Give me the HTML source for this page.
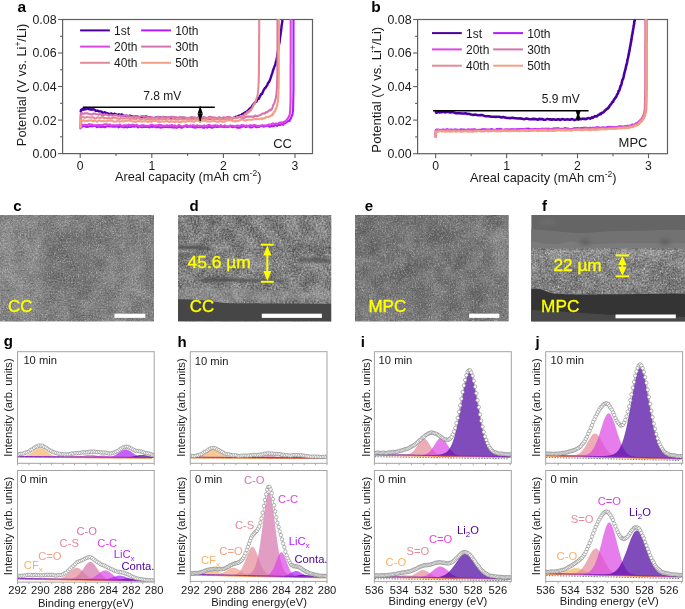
<!DOCTYPE html>
<html><head><meta charset="utf-8"><style>
html,body{margin:0;padding:0;background:#fff;width:685px;height:609px;overflow:hidden;}
</style></head><body>
<svg width="685" height="609" viewBox="0 0 685 609" style="position:absolute;left:0;top:0;will-change:transform" font-family='"Liberation Sans", sans-serif'>
<rect width="685" height="609" fill="#fff"/>
<defs>
<filter id="semn" x="0" y="0" width="100%" height="100%">
 <feTurbulence type="fractalNoise" baseFrequency="0.55" numOctaves="2" seed="3" result="t"/>
 <feColorMatrix type="matrix" values="0 0 0 0 1  0 0 0 0 1  0 0 0 0 1  1.1 0 0 0 -0.55" result="w"/>
 <feComposite in="w" in2="SourceGraphic" operator="in"/>
</filter>
<filter id="semd" x="0" y="0" width="100%" height="100%">
 <feTurbulence type="fractalNoise" baseFrequency="0.6" numOctaves="2" seed="9" result="t"/>
 <feColorMatrix type="matrix" values="0 0 0 0 0  0 0 0 0 0  0 0 0 0 0  0 1.2 0 0 -0.6" result="w"/>
 <feComposite in="w" in2="SourceGraphic" operator="in"/>
</filter>
<filter id="blur4" x="-60%" y="-60%" width="220%" height="220%"><feGaussianBlur stdDeviation="5"/></filter>
<filter id="blur2" x="-60%" y="-60%" width="220%" height="220%"><feGaussianBlur stdDeviation="2"/></filter>
<filter id="blur1" x="-60%" y="-60%" width="220%" height="220%"><feGaussianBlur stdDeviation="0.9"/></filter>
<filter id="blur3" x="-60%" y="-60%" width="220%" height="220%"><feGaussianBlur stdDeviation="3"/></filter>
<clipPath id="cc"><rect x="0" y="215" width="154" height="106.6"/></clipPath>
<clipPath id="cd"><rect x="178" y="215" width="153.3" height="106.6"/></clipPath>
<clipPath id="ce"><rect x="355" y="215" width="153.8" height="106.6"/></clipPath>
<clipPath id="cf"><rect x="531.2" y="215" width="153.8" height="106.6"/></clipPath>
</defs>
<rect x="62.6" y="19.5" width="249.9" height="134.1" fill="none" stroke="#5f5f5f" stroke-width="1.2"/>
<line x1="58.1" y1="153.6" x2="62.6" y2="153.6" stroke="#5f5f5f" stroke-width="1.1"/>
<text x="56.6" y="158" font-size="12.4" fill="#1a1a1a" text-anchor="end" font-weight="normal" >0.00</text>
<line x1="60.1" y1="136.8" x2="62.6" y2="136.8" stroke="#5f5f5f" stroke-width="1.1"/>
<line x1="58.1" y1="120.1" x2="62.6" y2="120.1" stroke="#5f5f5f" stroke-width="1.1"/>
<text x="56.6" y="124.5" font-size="12.4" fill="#1a1a1a" text-anchor="end" font-weight="normal" >0.02</text>
<line x1="60.1" y1="103.3" x2="62.6" y2="103.3" stroke="#5f5f5f" stroke-width="1.1"/>
<line x1="58.1" y1="86.5" x2="62.6" y2="86.5" stroke="#5f5f5f" stroke-width="1.1"/>
<text x="56.6" y="91" font-size="12.4" fill="#1a1a1a" text-anchor="end" font-weight="normal" >0.04</text>
<line x1="60.1" y1="69.8" x2="62.6" y2="69.8" stroke="#5f5f5f" stroke-width="1.1"/>
<line x1="58.1" y1="53" x2="62.6" y2="53" stroke="#5f5f5f" stroke-width="1.1"/>
<text x="56.6" y="57.4" font-size="12.4" fill="#1a1a1a" text-anchor="end" font-weight="normal" >0.06</text>
<line x1="60.1" y1="36.3" x2="62.6" y2="36.3" stroke="#5f5f5f" stroke-width="1.1"/>
<line x1="58.1" y1="19.5" x2="62.6" y2="19.5" stroke="#5f5f5f" stroke-width="1.1"/>
<text x="56.6" y="23.9" font-size="12.4" fill="#1a1a1a" text-anchor="end" font-weight="normal" >0.08</text>
<line x1="80.2" y1="153.6" x2="80.2" y2="158.1" stroke="#5f5f5f" stroke-width="1.1"/>
<text x="80.2" y="170" font-size="12.2" fill="#1a1a1a" text-anchor="middle" font-weight="normal" >0</text>
<line x1="116" y1="153.6" x2="116" y2="156.1" stroke="#5f5f5f" stroke-width="1.1"/>
<line x1="151.8" y1="153.6" x2="151.8" y2="158.1" stroke="#5f5f5f" stroke-width="1.1"/>
<text x="151.8" y="170" font-size="12.2" fill="#1a1a1a" text-anchor="middle" font-weight="normal" >1</text>
<line x1="187.6" y1="153.6" x2="187.6" y2="156.1" stroke="#5f5f5f" stroke-width="1.1"/>
<line x1="223.4" y1="153.6" x2="223.4" y2="158.1" stroke="#5f5f5f" stroke-width="1.1"/>
<text x="223.4" y="170" font-size="12.2" fill="#1a1a1a" text-anchor="middle" font-weight="normal" >2</text>
<line x1="259.2" y1="153.6" x2="259.2" y2="156.1" stroke="#5f5f5f" stroke-width="1.1"/>
<line x1="295" y1="153.6" x2="295" y2="158.1" stroke="#5f5f5f" stroke-width="1.1"/>
<text x="295" y="170" font-size="12.2" fill="#1a1a1a" text-anchor="middle" font-weight="normal" >3</text>
<text x="115" y="180.8" font-size="12.75" fill="#1a1a1a">Areal capacity (mAh cm<tspan font-size="8.5" dy="-5">-2</tspan><tspan dy="5">)</tspan></text>
<text transform="translate(26.3,85) rotate(-90)" font-size="12.8" fill="#1a1a1a" text-anchor="middle">Potential (V vs. Li<tspan font-size="8.5" dy="-5">+</tspan><tspan dy="5">/Li)</tspan></text>
<text x="17.5" y="11.8" font-size="15.5" fill="#000" text-anchor="start" font-weight="bold" >a</text>
<line x1="80.1" y1="30.4" x2="109.9" y2="30.4" stroke="#4a00a0" stroke-width="2"/>
<text x="114.1" y="34.8" font-size="12" fill="#1a1a1a" text-anchor="start" font-weight="normal" >1st</text>
<line x1="141.2" y1="30.4" x2="171" y2="30.4" stroke="#b01cff" stroke-width="2"/>
<text x="175.2" y="34.8" font-size="12" fill="#1a1a1a" text-anchor="start" font-weight="normal" >10th</text>
<line x1="80.1" y1="46.6" x2="109.9" y2="46.6" stroke="#dd44e4" stroke-width="2"/>
<text x="114.1" y="51" font-size="12" fill="#1a1a1a" text-anchor="start" font-weight="normal" >20th</text>
<line x1="141.2" y1="46.6" x2="171" y2="46.6" stroke="#d674ac" stroke-width="2"/>
<text x="175.2" y="51" font-size="12" fill="#1a1a1a" text-anchor="start" font-weight="normal" >30th</text>
<line x1="80.1" y1="62.8" x2="109.9" y2="62.8" stroke="#e48a98" stroke-width="2"/>
<text x="114.1" y="67.2" font-size="12" fill="#1a1a1a" text-anchor="start" font-weight="normal" >40th</text>
<line x1="141.2" y1="62.8" x2="171" y2="62.8" stroke="#f2a085" stroke-width="2"/>
<text x="175.2" y="67.2" font-size="12" fill="#1a1a1a" text-anchor="start" font-weight="normal" >50th</text>
<g fill="none" stroke-width="2.1" stroke-linejoin="round">
<path d="M80.5,111.5 L80.6,111.1 L80.7,111.6 L80.8,110.5 L80.9,111 L81.1,110.6 L81.2,109.9 L81.3,110.4 L81.5,109.5 L81.7,109.9 L82,109.2 L82.3,109 L82.6,109.3 L83,109.8 L83.3,108.6 L83.6,108.6 L84,109.1 L84.4,109.5 L84.8,108.8 L85.2,108.5 L85.7,109.3 L86.1,107.9 L86.6,109.1 L87,108.3 L87.5,108.1 L88,108.1 L88.6,108.5 L89.1,109.3 L89.6,108.5 L90.2,109.3 L90.8,109.5 L91.4,109.3 L92,109.7 L92.9,109.2 L93.8,109.4 L94.8,109.8 L95.8,110.8 L96.8,110.7 L97.9,110.7 L98.9,111.4 L100,111.4 L101.2,111.5 L102.4,112.5 L103.6,112.6 L104.9,112.2 L106.1,113 L107.4,113.2 L108.7,113.9 L110,113.9 L111.4,113.5 L112.9,114.8 L114.4,113.7 L115.9,114.4 L117.4,115.1 L118.9,114.3 L120.5,115 L122,114.5 L123.6,115.6 L125.2,115.9 L126.8,115.7 L128.4,116.3 L130,115.6 L131.7,116.3 L133.3,116.2 L135,116.3 L136.8,116.3 L138.6,117 L140.5,117.3 L142.3,116.7 L144.2,117.1 L146.1,116.3 L148,117.4 L150,117.4 L152.3,118.1 L154.7,117.9 L157.1,117.2 L159.6,117.5 L162.1,118 L164.6,117.1 L166,117.8 L167.3,117.4 L168.6,117.4 L170,117.3 L171.7,118.5 L173.5,117.5 L175.3,117.8 L177.1,118 L179,118.8 L180.9,117.7 L182.9,118.3 L184.8,118.5 L186.7,119 L188.7,118.9 L190.6,119 L192.5,118.2 L194.4,118.4 L196.3,118.4 L198.2,119.2 L200,119.3 L201.7,118.1 L203.3,118.1 L205,118.2 L206.7,118.2 L208.4,118.6 L210,118.8 L211.7,118.3 L213.3,117.9 L214.9,118.5 L216.6,118.4 L218.1,118.7 L219.6,119.3 L221,118.8 L222.4,118.5 L225,118.6 L226.5,118.6 L227.9,117.6 L229.2,118.8 L230.4,118.5 L231.6,118.6 L232.7,118.3 L233.9,117.6 L235,117.3 L236,116.7 L236.9,117.2 L237.8,116.1 L238.7,115.8 L239.5,115.7 L240.4,115.3 L241.2,115.2 L242,114.3 L242.7,113.8 L243.5,113.6 L244.2,113.1 L244.9,113 L245.6,112 L246.2,112.8 L246.9,111.9 L247.5,110.7 L248.1,110.3 L248.7,109.9 L249.2,109.4 L249.8,108.4 L250.3,108.9 L250.8,108.6 L251.4,107.1 L252,106.5 L252.8,104.9 L253.7,104 L254.6,103.2 L255.5,102 L256.4,101.7 L257.3,99.6 L258.1,98.3 L258.9,98.7 L259.5,97.2 L260,95.8 L260.5,95.6 L261,94.1 L261.5,94 L262,93.9 L262.5,92.9 L263,91.8 L263.6,90.1 L264.3,89.2 L265,87.9 L265.7,87.7 L266.4,86.3 L267.1,85.5 L267.7,83.8 L268.3,82.5 L268.8,82.3 L269.3,81.5 L269.8,80.2 L270.3,79 L270.7,77.9 L271.1,76.7 L271.6,74.8 L272,74 L272.5,72.4 L273,70.5 L273.5,69 L274,67.9 L274.5,66.4 L274.9,65.5 L275.4,64.3 L275.8,61.9 L276.3,60.7 L276.7,58.8 L277.1,56.7 L277.5,53.7 L277.9,51.4 L278.3,49.2 L278.6,46.9 L279,44.6 L279.2,43.7 L279.5,42.7 L279.7,41 L279.9,39 L280.1,37.6 L280.3,36.3 L280.6,33.6 L280.8,32.8 L281,31.5 L281.2,29.7 L281.4,28 L281.6,26 L281.9,23.9 L282.1,23.2 L282.3,20.9 L282.5,20" stroke="#4a00a0" stroke-width="2.4"/>
<path d="M80.5,129.2 L80.6,126.2 L80.8,126.2 L80.9,127 L81,126.7 L81.2,125.9 L81.3,125.8 L81.5,125.8 L81.7,126.9 L82,126.8 L84.2,125.8 L85.9,126.8 L87.5,127 L89,126.6 L90.4,126.1 L91.9,126.4 L93.5,125.9 L95.2,125.7 L96.9,127.2 L98.3,126.7 L99.7,126.6 L101.1,127.2 L102.5,126.5 L103.9,127.1 L105.4,127.1 L106.8,126.2 L108.3,126.3 L109.8,126.4 L111.3,126.3 L112.7,126.8 L114.2,126.4 L115.7,126.6 L117.1,126.2 L118.6,127.4 L120,126.6 L121.4,126.7 L122.9,126.9 L124.3,127.4 L125.8,126.7 L127.2,127.5 L128.6,126.9 L130,126.9 L131.4,126.9 L132.7,126.2 L134.1,126.8 L135.4,126.4 L136.8,126.2 L138.1,127.4 L139.6,126.4 L141,126.9 L142.4,127.3 L143.9,127 L145.3,126.7 L146.8,127 L148.2,127 L149.5,127.4 L150.8,126.4 L152.1,127.1 L153.4,126.6 L154.8,126.6 L156.1,127.4 L157.4,127 L158.7,127.1 L160,127.4 L161.3,127.6 L162.7,126.9 L164,127.2 L165.3,127 L166.7,127 L168,127.3 L169.3,126.9 L170.6,127.1 L172,127 L173.3,127.7 L174.6,127.3 L175.9,127.6 L177.2,127.7 L178.6,126.7 L179.9,127.1 L181.4,127.7 L182.8,127.5 L184.3,126.5 L185.8,126.5 L187.3,126.9 L188.7,126.4 L190.2,126.6 L191.6,126.4 L193,127.3 L194.4,127.4 L195.8,127.6 L197.2,126.5 L198.6,127.3 L200,127.2 L201.5,126.5 L202.9,127.6 L204.4,127.7 L205.8,126.6 L207.3,127.7 L208.8,126.8 L210.3,127 L211.8,127.7 L213.3,127.5 L214.8,126.5 L216.3,126.9 L217.8,127 L219.3,126.7 L220.8,126.5 L222.3,126.7 L223.9,127.3 L225.4,126.3 L226.9,127.1 L228.4,126.9 L229.8,126.3 L231.3,126.7 L232.8,127.2 L234.3,127 L235.8,126.3 L237.2,127.7 L238.6,127.4 L240,127.7 L241.4,126.4 L242.9,126.6 L244.3,126.2 L245.6,127.3 L246.9,126.5 L248.2,126.3 L249.5,126.7 L250.8,127.5 L252.1,127.3 L253.5,126.4 L254.9,126.2 L256.3,127.4 L257.7,126.8 L259.1,127 L260.6,126 L262.1,125.9 L263.5,126.7 L265,126.3 L267.4,125.6 L269.7,126.8 L271.7,126.1 L273.6,126.2 L275.3,124.9 L277,125.9 L278.5,124.4 L280,125.3 L280.9,124.5 L281.7,124.2 L282.5,124.3 L283.3,124.7 L284,123.5 L284.7,123 L285.3,123.3 L286,122.6 L286.6,122.1 L287.1,121.9 L287.7,121.4 L288.2,121.3 L288.7,121.1 L289.1,120.6 L289.6,120.9 L290,119.7 L290.4,119.4 L290.8,118.3 L291.2,117.8 L291.5,116.6 L291.8,116.2 L292,115 L292.3,115.3 L292.5,114.1 L292.8,112.1 L293,111.1 L293.1,110.2 L293.1,107.2 L293.2,106.5 L293.2,104 L293.2,102.1 L293.3,100.5 L293.3,98.5 L293.4,97.3 L293.4,96.3 L293.4,95.2 L293.4,92.7 L293.5,91.9 L293.5,90.1 L293.5,88.4 L293.5,86.4 L293.5,85 L293.5,83.2 L293.5,82 L293.5,80.7 L293.5,80.3 L293.5,78.2 L293.5,76.8 L293.5,75.3 L293.5,75.1 L293.5,73.8 L293.5,72.1 L293.5,70.2 L293.5,68.8 L293.5,67.5 L293.5,66.4 L293.5,64.6 L293.5,63.4 L293.5,61.4 L293.5,60.7 L293.5,59 L293.5,56.7 L293.5,54.6 L293.5,54 L293.5,51.3 L293.5,49.7 L293.5,47.5 L293.5,46.3 L293.5,44.8 L293.5,43.1 L293.5,41 L293.5,39.8 L293.5,37.3 L293.5,36 L293.5,34.1 L293.5,32.9 L293.5,30.6 L293.5,28.9 L293.5,27.6 L293.5,25.9 L293.5,24.7 L293.5,22.9 L293.5,21.6 L293.5,19.7" stroke="#b01cff"/>
<path d="M80.5,128.3 L80.5,127 L80.6,124.6 L80.8,124.5 L80.9,125.5 L81,124.2 L81.2,125 L81.3,124.9 L81.5,124 L81.7,125.1 L82,125.2 L84.2,124.7 L85.9,124.9 L87.5,125 L89,124 L90.4,124.6 L91.9,124.6 L93.5,125.2 L95.2,125.2 L96.9,125.2 L98.3,124.9 L99.7,125.4 L101.1,125.1 L102.5,125.2 L103.9,124.5 L105.4,124.2 L106.8,124.4 L108.3,124.8 L109.8,124.4 L111.3,125.6 L112.7,125.2 L114.2,125.3 L115.7,125.3 L117.1,125.4 L118.6,125.2 L120,124.5 L121.4,125.7 L122.9,125.6 L124.3,125.3 L125.8,125.3 L127.2,125.5 L128.7,124.6 L130,125.7 L131.4,125 L132.8,124.7 L134.1,125 L135.5,125.7 L136.8,124.9 L138.2,125.8 L139.6,126.1 L141.1,125.4 L142.5,125.3 L144,125.4 L145.4,125.8 L146.9,125.9 L148.3,125.7 L149.7,125.7 L151,124.9 L152.3,125 L153.6,125.2 L154.9,125.9 L156.2,125.3 L157.6,125.7 L158.9,124.9 L160.2,125 L161.5,125.3 L162.9,125.9 L164.2,125.9 L165.5,125.9 L166.9,125.3 L168.2,125.7 L169.5,125.6 L170.9,125.6 L172.2,125.1 L173.5,126.3 L174.8,125.3 L176.2,126.4 L177.5,126.4 L178.8,125 L180.1,125.7 L181.6,126.2 L183,126.5 L184.5,125.7 L186,125.4 L187.4,125.3 L188.9,126.5 L190.3,125.4 L191.7,125.9 L193.1,125.3 L194.5,125.8 L195.9,126.5 L197.2,125.2 L198.6,126.3 L200,125.8 L201.4,126.4 L202.7,126.1 L204.1,125.4 L205.4,126.4 L206.8,125.8 L208.2,125.1 L209.6,125.1 L211,125.8 L212.3,125.7 L213.7,125.5 L215.1,125.3 L216.5,125.6 L217.9,125.6 L219.3,126.4 L220.7,125.1 L222,126.2 L223.4,126.4 L224.8,125.3 L226.2,126.5 L227.5,126.2 L228.9,126.5 L230.2,125.5 L231.6,125.7 L232.9,125.7 L234.5,126.6 L236,126 L237.6,125.6 L239.1,125.7 L240.7,125.5 L242.1,125.1 L243.6,125.2 L245,126.3 L246.5,125.4 L247.9,126.4 L249.5,125.3 L251.1,125.3 L252.8,125.6 L254.4,125.1 L255.8,125.3 L257.2,126.1 L258.6,125.9 L260,125.8 L262.5,125.3 L264.9,125.5 L267,125.4 L269,124.5 L270.9,124.5 L272.7,123.3 L274.4,124.1 L276,123.4 L277.1,123.7 L278.1,123.5 L279.1,122.8 L280.1,122.4 L281,123.6 L281.8,122.2 L282.6,122.5 L283.4,122.1 L283.9,121.8 L284.5,122.2 L284.9,122.3 L285.4,120.9 L285.8,121.2 L286.2,120.3 L286.6,120.3 L287,119.6 L287.4,118.8 L287.8,118.3 L288.1,117.8 L288.4,118.3 L288.7,117 L289,116 L289.3,116.3 L289.5,115.7 L289.8,113.9 L289.9,112.3 L290.1,111.3 L290.2,109.9 L290.2,109 L290.3,107.3 L290.3,106.1 L290.4,104.6 L290.5,102.6 L290.5,101.7 L290.6,100.2 L290.6,98.2 L290.6,96.8 L290.6,95.4 L290.6,93.7 L290.6,92 L290.6,90 L290.6,88.6 L290.6,88 L290.6,84.9 L290.6,83.7 L290.6,82.1 L290.6,80.5 L290.6,78 L290.6,76.5 L290.6,74.9 L290.6,73.5 L290.6,72.2 L290.6,71.6 L290.6,70 L290.6,68.7 L290.6,66 L290.6,64.5 L290.6,64 L290.7,62.8 L290.7,60.7 L290.7,59.4 L290.7,57.2 L290.7,56.5 L290.7,56 L290.7,54.5 L290.7,53.2 L290.7,52.1 L290.7,49.7 L290.7,48.1 L290.7,46.9 L290.7,46.1 L290.7,45 L290.7,44 L290.7,42.3 L290.7,40.9 L290.7,39.7 L290.7,37.9 L290.7,36.7 L290.7,34.6 L290.7,34.3 L290.7,32.2 L290.7,31.9 L290.7,30.1 L290.7,28.3 L290.7,26.7 L290.7,25.3 L290.7,24.3 L290.7,22.9 L290.7,20.5 L290.7,18.9" stroke="#dd44e4"/>
<path d="M80.5,127 L80.5,125.8 L80.5,124.2 L80.5,122.6 L80.5,121.9 L80.5,119.7 L80.6,118.8 L80.6,117.7 L80.6,117.1 L80.6,115.3 L80.6,114.4 L80.8,113.7 L80.9,113.3 L81.1,113.3 L81.2,114.3 L81.4,113.9 L81.5,113.3 L81.7,112.8 L82,113.5 L83.2,113.7 L85,113.4 L87.1,113.3 L89.4,114 L92,114.6 L93.4,113.6 L94.7,113.5 L96,114 L97.4,114.2 L98.7,114.7 L100,114 L101.7,115 L103.4,115.1 L105.2,114.8 L107,114.5 L108.8,115.8 L110.7,114.9 L112.6,115.8 L114.5,115 L116.5,115.1 L118.4,116.1 L119.7,115.4 L121,116.5 L122.3,115.9 L124.3,115.5 L126.2,115.7 L128.1,116.1 L130,116.5 L131.9,117.1 L133.7,115.9 L135.6,116.4 L137.4,116.2 L139.2,117.4 L141.1,116.2 L142.9,116.1 L144.7,116.2 L146.6,116.7 L148.4,117.5 L150.3,117.6 L152.2,117.4 L154.1,117.8 L156,117.8 L157.4,116.9 L158.7,116.7 L160,117.9 L161.6,117.6 L163.1,116.6 L164.7,117.5 L166.3,117.1 L168,117.1 L169.6,117.1 L171.3,116.9 L172.9,116.7 L174.6,117.1 L176.3,117.2 L178,118.2 L179.6,116.9 L181.3,118.2 L183,117.1 L184.7,117.3 L186.5,118 L188.2,118 L189.9,117.5 L191.6,116.9 L193.3,117.5 L195,117.4 L196.6,118.2 L198.3,117.1 L200,117.4 L201.7,118.2 L203.4,116.9 L205.1,117.5 L206.5,118.1 L207.8,118 L209.1,116.9 L210.5,116.9 L211.8,117 L213.1,118.3 L214.5,117.3 L215.8,118 L217.2,118.2 L218.5,117.4 L219.9,117.3 L221.2,118.3 L222.5,117.8 L223.8,117.3 L225.1,117.9 L226.4,117.3 L228.1,117.3 L229.7,116.8 L231.4,117.9 L232.9,118.1 L234.4,117.7 L235.9,118.1 L237.3,116.7 L238.6,117 L240,117.3 L242.2,117.9 L244.4,117.8 L246.3,116.8 L248.2,116.5 L250,116.6 L251.7,116.5 L253.4,116.9 L255,115.5 L256.3,116.2 L257.5,115.9 L258.6,115.7 L259.8,115.3 L260.9,114.8 L261.9,114 L263,113.6 L264,113.3 L264.9,113.6 L265.7,112.2 L266.5,112 L267.3,112.5 L268.1,111.4 L268.9,110.7 L269.6,110.1 L270.2,110.4 L270.8,109.4 L271.4,109.7 L271.9,108.8 L272.4,108.2 L272.8,106.3 L273.2,105.1 L273.6,104.3 L274,104 L274.4,103.3 L274.8,101.9 L275.1,100.5 L275.4,99.7 L275.6,98.8 L275.9,97.7 L276.1,96.6 L276.3,95.5 L276.5,93.6 L276.7,91.2 L276.8,90.6 L276.9,88.1 L277,86.6 L277.1,84.4 L277.1,82.7 L277.2,79.5 L277.2,78.2 L277.3,76.8 L277.3,75.3 L277.3,75 L277.4,73.2 L277.4,71.5 L277.4,70.2 L277.4,69.8 L277.4,67.7 L277.4,65.8 L277.4,65.2 L277.4,63.5 L277.5,62.5 L277.5,59.7 L277.5,58.9 L277.5,58.1 L277.5,56.8 L277.5,55.6 L277.5,52.9 L277.5,52 L277.5,50.3 L277.5,49 L277.5,48.8 L277.5,46.9 L277.5,46 L277.5,43.8 L277.5,43.1 L277.5,41.1 L277.5,39.4 L277.5,38.8 L277.5,37.6 L277.5,35 L277.5,34.3 L277.5,33 L277.5,31 L277.5,29.9 L277.5,28.2 L277.5,26.9 L277.5,25.7 L277.5,24.9 L277.5,23.6 L277.5,21.7 L277.5,20.1 L277.5,19.2" stroke="#d674ac"/>
<path d="M80.5,127.3 L80.5,125.1 L80.5,123.9 L80.5,122.4 L80.6,121.9 L80.6,120.1 L80.6,118 L80.6,116.7 L80.8,117.1 L80.9,117.3 L81.1,117.5 L81.2,116.6 L81.4,116.7 L81.5,117.5 L81.7,117.1 L82,116.9 L83.2,116.9 L84.9,117.9 L87,117 L89.3,117.5 L91.8,117.3 L93.2,117.4 L94.5,118.2 L95.9,118.4 L97.3,117.5 L98.6,117.3 L100,118.1 L101.4,117.4 L102.8,117.1 L104.2,118.5 L105.7,117.9 L107.2,118.5 L108.7,117.9 L110.3,118.7 L111.9,118.1 L113.5,117.7 L115.2,117.5 L116.8,118.4 L118.5,118.5 L119.8,119 L121.1,117.8 L122.4,118.6 L123.7,118.3 L125.1,118.5 L126.4,118 L127.7,118.2 L129.1,118.6 L130.4,119.3 L131.8,118.1 L133.1,118.7 L134.5,119.2 L135.9,119.4 L137.3,118.3 L138.6,118.2 L140,119.5 L141.4,119.5 L142.8,118.8 L144.2,118.2 L145.6,119.5 L147,118.7 L148.6,119.5 L150.1,119.1 L151.6,119.5 L153.1,118.5 L154.6,119.4 L155.9,118.6 L157.2,118.9 L158.5,119.6 L159.8,119.6 L161.1,118.6 L162.4,118.7 L163.8,119 L165.1,119.2 L166.4,119 L167.8,118.6 L169.1,118.8 L170.4,119.5 L171.7,119.8 L173.1,118.5 L174.4,119.3 L175.7,119.6 L177,118.5 L178.3,119.7 L179.9,118.7 L181.4,119.4 L183,119.3 L184.5,119.4 L186,119 L187.5,119.1 L188.9,119.4 L190.4,119.1 L191.9,119.5 L193.3,119.2 L194.7,119.1 L196,118.5 L197.3,119.4 L198.7,119.2 L200,118.8 L201.5,119.6 L203.1,119.6 L204.6,119.1 L206.1,118.7 L207.6,119.1 L209.1,118.6 L210.6,118.6 L212,119 L213.5,118.5 L214.9,119 L216.3,119.1 L217.7,118.4 L219,119.3 L220.3,118.4 L221.7,119.4 L223.6,119.4 L225.4,118.9 L227.2,118.1 L228.9,118.7 L230.4,118.3 L232,119 L233.7,117.5 L235.3,118.3 L236.8,118.2 L238.2,117.5 L239.5,117.2 L240.7,115.9 L241.9,116.7 L243,115.5 L243.8,115.8 L244.5,115.4 L245.1,113.8 L245.7,114.4 L246.3,114.1 L246.9,112.4 L247.5,112.4 L248,112.6 L248.5,111.3 L248.9,112.1 L249.3,110.9 L249.7,111.3 L250.1,110 L250.5,110.2 L250.9,110.4 L251.3,108.9 L251.8,108.3 L252.3,108 L252.7,106.9 L253.2,105.7 L253.6,105.1 L254,104.2 L254.4,104.5 L254.8,103.3 L255.2,102.8 L255.5,100.8 L255.9,100.9 L256.2,99.1 L256.5,98.8 L256.8,98.1 L257.1,96.8 L257.3,96.6 L257.6,94.9 L257.8,93.7 L257.9,92.8 L258.1,90.4 L258.2,90.3 L258.3,88.3 L258.4,86.5 L258.5,85.4 L258.6,83.3 L258.6,83.1 L258.7,81.1 L258.7,79.4 L258.8,78.5 L258.8,76.5 L258.8,74.6 L258.9,73.9 L258.9,71.2 L258.9,70.7 L258.9,68.2 L258.9,67.1 L258.9,65.9 L259,63.6 L259,62 L259,59.7 L259,57.7 L259,56.2 L259,54.9 L259.1,54 L259.1,52.1 L259.1,50.6 L259.1,49.5 L259.1,46.7 L259.1,45.1 L259.1,44 L259.1,41.4 L259.1,39.6 L259.1,38.8 L259.1,37.1 L259.1,36.2 L259.1,34.7 L259.2,33.9 L259.2,32.6 L259.2,30.7 L259.2,30 L259.2,28.5 L259.2,26.7 L259.2,26.6 L259.2,24.2 L259.2,22.4 L259.2,20.6 L259.2,19.7" stroke="#e48a98"/>
<path d="M80.5,128.6 L80.5,127 L80.5,125.1 L80.6,123.4 L80.6,121.7 L80.6,121.2 L80.8,121.1 L80.9,120.8 L81.1,121.2 L81.2,120.9 L81.4,121.7 L81.5,121.4 L81.7,120.6 L82,121.6 L83.2,120.3 L84.9,121 L86.9,120.9 L89.2,120.6 L91.7,120.3 L93,121.4 L94.4,120.3 L95.8,121.1 L97.2,121.7 L98.6,120.5 L100,120.5 L101.7,121.2 L103.4,121 L105.1,121.2 L106.5,121.5 L107.9,120.6 L109.3,120.8 L110.7,120.8 L112.3,120.4 L113.8,121.7 L115.4,121.5 L116.9,121.4 L118.2,120.4 L119.5,121.6 L120.8,121.5 L122.1,121.1 L123.4,121.5 L124.8,121.1 L126.1,120.8 L127.5,120.6 L128.8,120.8 L130.2,120.5 L131.5,121 L132.9,121.6 L134.2,121.5 L135.6,121.7 L136.9,121.6 L138.2,120.9 L139.6,121.3 L140.9,121.2 L142.2,121.7 L143.6,121.3 L145.2,120.9 L146.8,121.5 L148.4,122 L150,120.9 L151.6,121.9 L153.1,120.6 L154.7,121 L156.3,120.9 L157.9,121.7 L159.5,122 L161,121.7 L162.6,121.1 L164.2,121.9 L165.8,121.1 L167.4,121 L169,122 L170.6,121.6 L172.2,121.7 L173.8,121.6 L175.3,122.1 L176.9,121.3 L178.5,121.9 L180.1,121.7 L181.7,121.9 L183.2,121.3 L184.8,121.7 L186.3,121.5 L187.9,121.1 L189.4,120.9 L191,121.5 L192.5,120.7 L194,122 L195.5,120.8 L197,120.6 L198.5,120.7 L200,121.9 L201.3,121.1 L202.7,120.7 L204,120.6 L205.3,120.6 L206.7,121.5 L208,121.4 L209.3,121.5 L210.7,121.5 L212,120.5 L213.4,121.3 L214.7,120.9 L216,121.6 L217.3,121.6 L218.6,121.7 L220,120.4 L221.3,121.6 L223,121.6 L224.7,121.6 L226.4,120.3 L228,120.5 L229.6,120.3 L231.2,120.1 L232.7,121.3 L234.3,121.2 L235.8,120.9 L237.2,121.1 L238.6,120.8 L240,120.2 L241.3,119.8 L242.6,119.8 L245.2,120.6 L247.6,119.7 L249.9,119.7 L252.1,119.7 L254.2,118.9 L256.1,119.1 L258,118.9 L259.2,119.4 L260.3,118.7 L261.3,118.4 L262.3,119.2 L263.2,118.3 L264.2,118.5 L265.1,118 L266,116.8 L266.8,117.1 L267.6,116.9 L268.4,117.2 L269.2,116.2 L270,116.5 L270.7,115.9 L271.4,115 L272,115.5 L272.6,113.9 L273.1,114.4 L273.5,112.9 L274,112 L274.4,111.6 L274.8,111.8 L275.2,111.4 L275.5,109.3 L275.9,109.2 L276.2,108.4 L276.5,108 L276.7,106.3 L277,105.9 L277.2,104.7 L277.4,104.5 L277.6,102.6 L277.8,102.3 L278,99.8 L278.1,98.2 L278.2,97.4 L278.3,95.5 L278.4,93.1 L278.4,92.1 L278.5,89.4 L278.6,88.9 L278.6,87.2 L278.6,85.6 L278.7,83.7 L278.7,81.4 L278.7,79.7 L278.7,77.8 L278.7,76.6 L278.7,74.1 L278.8,74 L278.8,71.4 L278.8,70.3 L278.8,69.1 L278.8,68.7 L278.8,66.8 L278.8,65.2 L278.8,64.6 L278.8,62.3 L278.8,61.3 L278.8,60 L278.8,58.8 L278.8,57.2 L278.8,55.4 L278.8,53.4 L278.8,51.7 L278.8,49.8 L278.8,49.1 L278.9,47.2 L278.9,45.6 L278.9,43.1 L278.9,41.7 L278.9,40.5 L278.9,38.5 L278.9,36.1 L278.9,34.9 L278.9,33.8 L278.9,31.1 L278.9,29.3 L278.9,27.7 L278.9,26.6 L278.9,25.1 L278.9,22.4 L278.9,20.7 L278.9,19.1" stroke="#f2a085"/>
</g>
<line x1="82.8" y1="107.3" x2="214.8" y2="107.3" stroke="#000" stroke-width="1.5"/>
<line x1="200.2" y1="106.5" x2="200.2" y2="121" stroke="#000" stroke-width="1.2"/>
<path d="M200.2,106 L202.8,113.6 L197.6,113.6 Z M200.2,121.6 L202.8,113.8 L197.6,113.8 Z" fill="#000"/>
<text x="143.3" y="99.9" font-size="12" fill="#1a1a1a" text-anchor="start" font-weight="normal" >7.8 mV</text>
<text x="273.2" y="147.7" font-size="13" fill="#1a1a1a" text-anchor="start" font-weight="normal" >CC</text>
<rect x="417.6" y="19.5" width="249.9" height="134.2" fill="none" stroke="#5f5f5f" stroke-width="1.2"/>
<line x1="413.1" y1="153.7" x2="417.6" y2="153.7" stroke="#5f5f5f" stroke-width="1.1"/>
<text x="411.6" y="158.1" font-size="12.4" fill="#1a1a1a" text-anchor="end" font-weight="normal" >0.00</text>
<line x1="415.1" y1="136.9" x2="417.6" y2="136.9" stroke="#5f5f5f" stroke-width="1.1"/>
<line x1="413.1" y1="120.1" x2="417.6" y2="120.1" stroke="#5f5f5f" stroke-width="1.1"/>
<text x="411.6" y="124.5" font-size="12.4" fill="#1a1a1a" text-anchor="end" font-weight="normal" >0.02</text>
<line x1="415.1" y1="103.4" x2="417.6" y2="103.4" stroke="#5f5f5f" stroke-width="1.1"/>
<line x1="413.1" y1="86.6" x2="417.6" y2="86.6" stroke="#5f5f5f" stroke-width="1.1"/>
<text x="411.6" y="91" font-size="12.4" fill="#1a1a1a" text-anchor="end" font-weight="normal" >0.04</text>
<line x1="415.1" y1="69.8" x2="417.6" y2="69.8" stroke="#5f5f5f" stroke-width="1.1"/>
<line x1="413.1" y1="53" x2="417.6" y2="53" stroke="#5f5f5f" stroke-width="1.1"/>
<text x="411.6" y="57.4" font-size="12.4" fill="#1a1a1a" text-anchor="end" font-weight="normal" >0.06</text>
<line x1="415.1" y1="36.3" x2="417.6" y2="36.3" stroke="#5f5f5f" stroke-width="1.1"/>
<line x1="413.1" y1="19.5" x2="417.6" y2="19.5" stroke="#5f5f5f" stroke-width="1.1"/>
<text x="411.6" y="23.9" font-size="12.4" fill="#1a1a1a" text-anchor="end" font-weight="normal" >0.08</text>
<line x1="435.6" y1="153.7" x2="435.6" y2="158.2" stroke="#5f5f5f" stroke-width="1.1"/>
<text x="435.6" y="170.1" font-size="12.2" fill="#1a1a1a" text-anchor="middle" font-weight="normal" >0</text>
<line x1="471.1" y1="153.7" x2="471.1" y2="156.2" stroke="#5f5f5f" stroke-width="1.1"/>
<line x1="506.6" y1="153.7" x2="506.6" y2="158.2" stroke="#5f5f5f" stroke-width="1.1"/>
<text x="506.6" y="170.1" font-size="12.2" fill="#1a1a1a" text-anchor="middle" font-weight="normal" >1</text>
<line x1="542" y1="153.7" x2="542" y2="156.2" stroke="#5f5f5f" stroke-width="1.1"/>
<line x1="577.5" y1="153.7" x2="577.5" y2="158.2" stroke="#5f5f5f" stroke-width="1.1"/>
<text x="577.5" y="170.1" font-size="12.2" fill="#1a1a1a" text-anchor="middle" font-weight="normal" >2</text>
<line x1="613" y1="153.7" x2="613" y2="156.2" stroke="#5f5f5f" stroke-width="1.1"/>
<line x1="648.5" y1="153.7" x2="648.5" y2="158.2" stroke="#5f5f5f" stroke-width="1.1"/>
<text x="648.5" y="170.1" font-size="12.2" fill="#1a1a1a" text-anchor="middle" font-weight="normal" >3</text>
<text x="470" y="182" font-size="12.75" fill="#1a1a1a">Areal capacity (mAh cm<tspan font-size="8.5" dy="-5">-2</tspan><tspan dy="5">)</tspan></text>
<text transform="translate(380.9,89.7) rotate(-90)" font-size="13.2" fill="#1a1a1a" text-anchor="middle">Potential (V vs. Li<tspan font-size="8.5" dy="-5">+</tspan><tspan dy="5">/Li)</tspan></text>
<text x="371.2" y="12.2" font-size="15.5" fill="#000" text-anchor="start" font-weight="bold" >b</text>
<line x1="432" y1="33.1" x2="461.8" y2="33.1" stroke="#4a00a0" stroke-width="2"/>
<text x="466" y="37.5" font-size="12" fill="#1a1a1a" text-anchor="start" font-weight="normal" >1st</text>
<line x1="493.2" y1="33.1" x2="523" y2="33.1" stroke="#b01cff" stroke-width="2"/>
<text x="527.2" y="37.5" font-size="12" fill="#1a1a1a" text-anchor="start" font-weight="normal" >10th</text>
<line x1="432" y1="49.4" x2="461.8" y2="49.4" stroke="#dd44e4" stroke-width="2"/>
<text x="466" y="53.8" font-size="12" fill="#1a1a1a" text-anchor="start" font-weight="normal" >20th</text>
<line x1="493.2" y1="49.4" x2="523" y2="49.4" stroke="#d674ac" stroke-width="2"/>
<text x="527.2" y="53.8" font-size="12" fill="#1a1a1a" text-anchor="start" font-weight="normal" >30th</text>
<line x1="432" y1="65.7" x2="461.8" y2="65.7" stroke="#e48a98" stroke-width="2"/>
<text x="466" y="70.1" font-size="12" fill="#1a1a1a" text-anchor="start" font-weight="normal" >40th</text>
<line x1="493.2" y1="65.7" x2="523" y2="65.7" stroke="#f2a085" stroke-width="2"/>
<text x="527.2" y="70.1" font-size="12" fill="#1a1a1a" text-anchor="start" font-weight="normal" >50th</text>
<g fill="none" stroke-width="1.9" stroke-linejoin="round">
<path d="M435.6,112.6 L435.8,112.7 L435.9,112.2 L436.1,112.3 L436.2,112 L436.4,112.8 L436.6,112.4 L436.8,111.6 L437,112.6 L437.7,111.4 L438.5,111.7 L439.4,112.4 L440.4,112.3 L441.5,112.3 L442.7,112 L443.8,111.8 L445,112.4 L446.7,111.8 L448.4,112 L450.3,112.4 L452.2,112.1 L454.2,112.6 L456.1,113.3 L458.1,113.3 L460,113.2 L461.9,113.5 L463.8,113.5 L465.6,113.3 L467.5,114 L469.4,113.9 L471.3,114.5 L473.1,114.9 L475,114.5 L476.9,114.9 L478.8,115.3 L480.6,115.1 L482.5,115.1 L484.4,115.9 L486.2,116.3 L488.1,116.3 L490,116.4 L491.9,116.8 L493.7,116.8 L495.6,116.9 L497.5,116.8 L499.4,116.8 L501.2,117.4 L503.1,116.9 L505,117.4 L506.9,118 L508.7,118 L510.6,118.1 L512.4,117.7 L514.3,118.1 L516.2,118.2 L518.1,118.5 L520,118.4 L522.2,118.8 L524.3,119.2 L526.5,118.4 L528.8,119.1 L531,119.3 L533.3,118.9 L535.7,119.1 L538,119.8 L539.3,118.7 L540.7,119.3 L542,118.9 L543.4,119.6 L544.8,119.8 L546.2,119.4 L547.6,118.9 L549,119.4 L550.4,119.4 L551.8,119.6 L553.2,119.4 L554.6,119.5 L555.9,119.8 L557.3,119.4 L558.7,119.3 L560,119.9 L562.5,119.1 L564.9,119.7 L567.4,119.3 L569.9,119.8 L572.2,119.1 L574.5,120.1 L576.7,119.3 L578.7,118.9 L580,119.1 L581.3,119.1 L582.5,118.6 L583.7,119 L584.8,118.9 L585.9,119.1 L587,118.5 L588,118.2 L588.9,118 L589.7,118.5 L590.5,118.6 L591.2,117.9 L592,117.3 L592.8,117.8 L593.5,117 L594.3,116.6 L595.1,116.1 L596,116.5 L596.9,116.2 L597.7,115.5 L598.6,114.9 L599.4,114.5 L600.2,113.7 L601,114.1 L601.8,112.8 L602.5,112.7 L603.3,112.4 L604,111.8 L604.7,110.9 L605.4,110.1 L606.1,109.8 L606.8,108.7 L607.5,108.8 L608.2,107.5 L608.9,107.4 L609.5,105.9 L610.2,105.2 L610.8,104.3 L611.4,103.7 L612,102.6 L612.6,101.6 L613.1,101.7 L613.6,100.4 L614.1,99.6 L614.6,98.9 L615.1,98.3 L615.6,97.4 L616.1,96.8 L616.6,95.8 L617.1,94.4 L617.6,94.1 L618.1,92.9 L618.6,90.9 L619.1,90.7 L619.5,89.7 L620,88.3 L620.5,86.1 L621.1,85.4 L621.6,83.5 L622.1,81.1 L622.6,79.4 L623.1,78.9 L623.6,76.8 L624,74.7 L624.4,73 L624.8,71.5 L625.2,70 L625.5,69.2 L625.9,67.1 L626.3,65.3 L626.6,64.5 L627,62.7 L627.5,59.6 L628,58.1 L628.5,55.2 L628.8,54.1 L629,52.7 L629.3,51.7 L629.5,50.3 L629.8,49 L630,46.9 L630.3,46.2 L630.5,44.7 L630.8,43.6 L631,41.9 L631.2,41.1 L631.5,39.3 L631.7,37.6 L632,36.1 L632.2,34.6 L632.5,33.6 L632.7,31.7 L632.9,30.7 L633.2,28.9 L633.4,27.9 L633.6,26.5 L633.9,25.1 L634.1,24.1 L634.3,21.6 L634.6,21.2 L634.8,19.4" stroke="#4a00a0" stroke-width="2.6"/>
<path d="M435.6,137.6 L435.6,136.2 L435.6,134.9 L435.7,132.9 L435.7,131.5 L435.7,130.6 L436,129.6 L436.2,130.1 L436.4,130.1 L436.7,129.4 L436.9,130 L437.2,130 L437.6,130.2 L438,129.5 L440.2,130.1 L441.7,129.6 L443.2,129.5 L445.1,130 L447,129 L448.4,129.8 L449.8,129.7 L451.2,129.4 L452.8,129.9 L454.3,129.4 L455.9,129.5 L457.4,129.6 L459,129.9 L460.6,129.3 L462.2,129.5 L463.8,129.5 L465.4,129.7 L466.9,130 L468.5,129.4 L470,130 L471.4,129.5 L472.9,129.6 L474.3,129.3 L475.8,129.6 L477.3,130.1 L478.8,129.7 L480.3,129.8 L481.8,129.3 L483.4,129.3 L485,129.3 L486.6,129.6 L488.2,129.6 L489.8,129.7 L491.4,128.9 L493,129.6 L494.7,129.8 L496,129.4 L497.3,128.9 L498.6,129.1 L499.9,128.8 L501.2,129 L502.8,129.8 L504.4,129.4 L506,129.4 L507.6,129.6 L509.2,129.7 L510.8,129.3 L512.4,129.3 L513.9,129.3 L515.5,129.4 L517,129.2 L518.5,129.3 L520,128.8 L521.3,129.3 L522.6,129 L523.9,129.3 L525.3,128.6 L527,128.7 L528.7,128.5 L530.4,129.3 L532.2,129.4 L533.9,129.1 L535.6,128.8 L537.3,129.3 L539,129.2 L540.6,128.9 L542.3,128.6 L544,128.6 L545.6,128.7 L547.2,128.6 L548.9,128.7 L550.5,128.9 L552.1,129.2 L553.7,128.2 L555.3,128.7 L556.9,128.1 L558.4,128.2 L560,128.9 L561.3,128.7 L562.7,129 L564,128.5 L565.3,128 L566.6,128.4 L567.9,128.6 L569.9,128.9 L571.8,128.9 L573.7,128.3 L575.6,128.2 L577.5,127.9 L579.4,128.4 L581.2,127.9 L583,127.8 L584.8,127.6 L586.6,127.6 L588.3,128.3 L590,127.6 L591.4,128.5 L592.7,127.5 L594,128.3 L595.4,127.4 L597.9,127.2 L600.4,127.9 L602.9,127.3 L605.3,127.7 L607.7,127 L610,126.7 L612,127.4 L614,127.2 L615.9,127.3 L617.8,127 L619.7,126.2 L621.5,126.6 L623.3,126.5 L625,126.1 L626.4,126.4 L627.7,125.5 L629,126.1 L630.3,125.7 L631.6,124.7 L632.7,124.5 L633.9,124.8 L634.9,124.6 L635.7,123.5 L636.4,123.3 L637.1,123.4 L637.8,122.3 L638.4,122.6 L639,121.7 L639.5,120.7 L640.1,120.5 L640.6,120.1 L641.1,119.4 L641.6,119.1 L642.1,117.9 L642.5,117.9 L642.9,116.8 L643.3,116.4 L643.6,115.7 L643.9,114.8 L644.2,114.1 L644.4,113.8 L644.6,113.2 L644.8,112.3 L645,111.3 L645.2,110.2 L645.3,109.1 L645.5,109.1 L645.6,107.7 L645.7,106.8 L645.7,105.2 L645.8,104.3 L645.8,103.4 L645.9,101.9 L645.9,100.1 L645.9,97.9 L646,96.2 L646,95.3 L646,93.3 L646,92.1 L646.1,90.4 L646.1,89.1 L646.1,87.4 L646.1,85.5 L646.1,83.8 L646.1,82.8 L646.1,81.6 L646.1,80.5 L646.1,79.3 L646.1,78 L646.1,75.7 L646.1,75.2 L646.1,73.8 L646.1,72.5 L646.1,70.7 L646.1,69 L646.1,68.3 L646.1,66.9 L646.1,65.4 L646.1,64.4 L646.1,62.4 L646.1,60.8 L646.1,60.1 L646.1,58.6 L646.1,56.3 L646.1,55.2 L646.1,53.7 L646.1,51.3 L646.1,50 L646.1,48.4 L646.1,46.5 L646.1,44.5 L646.1,42.8 L646.2,41.7 L646.2,40 L646.2,38 L646.2,35.9 L646.2,35 L646.2,33.2 L646.2,31 L646.2,29.6 L646.2,28.3 L646.2,26.6 L646.2,24.5 L646.2,22.8 L646.2,21.2 L646.2,19.1" stroke="#b01cff"/>
<path d="M435.6,137.2 L435.6,135.7 L435.6,134.9 L435.7,133.1 L435.7,132 L435.7,130.4 L436,130.5 L436.2,130 L436.4,129.8 L436.7,130.8 L436.9,130.1 L437.2,129.8 L437.6,130.3 L438,130.4 L440.2,129.6 L441.7,130.1 L443.2,129.8 L445.1,129.9 L447,129.4 L448.4,129.4 L449.8,130.5 L451.2,130.3 L452.8,129.9 L454.3,130 L455.9,129.7 L457.4,130.3 L459,129.9 L460.6,130.5 L462.2,130.3 L463.8,130.4 L465.4,130.5 L466.9,129.7 L468.5,129.5 L470,129.7 L471.4,129.6 L472.9,129.5 L474.3,129.5 L475.8,130 L477.3,130.4 L478.8,129.9 L480.3,130.4 L481.8,130.4 L483.4,129.4 L485,130 L486.6,129.7 L488.2,129.4 L489.8,130.3 L491.4,129.5 L493,129.9 L494.7,129.9 L496,130.3 L497.3,129.9 L498.6,129.6 L499.9,129.7 L501.2,129.3 L502.8,130.2 L504.4,130.2 L506,129.4 L507.6,129.1 L509.2,129.4 L510.8,129.4 L512.4,130 L513.9,130 L515.5,129.9 L517,129 L518.5,129.8 L520,129.7 L521.3,129.6 L522.6,130 L523.9,129 L525.3,129.1 L527,129.7 L528.7,129.9 L530.4,129.6 L532.2,129.1 L533.9,129.4 L535.6,129.6 L537.3,128.9 L539,129.1 L540.6,129 L542.3,128.8 L544,129.2 L545.6,128.8 L547.2,128.9 L548.9,128.8 L550.5,129.3 L552.1,128.6 L553.7,129.3 L555.3,128.7 L556.9,128.5 L558.4,129.5 L560,128.7 L561.3,129.5 L562.7,129.4 L564,129.4 L565.3,128.5 L566.6,128.8 L567.9,128.4 L569.9,129.3 L571.8,129.2 L573.7,128.9 L575.6,128.7 L577.5,128.5 L579.4,129 L581.2,128.6 L583,128.7 L584.8,128.1 L586.6,128.2 L588.3,128 L590,128.6 L591.4,128.4 L592.7,127.9 L594,128.7 L595.4,128 L597.9,128 L600.4,127.7 L602.9,127.7 L605.3,128.2 L607.7,127.5 L610,127.2 L612,127.5 L614,127.2 L615.9,127.7 L617.8,126.7 L619.7,127.5 L621.5,126.4 L623.3,127.1 L625,126.7 L626.4,126 L627.7,126.2 L629,125.8 L630.3,125.6 L631.5,125.3 L632.7,125.2 L633.8,125.6 L634.8,125.2 L635.6,124.8 L636.3,123.5 L637,123.3 L637.6,123.5 L638.3,122.1 L638.9,122.3 L639.4,121.3 L640,121.5 L640.5,119.9 L641,120.2 L641.5,119.1 L642,118.2 L642.4,117.5 L642.8,117.7 L643.2,116.7 L643.5,115.7 L643.8,115.2 L644.1,115.1 L644.3,113.6 L644.5,113.2 L644.7,112 L644.9,111.3 L645.1,111.1 L645.2,110.2 L645.4,108.6 L645.5,107.4 L645.6,106.3 L645.6,105.7 L645.7,104.4 L645.7,102.8 L645.8,101.3 L645.8,100.1 L645.8,98.4 L645.9,96.6 L645.9,94.9 L645.9,93 L645.9,91.4 L646,90.5 L646,88.5 L646,87.2 L646,85.2 L646,84.7 L646,82.8 L646,82.1 L646,80.7 L646,78.9 L646,77 L646,76.6 L646,74.8 L646,73.8 L646,71.8 L646,70.3 L646,69.6 L646,67.8 L646,66.2 L646,65.1 L646,63.6 L646,61.2 L646,60 L646,58.3 L646,56.6 L646,54.5 L646,53.5 L646,51.9 L646,50.3 L646,48 L646,46.7 L646,44.7 L646,43.4 L646.1,40.9 L646.1,40.1 L646.1,38.5 L646.1,36.3 L646.1,34.7 L646.1,33 L646.1,31.3 L646.1,29 L646.1,28.4 L646.1,25.9 L646.1,24.1 L646.1,22.3 L646.1,20.8 L646.1,19.7" stroke="#dd44e4"/>
<path d="M435.6,137 L435.6,135.5 L435.6,134.6 L435.7,132.4 L435.7,130.7 L436,131.3 L436.2,131.2 L436.4,131.1 L436.7,131.2 L436.9,130.5 L437.2,131.3 L437.6,131.1 L438,130.3 L440.2,130.3 L441.7,130.6 L443.2,130.6 L445.1,130.4 L447,130.2 L448.4,130.5 L449.8,130.2 L451.2,130.7 L452.8,131 L454.3,130.3 L455.9,130.7 L457.4,130.9 L459,130.3 L460.6,131.1 L462.2,131.2 L463.8,130.6 L465.4,130.6 L466.9,131.1 L468.5,130.7 L470,130.6 L471.4,131.2 L472.9,131 L474.3,130.5 L475.8,130.4 L477.3,130.5 L478.8,130.6 L480.3,131.1 L481.8,130.9 L483.4,131 L485,130.9 L486.6,130.9 L488.2,130.1 L489.8,130.5 L491.4,131 L493,131 L494.7,130.2 L496,130.4 L497.3,130.6 L498.6,130.3 L499.9,130.5 L501.2,129.9 L502.8,130.3 L504.4,130.4 L506,129.8 L507.6,129.9 L509.2,130.8 L510.8,130.6 L512.4,130.8 L513.9,130.4 L515.5,130.6 L517,130.7 L518.5,130.6 L520,129.7 L521.3,130.3 L522.6,129.9 L523.9,130.4 L525.3,129.9 L527,130.2 L528.7,130.6 L530.4,130.2 L532.2,129.8 L533.9,130.1 L535.6,130 L537.3,130.5 L539,129.8 L540.6,129.8 L542.3,130.1 L544,129.5 L545.6,130 L547.2,130.4 L548.9,129.9 L550.5,129.6 L552.1,129.8 L553.7,129.8 L555.3,129.4 L556.9,129.3 L558.4,129.3 L560,129.5 L561.3,129.6 L562.7,129.4 L564,129.4 L565.3,129.2 L566.6,129.6 L567.9,129.9 L569.9,129.7 L571.8,129.6 L573.7,129.6 L575.6,129.1 L577.5,129.6 L579.4,129.3 L581.2,129.4 L583,129.4 L584.8,129.2 L586.6,129 L588.3,128.9 L590,128.8 L591.4,129.1 L592.7,128.9 L594,129.1 L595.4,128.4 L597.9,128.7 L600.4,129.1 L602.9,128.4 L605.3,128.6 L607.7,128.4 L610,128.1 L612,128.7 L614,127.9 L616,128.3 L617.9,127.5 L619.8,127.3 L621.6,128 L623.3,127.3 L625,126.7 L626.2,126.9 L627.5,126.8 L628.6,127 L629.8,126.1 L630.9,126 L631.9,126.6 L632.9,126 L633.9,125 L634.7,124.9 L635.4,124.5 L636.1,124.4 L636.7,123.9 L637.4,123.7 L638,123.1 L638.5,122.3 L639.1,122 L639.6,121.4 L640.1,120.9 L640.6,119.9 L641.1,119.7 L641.5,118.9 L641.9,118.5 L642.3,117 L642.6,117.1 L642.9,115.5 L643.2,115.6 L643.4,114.7 L643.6,113.9 L643.8,113.6 L644,112.4 L644.2,111.5 L644.3,111 L644.5,110 L644.6,108.5 L644.7,107.1 L644.7,105.9 L644.8,104.6 L644.8,103.5 L644.9,101.5 L644.9,99.9 L644.9,98.2 L645,96.1 L645,94.6 L645,93.6 L645,92.2 L645.1,90.2 L645.1,88.5 L645.1,86.5 L645.1,85.3 L645.1,83.9 L645.1,83 L645.1,81.7 L645.1,79.8 L645.1,79.3 L645.1,77.3 L645.1,76.5 L645.1,75.1 L645.1,73.9 L645.1,71.7 L645.1,70.5 L645.1,69.7 L645.1,67.4 L645.1,66 L645.1,65.3 L645.1,63.5 L645.1,62.2 L645.1,60.3 L645.1,58.4 L645.1,57.2 L645.1,55 L645.1,53.3 L645.1,51.8 L645.1,49.7 L645.1,48 L645.1,46.6 L645.1,44.6 L645.1,43.6 L645.2,41.6 L645.2,39.7 L645.2,37.6 L645.2,36.2 L645.2,34.5 L645.2,33 L645.2,31.3 L645.2,30 L645.2,28.4 L645.2,26.2 L645.2,24.4 L645.2,22.9 L645.2,21.6 L645.2,19.2" stroke="#d674ac"/>
<path d="M435.6,137.5 L435.6,136.4 L435.6,134.2 L435.7,132.9 L435.7,132.2 L436,132 L436.2,131.6 L436.4,131.1 L436.7,131.9 L436.9,131.6 L437.2,131.7 L437.6,131.9 L438,131.7 L440.2,131.1 L441.7,130.8 L443.2,130.9 L445.1,131.1 L447,131.1 L448.4,130.8 L449.8,130.8 L451.2,131.3 L452.8,131.3 L454.3,131 L455.9,131.7 L457.4,131.3 L459,130.7 L460.6,131.1 L462.2,131.5 L463.8,131 L465.4,131.4 L466.9,130.7 L468.5,131 L470,131.6 L471.4,131.3 L472.9,131.4 L474.3,130.8 L475.8,131.2 L477.3,131.2 L478.8,130.9 L480.3,131.3 L481.8,131.1 L483.4,131.6 L485,131.2 L486.6,131 L488.2,130.6 L489.8,130.7 L491.4,131.3 L493,130.6 L494.7,130.5 L496,130.6 L497.3,131 L498.6,131.3 L499.9,131 L501.2,131.2 L502.8,130.4 L504.4,130.3 L506,131.2 L507.6,130.6 L509.2,131.1 L510.8,130.6 L512.4,130.4 L513.9,130.5 L515.5,130.3 L517,131.2 L518.5,130.8 L520,130.5 L521.3,130.6 L522.6,130.5 L523.9,130.2 L525.3,131.1 L527,130.7 L528.7,131.1 L530.4,130.5 L532.2,130.7 L533.9,130.3 L535.6,130 L537.3,131 L539,130.9 L540.6,130.3 L542.3,130.9 L544,130.8 L545.6,130.2 L547.2,130.5 L548.9,130.9 L550.5,130.3 L552.1,130.8 L553.7,130 L555.3,130.2 L556.9,130.5 L558.4,129.9 L560,130 L561.3,130.6 L562.7,130.1 L564,130.5 L565.3,129.8 L566.6,129.7 L567.9,129.9 L569.9,129.7 L571.8,130.5 L573.7,129.7 L575.6,130 L577.5,129.5 L579.4,129.9 L581.2,129.7 L583,129.7 L584.8,129.3 L586.6,129.3 L588.3,130 L590,129.4 L591.4,129.3 L592.7,129.2 L594,129.2 L595.4,129.1 L597.9,128.8 L600.4,129.4 L602.9,129 L605.3,128.7 L607.7,129.2 L610,128.4 L612,128.4 L614,128.9 L615.9,128.1 L617.8,128.3 L619.7,128.6 L621.5,128.4 L623.3,127.5 L625,127.5 L626.5,127.8 L627.9,127.3 L629.3,127.7 L630.7,126.7 L632.1,127.4 L633.4,126.6 L634.6,126 L635.7,125.8 L636.5,125.1 L637.2,125.4 L637.9,124.5 L638.6,124.7 L639.2,123.9 L639.8,123.1 L640.3,122.5 L640.9,122.3 L641.4,121.3 L641.9,121.5 L642.4,120.1 L642.9,119.9 L643.3,119.3 L643.7,118.3 L644.1,118.2 L644.4,117.1 L644.7,116.7 L645,115.9 L645.2,114.9 L645.4,114.3 L645.6,113.2 L645.8,112.5 L646,112.4 L646.1,111 L646.3,110.2 L646.4,108.4 L646.5,107.6 L646.5,106.1 L646.6,104.9 L646.6,103.1 L646.7,101.3 L646.7,99.8 L646.7,97.8 L646.8,95.8 L646.8,94.9 L646.8,93 L646.8,91.6 L646.8,90.5 L646.9,88.8 L646.9,87.2 L646.9,85.9 L646.9,83.8 L646.9,82.6 L646.9,81 L646.9,80.4 L646.9,79 L646.9,77.3 L646.9,76 L646.9,74.9 L646.9,73.6 L646.9,71.7 L646.9,71 L646.9,69.1 L646.9,68 L646.9,66.2 L646.9,64.8 L646.9,63.9 L646.9,62 L646.9,60.2 L646.9,57.8 L646.9,56.1 L646.9,54.6 L646.9,52.9 L646.9,51.3 L646.9,49.7 L646.9,47.7 L646.9,46.3 L646.9,44.9 L646.9,42.8 L647,41.8 L647,39.8 L647,38.3 L647,36.1 L647,34.6 L647,33.1 L647,31.1 L647,29 L647,28.2 L647,26.5 L647,24.2 L647,22.3 L647,21.5 L647,19.5" stroke="#e48a98"/>
<path d="M435.6,137 L435.6,135.8 L435.6,134.3 L435.7,133.6 L435.7,131.6 L436,132.3 L436.2,132.1 L436.4,131.3 L436.7,131.9 L436.9,131.5 L437.2,131.9 L437.6,131.9 L438,131.3 L440.2,130.9 L441.7,131.8 L443.2,131.2 L445.1,131.8 L447,131.5 L448.4,131.6 L449.8,131.7 L451.2,131.5 L452.8,131.3 L454.3,130.9 L455.9,131.6 L457.4,131.3 L459,131.4 L460.6,131.9 L462.2,131 L463.8,131.7 L465.4,130.9 L466.9,131.6 L468.5,131.7 L470,131.1 L471.4,131.4 L472.9,131.9 L474.3,131.5 L475.8,131.4 L477.3,131.1 L478.8,130.8 L480.3,131.2 L481.8,131.2 L483.4,131 L485,131.1 L486.6,130.9 L488.2,131.5 L489.8,131.4 L491.4,130.9 L493,130.9 L494.7,131.2 L496,131.1 L497.3,131.6 L498.6,131 L499.9,130.9 L501.2,131.5 L502.8,130.7 L504.4,131.1 L506,130.9 L507.6,131.4 L509.2,131.1 L510.8,131.3 L512.4,130.6 L513.9,131.2 L515.5,131.1 L517,130.9 L518.5,131.2 L520,131.3 L521.3,130.5 L522.6,130.6 L523.9,130.7 L525.3,130.5 L527,130.3 L528.7,130.6 L530.4,130.5 L532.2,131 L533.9,130.7 L535.6,130.3 L537.3,130.5 L539,130.7 L540.6,130.5 L542.3,130.3 L544,130.2 L545.6,130.1 L547.2,131.1 L548.9,130.8 L550.5,130.1 L552.1,130.8 L553.7,131 L555.3,130.5 L556.9,130 L558.4,130.4 L560,130.3 L561.3,130 L562.7,130.4 L564,129.8 L565.3,130.8 L566.6,130.5 L567.9,130.4 L569.9,130.7 L571.8,130.4 L573.7,129.9 L575.6,129.9 L577.5,129.7 L579.4,129.5 L581.2,130.3 L583,130.4 L584.8,129.7 L586.6,129.6 L588.3,130 L590,130.2 L591.4,130.2 L592.7,129.4 L594,130 L595.4,130 L597.9,129.8 L600.4,129.3 L602.9,129 L605.3,129.6 L607.7,128.9 L610,128.9 L612,128.9 L614,128.6 L615.9,129 L617.8,128.3 L619.7,127.9 L621.5,128.3 L623.3,128.2 L625,128.3 L626.4,128 L627.7,128 L629,127.9 L630.3,127.2 L631.6,127 L632.7,126.4 L633.9,126.3 L634.9,126.2 L635.7,125.3 L636.4,125.6 L637.1,124.6 L637.8,124.4 L638.4,124.5 L639,123 L639.5,122.4 L640.1,122.3 L640.6,121.5 L641.1,121.5 L641.6,120.1 L642.1,120.4 L642.5,119.8 L642.9,119.1 L643.3,118 L643.6,117.2 L643.9,116.9 L644.2,116 L644.4,115.2 L644.6,114.4 L644.8,113.8 L645,113.2 L645.2,112.6 L645.3,111.8 L645.5,109.8 L645.6,108.8 L645.7,107.6 L645.7,106.4 L645.8,104.8 L645.8,103.1 L645.9,101.3 L645.9,99.8 L645.9,98 L646,96.7 L646,95.1 L646,93.6 L646,92.2 L646,90.6 L646.1,88.6 L646.1,87.1 L646.1,85 L646.1,84.4 L646.1,83 L646.1,81.3 L646.1,80.3 L646.1,79.3 L646.1,77.4 L646.1,76.3 L646.1,74.5 L646.1,73.2 L646.1,72.4 L646.1,70.1 L646.1,68.9 L646.1,68.1 L646.1,66.5 L646.1,64.7 L646.1,63.6 L646.1,61.6 L646.1,60.1 L646.1,58.2 L646.1,56.7 L646.1,55 L646.1,53.1 L646.1,51.1 L646.1,49.5 L646.1,48.6 L646.1,46.5 L646.1,44.4 L646.1,43.5 L646.2,41.1 L646.2,39.3 L646.2,38.1 L646.2,36.1 L646.2,34.6 L646.2,33 L646.2,31 L646.2,29.6 L646.2,27.4 L646.2,26.2 L646.2,24.6 L646.2,22.3 L646.2,21 L646.2,18.9" stroke="#f2a085"/>
</g>
<line x1="433" y1="110.8" x2="588.6" y2="110.8" stroke="#000" stroke-width="1.5"/>
<path d="M575.7,111 L580.5,111 L579.3,115 L580.4,118.8 L578.2,120.9 L575.9,118.8 L577,115 Z" fill="#000"/>
<text x="541.8" y="102.9" font-size="12" fill="#1a1a1a" text-anchor="start" font-weight="normal" >5.9 mV</text>
<text x="618.6" y="146.8" font-size="13" fill="#1a1a1a" text-anchor="start" font-weight="normal" >MPC</text>
<g clip-path="url(#cc)">
<rect x="0" y="215" width="154" height="106.6" fill="#818181"/>
<ellipse cx="18" cy="270" rx="26" ry="55" fill="#8e8e8e" opacity="0.9" filter="url(#blur4)"/>
<ellipse cx="72" cy="268" rx="26" ry="34" fill="#707070" opacity="0.9" filter="url(#blur4)"/>
<ellipse cx="55" cy="252" rx="10" ry="8" fill="#686868" opacity="0.8" filter="url(#blur4)"/>
<ellipse cx="98" cy="242" rx="14" ry="14" fill="#707070" opacity="0.8" filter="url(#blur4)"/>
<ellipse cx="128" cy="276" rx="16" ry="26" fill="#8c8c8c" opacity="0.9" filter="url(#blur4)"/>
<ellipse cx="138" cy="228" rx="16" ry="12" fill="#777777" opacity="0.7" filter="url(#blur4)"/>
<ellipse cx="85" cy="310" rx="25" ry="10" fill="#7a7a7a" opacity="0.7" filter="url(#blur4)"/>
<filter id="nz11" x="0" y="0" width="100%" height="100%" filterUnits="objectBoundingBox" color-interpolation-filters="sRGB"><feTurbulence type="fractalNoise" baseFrequency="0.6" numOctaves="2" seed="11"/><feColorMatrix type="matrix" values="1 0 0 0 0  1 0 0 0 0  1 0 0 0 0  0 0 0 0 1"/><feComponentTransfer><feFuncR type="linear" slope="1.2" intercept="-0.09999999999999998"/><feFuncG type="linear" slope="1.2" intercept="-0.09999999999999998"/><feFuncB type="linear" slope="1.2" intercept="-0.09999999999999998"/></feComponentTransfer><feGaussianBlur stdDeviation="0.55"/></filter>
<filter id="pt11" x="0" y="0" width="100%" height="100%" filterUnits="objectBoundingBox" color-interpolation-filters="sRGB"><feTurbulence type="fractalNoise" baseFrequency="0.07" numOctaves="3" seed="111"/><feColorMatrix type="matrix" values="1 0 0 0 0  1 0 0 0 0  1 0 0 0 0  0 0 0 0 1"/><feComponentTransfer><feFuncR type="linear" slope="2.2" intercept="-0.6000000000000001"/><feFuncG type="linear" slope="2.2" intercept="-0.6000000000000001"/><feFuncB type="linear" slope="2.2" intercept="-0.6000000000000001"/></feComponentTransfer></filter>
<rect x="0" y="215" width="154" height="106.6" filter="url(#pt11)" opacity="0.1"/>
<rect x="0" y="215" width="154" height="106.6" filter="url(#nz11)" opacity="0.24"/>
<filter id="sp11" x="0" y="0" width="100%" height="100%" filterUnits="objectBoundingBox" color-interpolation-filters="sRGB"><feTurbulence type="turbulence" baseFrequency="0.55" numOctaves="2" seed="61"/><feColorMatrix type="matrix" values="0 0 0 0 1  0 0 0 0 1  0 0 0 0 1  8 0 0 0 -3.3"/></filter>
<rect x="0" y="215" width="154" height="106.6" filter="url(#sp11)" opacity="0.22"/>
</g>
<rect x="114.5" y="313.7" width="30.8" height="4.2" fill="#fff"/>
<text x="8.1" y="312.3" font-size="16.8" fill="#ffff00" text-anchor="start" font-weight="normal" stroke="#ff0" stroke-width="0.35">CC</text>
<text x="13.2" y="211.3" font-size="15" fill="#000" text-anchor="start" font-weight="bold" >c</text>
<g clip-path="url(#cd)">
<rect x="178" y="215" width="153.3" height="106.6" fill="#7e7e7e"/>
<ellipse cx="250" cy="225" rx="80" ry="10" fill="#7a7a7a" opacity="1.0" filter="url(#blur4)"/>
<ellipse cx="305" cy="232" rx="28" ry="12" fill="#858585" opacity="0.8" filter="url(#blur4)"/>
<ellipse cx="250" cy="262" rx="70" ry="12" fill="#868686" opacity="0.7" filter="url(#blur4)"/>
<ellipse cx="290" cy="276" rx="22" ry="6" fill="#646464" opacity="0.7" filter="url(#blur4)"/>
<ellipse cx="318" cy="275" rx="10" ry="8" fill="#9a9a9a" opacity="0.6" filter="url(#blur4)"/>
<ellipse cx="240" cy="294" rx="60" ry="5" fill="#8c8c8c" opacity="0.8" filter="url(#blur4)"/>
<filter id="nz12" x="0" y="0" width="100%" height="100%" filterUnits="objectBoundingBox" color-interpolation-filters="sRGB"><feTurbulence type="fractalNoise" baseFrequency="0.55" numOctaves="2" seed="12"/><feColorMatrix type="matrix" values="1 0 0 0 0  1 0 0 0 0  1 0 0 0 0  0 0 0 0 1"/><feComponentTransfer><feFuncR type="linear" slope="1.3" intercept="-0.15000000000000002"/><feFuncG type="linear" slope="1.3" intercept="-0.15000000000000002"/><feFuncB type="linear" slope="1.3" intercept="-0.15000000000000002"/></feComponentTransfer><feGaussianBlur stdDeviation="0.55"/></filter>
<filter id="pt12" x="0" y="0" width="100%" height="100%" filterUnits="objectBoundingBox" color-interpolation-filters="sRGB"><feTurbulence type="fractalNoise" baseFrequency="0.07" numOctaves="3" seed="112"/><feColorMatrix type="matrix" values="1 0 0 0 0  1 0 0 0 0  1 0 0 0 0  0 0 0 0 1"/><feComponentTransfer><feFuncR type="linear" slope="2.2" intercept="-0.6000000000000001"/><feFuncG type="linear" slope="2.2" intercept="-0.6000000000000001"/><feFuncB type="linear" slope="2.2" intercept="-0.6000000000000001"/></feComponentTransfer></filter>
<rect x="178" y="215" width="153.3" height="106.6" filter="url(#pt12)" opacity="0.2"/>
<rect x="178" y="215" width="153.3" height="106.6" filter="url(#nz12)" opacity="0.35"/>
<filter id="sp12" x="0" y="0" width="100%" height="100%" filterUnits="objectBoundingBox" color-interpolation-filters="sRGB"><feTurbulence type="turbulence" baseFrequency="0.5" numOctaves="2" seed="62"/><feColorMatrix type="matrix" values="0 0 0 0 1  0 0 0 0 1  0 0 0 0 1  8 0 0 0 -3.3"/></filter>
<rect x="178" y="215" width="153.3" height="106.6" filter="url(#sp12)" opacity="0.3"/>
<path d="M178,245.5 C185,245 195,246 205,247 C210,247.5 214,249 216,249.5 L205,249.5 C195,249 185,249 178,249.2 Z" fill="#4c4c4c" opacity="0.85" filter="url(#blur1)"/>
<path d="M178,254 L192,254.5 L194,256.3 L178,256.5 Z" fill="#555" opacity="0.8" filter="url(#blur1)"/>
<path d="M200,279 C215,277.5 235,278 255,279.5 C265,280 275,279 285,280.5 L285,282 C270,282 250,282.5 230,281.5 C215,281 205,281.5 200,281 Z" fill="#4e4e4e" opacity="0.85" filter="url(#blur1)"/>
<path d="M298,258 C305,257 315,258 331,259 L331,263 C318,262.5 308,262.5 298,261.5 Z" fill="#585858" opacity="0.8" filter="url(#blur1)"/>
<path d="M178,289 C200,287 230,288 260,290 C290,291.5 310,291 331,292 L331,300 L178,300 Z" fill="#a0a0a0" opacity="0.35" filter="url(#blur1)"/>
<path d="M178,299.3 C195,299.5 205,300.3 212,301.2 C218,302.3 222,303 235,303.2 L268,303.5 L331.3,303.9 L331.3,321.6 L178,321.6 Z" fill="#464646"/>
</g>
<rect x="261.8" y="313.7" width="60.1" height="4.2" fill="#fff"/>
<text x="189.8" y="312.2" font-size="16.8" fill="#ffff00" text-anchor="start" font-weight="normal" stroke="#ff0" stroke-width="0.35">CC</text>
<text x="189.6" y="211.1" font-size="15" fill="#000" text-anchor="start" font-weight="bold" >d</text>
<text x="187.6" y="267.6" font-size="17.4" fill="#ffff00" text-anchor="start" font-weight="normal" stroke="#ff0" stroke-width="0.35">45.6 µm</text>
<g stroke="#ffff00" stroke-width="2" fill="#ffff00"><line x1="260.8" y1="244.7" x2="273.8" y2="244.7"/><line x1="260.8" y1="281.8" x2="273.8" y2="281.8"/><line x1="267.3" y1="250" x2="267.3" y2="276.5"/></g>
<path d="M267.3,245.6 L271.3,255.5 L263.3,255.5 Z M267.3,280.9 L271.3,271 L263.3,271 Z" fill="#ffff00"/>
<g clip-path="url(#ce)">
<rect x="355" y="215" width="153.8" height="106.6" fill="#737373"/>
<ellipse cx="370" cy="240" rx="12" ry="16" fill="#626262" opacity="0.9" filter="url(#blur3)"/>
<ellipse cx="405" cy="275" rx="13" ry="11" fill="#606060" opacity="0.9" filter="url(#blur3)"/>
<ellipse cx="435" cy="238" rx="12" ry="18" fill="#666666" opacity="0.8" filter="url(#blur3)"/>
<ellipse cx="470" cy="300" rx="18" ry="10" fill="#686868" opacity="0.8" filter="url(#blur3)"/>
<ellipse cx="455" cy="262" rx="10" ry="10" fill="#6a6a6a" opacity="0.7" filter="url(#blur3)"/>
<ellipse cx="500" cy="255" rx="9" ry="26" fill="#8e8e8e" opacity="0.9" filter="url(#blur3)"/>
<ellipse cx="385" cy="310" rx="28" ry="11" fill="#828282" opacity="0.8" filter="url(#blur3)"/>
<ellipse cx="470" cy="228" rx="20" ry="10" fill="#7a7a7a" opacity="0.8" filter="url(#blur3)"/>
<filter id="nz13" x="0" y="0" width="100%" height="100%" filterUnits="objectBoundingBox" color-interpolation-filters="sRGB"><feTurbulence type="fractalNoise" baseFrequency="0.6" numOctaves="2" seed="13"/><feColorMatrix type="matrix" values="1 0 0 0 0  1 0 0 0 0  1 0 0 0 0  0 0 0 0 1"/><feComponentTransfer><feFuncR type="linear" slope="1.2" intercept="-0.09999999999999998"/><feFuncG type="linear" slope="1.2" intercept="-0.09999999999999998"/><feFuncB type="linear" slope="1.2" intercept="-0.09999999999999998"/></feComponentTransfer><feGaussianBlur stdDeviation="0.55"/></filter>
<filter id="pt13" x="0" y="0" width="100%" height="100%" filterUnits="objectBoundingBox" color-interpolation-filters="sRGB"><feTurbulence type="fractalNoise" baseFrequency="0.07" numOctaves="3" seed="113"/><feColorMatrix type="matrix" values="1 0 0 0 0  1 0 0 0 0  1 0 0 0 0  0 0 0 0 1"/><feComponentTransfer><feFuncR type="linear" slope="2.2" intercept="-0.6000000000000001"/><feFuncG type="linear" slope="2.2" intercept="-0.6000000000000001"/><feFuncB type="linear" slope="2.2" intercept="-0.6000000000000001"/></feComponentTransfer></filter>
<rect x="355" y="215" width="153.8" height="106.6" filter="url(#pt13)" opacity="0.1"/>
<rect x="355" y="215" width="153.8" height="106.6" filter="url(#nz13)" opacity="0.22"/>
<filter id="sp13" x="0" y="0" width="100%" height="100%" filterUnits="objectBoundingBox" color-interpolation-filters="sRGB"><feTurbulence type="turbulence" baseFrequency="0.55" numOctaves="2" seed="63"/><feColorMatrix type="matrix" values="0 0 0 0 1  0 0 0 0 1  0 0 0 0 1  8 0 0 0 -3.3"/></filter>
<rect x="355" y="215" width="153.8" height="106.6" filter="url(#sp13)" opacity="0.22"/>
</g>
<rect x="469.1" y="313.7" width="30.3" height="4.2" fill="#fff"/>
<text x="368.4" y="312.3" font-size="17" fill="#ffff00" text-anchor="start" font-weight="normal" stroke="#ff0" stroke-width="0.35">MPC</text>
<text x="364.7" y="211" font-size="15" fill="#000" text-anchor="start" font-weight="bold" >e</text>
<g clip-path="url(#cf)">
<rect x="531.2" y="215" width="153.8" height="106.6" fill="#656565"/>
<path d="M531,229 C545,230 560,232 575,233 C590,233.5 600,231 620,231 C645,231 665,229 685,230 L685,250 L531,250 Z" fill="#727272"/>
<path d="M531,241 C540,243 548,244.5 556,244 C562,243.5 566,241 573,241.5 C580,243 590,245 600,244 C620,242 650,243.5 685,243 L685,252 L531,252 Z" fill="#7b7b7b"/>
<ellipse cx="585" cy="242" rx="5.5" ry="3.2" fill="#626262" opacity="1" filter="url(#blur2)"/>
<ellipse cx="665" cy="242" rx="5.5" ry="3.2" fill="#626262" opacity="1" filter="url(#blur2)"/>
<ellipse cx="548" cy="222" rx="8" ry="3" fill="#707070" opacity="0.8" filter="url(#blur2)"/>
<linearGradient id="ftex" x1="0" y1="0" x2="0" y2="1"><stop offset="0" stop-color="#959595"/><stop offset="0.35" stop-color="#8c8c8c"/><stop offset="1" stop-color="#7e7e7e"/></linearGradient>
<path d="M531,250 C540,249 548,251.5 556,250.5 C566,249.2 575,251.2 585,250 C597,248.8 605,250.8 618,250.2 C630,249.6 640,251.2 652,250.1 C665,249 675,250.5 685,249.8 L685,295 L531,295 Z" fill="url(#ftex)"/>
<ellipse cx="608" cy="251" rx="78" ry="1.6" fill="#a8a8a8" opacity="0.8" filter="url(#blur1)"/>
<ellipse cx="665" cy="278" rx="14" ry="14" fill="#6c6c6c" opacity="0.8" filter="url(#blur4)"/>
<ellipse cx="560" cy="282" rx="25" ry="8" fill="#767676" opacity="0.6" filter="url(#blur4)"/>
<filter id="nz14" x="0" y="0" width="100%" height="100%" filterUnits="objectBoundingBox" color-interpolation-filters="sRGB"><feTurbulence type="fractalNoise" baseFrequency="0.55" numOctaves="2" seed="14"/><feColorMatrix type="matrix" values="1 0 0 0 0  1 0 0 0 0  1 0 0 0 0  0 0 0 0 1"/><feComponentTransfer><feFuncR type="linear" slope="1.3" intercept="-0.15000000000000002"/><feFuncG type="linear" slope="1.3" intercept="-0.15000000000000002"/><feFuncB type="linear" slope="1.3" intercept="-0.15000000000000002"/></feComponentTransfer><feGaussianBlur stdDeviation="0.55"/></filter>
<filter id="pt14" x="0" y="0" width="100%" height="100%" filterUnits="objectBoundingBox" color-interpolation-filters="sRGB"><feTurbulence type="fractalNoise" baseFrequency="0.1" numOctaves="3" seed="114"/><feColorMatrix type="matrix" values="1 0 0 0 0  1 0 0 0 0  1 0 0 0 0  0 0 0 0 1"/><feComponentTransfer><feFuncR type="linear" slope="2.2" intercept="-0.6000000000000001"/><feFuncG type="linear" slope="2.2" intercept="-0.6000000000000001"/><feFuncB type="linear" slope="2.2" intercept="-0.6000000000000001"/></feComponentTransfer></filter>
<rect x="531.2" y="248" width="153.8" height="48" filter="url(#pt14)" opacity="0.15"/>
<rect x="531.2" y="248" width="153.8" height="48" filter="url(#nz14)" opacity="0.35"/>
<filter id="sp14" x="0" y="0" width="100%" height="100%" filterUnits="objectBoundingBox" color-interpolation-filters="sRGB"><feTurbulence type="turbulence" baseFrequency="0.5" numOctaves="2" seed="64"/><feColorMatrix type="matrix" values="0 0 0 0 1  0 0 0 0 1  0 0 0 0 1  8 0 0 0 -3.3"/></filter>
<rect x="531.2" y="248" width="153.8" height="48" filter="url(#sp14)" opacity="0.35"/>
<path d="M531,289 C538,288.5 542,289 545,291 C550,293.5 556,294 565,294.2 C600,294.8 640,294 685,293.6 L685,321.6 L531,321.6 Z" fill="#343434"/>
<path d="M531,309.8 C560,311.5 590,313.5 611,315 C640,316 665,316.5 685,317 L685,321.6 L531,321.6 Z" fill="#484848"/>
</g>
<rect x="615.5" y="314.5" width="60.3" height="3.8" fill="#fff"/>
<text x="541.1" y="312.2" font-size="17.2" fill="#ffff00" text-anchor="start" font-weight="normal" stroke="#ff0" stroke-width="0.35">MPC</text>
<text x="542" y="211.1" font-size="15" fill="#000" text-anchor="start" font-weight="bold" >f</text>
<text x="553.4" y="271.2" font-size="17.3" fill="#ffff00" text-anchor="start" font-weight="normal" stroke="#ff0" stroke-width="0.35">22 µm</text>
<g stroke="#ffff00" stroke-width="2"><line x1="615.6" y1="255.4" x2="629.2" y2="255.4"/><line x1="615.6" y1="276.3" x2="629.2" y2="276.3"/><line x1="622.4" y1="258" x2="622.4" y2="274"/></g>
<path d="M622.4,256.3 L626.6,265 L618.2,265 Z M622.4,275.4 L626.6,266.8 L618.2,266.8 Z" fill="#ffff00"/>
<clipPath id="cp526"><rect x="17.5" y="351.7" width="136.7" height="111.6"/></clipPath>
<g clip-path="url(#cp526)">
<path d="M15.2,456.8 L16.4,456.7 L17.5,456.7 L18.6,456.6 L19.8,456.6 L20.9,456.5 L22.1,456.4 L23.2,456.3 L24.3,456.2 L25.5,456.1 L26.6,456 L27.8,456 L28.9,456 L30,456 L31.2,456.1 L32.3,456.2 L33.4,456.3 L34.6,456.4 L35.7,456.5 L36.9,456.6 L38,456.7 L39.1,456.8 L40.3,456.9 L41.4,456.9 L42.6,457 L43.7,457 L44.8,457.1 L46,457.1 L47.1,457.1 L48.3,457.1 L49.4,457.1 L50.5,457.1 L51.7,457.2 L52.8,457.2 L54,457.2 L55.1,457.2 L56.2,457.2 L57.4,457.2 L58.5,457.2 L59.6,457.2 L60.8,457.2 L61.9,457.2 L63.1,457.3 L63.1,457.3 L15.2,456.9 Z" fill="#f6b266" fill-opacity="0.7"/>
<path d="M15.2,456.7 L16.4,456.7 L17.5,456.7 L18.6,456.7 L19.8,456.6 L20.9,456.5 L22.1,456.4 L23.2,456.3 L24.3,456.1 L25.5,455.8 L26.6,455.5 L27.8,455 L28.9,454.5 L30,453.8 L31.2,453.1 L32.3,452.3 L33.4,451.5 L34.6,450.6 L35.7,449.8 L36.9,449.1 L38,448.6 L39.1,448.2 L40.3,448.1 L41.4,448.2 L42.6,448.6 L43.7,449.2 L44.8,449.9 L46,450.7 L47.1,451.6 L48.3,452.4 L49.4,453.3 L50.5,454 L51.7,454.7 L52.8,455.2 L54,455.7 L55.1,456.1 L56.2,456.3 L57.4,456.6 L58.5,456.7 L59.6,456.9 L60.8,456.9 L61.9,457 L63.1,457.1 L64.2,457.1 L65.3,457.1 L66.5,457.2 L67.6,457.2 L68.8,457.2 L69.9,457.2 L71,457.2 L72.2,457.2 L73.3,457.3 L74.5,457.3 L75.6,457.3 L76.7,457.3 L77.9,457.3 L77.9,457.4 L15.2,456.9 Z" fill="#f6b266" fill-opacity="0.7"/>
<path d="M19.8,456.9 L20.9,456.9 L22.1,456.9 L23.2,456.9 L24.3,456.9 L25.5,457 L26.6,457 L27.8,457 L28.9,457 L30,457 L31.2,457 L32.3,457 L33.4,457 L34.6,457 L35.7,457 L36.9,457 L38,457 L39.1,457 L40.3,457 L41.4,456.9 L42.6,456.9 L43.7,456.8 L44.8,456.8 L46,456.7 L47.1,456.6 L48.3,456.5 L49.4,456.4 L50.5,456.3 L51.7,456.2 L52.8,456.2 L54,456.2 L55.1,456.2 L56.2,456.3 L57.4,456.4 L58.5,456.5 L59.6,456.6 L60.8,456.7 L61.9,456.8 L63.1,456.9 L64.2,457 L65.3,457.1 L66.5,457.1 L67.6,457.2 L68.8,457.2 L69.9,457.3 L71,457.3 L72.2,457.3 L73.3,457.3 L74.5,457.3 L75.6,457.3 L76.7,457.4 L77.9,457.4 L79,457.4 L80.2,457.4 L81.3,457.4 L82.4,457.4 L83.6,457.4 L84.7,457.4 L85.9,457.4 L87,457.4 L88.1,457.5 L88.1,457.5 L19.8,456.9 Z" fill="#f2a085" fill-opacity="0.7"/>
<path d="M40.3,457.1 L41.4,457.1 L42.6,457.1 L43.7,457.1 L44.8,457.1 L46,457.1 L47.1,457.1 L48.3,457.1 L49.4,457.1 L50.5,457.1 L51.7,457.1 L52.8,457.2 L54,457.2 L55.1,457.2 L56.2,457.2 L57.4,457.2 L58.5,457.2 L59.6,457.1 L60.8,457.1 L61.9,457.1 L63.1,457.1 L64.2,457 L65.3,456.9 L66.5,456.8 L67.6,456.7 L68.8,456.6 L69.9,456.5 L71,456.3 L72.2,456.2 L73.3,456.1 L74.5,456 L75.6,456 L76.7,456 L77.9,456 L79,456.1 L80.2,456.2 L81.3,456.3 L82.4,456.4 L83.6,456.6 L84.7,456.7 L85.9,456.9 L87,457 L88.1,457.1 L89.3,457.2 L90.4,457.3 L91.5,457.3 L92.7,457.4 L93.8,457.4 L95,457.4 L96.1,457.5 L97.2,457.5 L98.4,457.5 L99.5,457.5 L100.7,457.5 L101.8,457.5 L102.9,457.6 L104.1,457.6 L105.2,457.6 L106.4,457.6 L107.5,457.6 L108.6,457.6 L109.8,457.6 L110.9,457.6 L112.1,457.6 L113.2,457.6 L113.2,457.7 L40.3,457.1 Z" fill="#e48a98" fill-opacity="0.7"/>
<path d="M50.5,457.1 L51.7,457.2 L52.8,457.2 L54,457.2 L55.1,457.2 L56.2,457.2 L57.4,457.2 L58.5,457.2 L59.6,457.2 L60.8,457.2 L61.9,457.2 L63.1,457.2 L64.2,457.2 L65.3,457.2 L66.5,457.2 L67.6,457.2 L68.8,457.2 L69.9,457.2 L71,457.2 L72.2,457.2 L73.3,457.1 L74.5,457 L75.6,457 L76.7,456.8 L77.9,456.7 L79,456.5 L80.2,456.3 L81.3,456.1 L82.4,455.9 L83.6,455.6 L84.7,455.4 L85.9,455.2 L87,455 L88.1,454.8 L89.3,454.7 L90.4,454.7 L91.5,454.7 L92.7,454.8 L93.8,455 L95,455.2 L96.1,455.5 L97.2,455.7 L98.4,456 L99.5,456.3 L100.7,456.5 L101.8,456.7 L102.9,456.9 L104.1,457.1 L105.2,457.2 L106.4,457.3 L107.5,457.4 L108.6,457.4 L109.8,457.5 L110.9,457.5 L112.1,457.6 L113.2,457.6 L114.3,457.6 L115.5,457.6 L116.6,457.6 L117.7,457.7 L118.9,457.7 L120,457.7 L121.2,457.7 L122.3,457.7 L123.4,457.7 L124.6,457.7 L125.7,457.7 L126.9,457.7 L128,457.8 L129.1,457.8 L130.3,457.8 L130.3,457.8 L50.5,457.2 Z" fill="#d674ac" fill-opacity="0.7"/>
<path d="M66.5,457.3 L67.6,457.3 L68.8,457.3 L69.9,457.3 L71,457.3 L72.2,457.3 L73.3,457.3 L74.5,457.3 L75.6,457.3 L76.7,457.3 L77.9,457.3 L79,457.4 L80.2,457.4 L81.3,457.4 L82.4,457.4 L83.6,457.3 L84.7,457.3 L85.9,457.3 L87,457.3 L88.1,457.2 L89.3,457.2 L90.4,457.1 L91.5,457 L92.7,456.8 L93.8,456.7 L95,456.5 L96.1,456.3 L97.2,456.1 L98.4,456 L99.5,455.8 L100.7,455.7 L101.8,455.6 L102.9,455.6 L104.1,455.6 L105.2,455.7 L106.4,455.9 L107.5,456 L108.6,456.2 L109.8,456.4 L110.9,456.6 L112.1,456.8 L113.2,457 L114.3,457.2 L115.5,457.3 L116.6,457.4 L117.7,457.5 L118.9,457.5 L120,457.6 L121.2,457.6 L122.3,457.7 L123.4,457.7 L124.6,457.7 L125.7,457.7 L126.9,457.7 L128,457.7 L129.1,457.8 L130.3,457.8 L131.4,457.8 L132.6,457.8 L133.7,457.8 L134.8,457.8 L136,457.8 L137.1,457.8 L138.3,457.8 L139.4,457.8 L139.4,457.9 L66.5,457.3 Z" fill="#dd44e4" fill-opacity="0.7"/>
<path d="M89.3,457.4 L90.4,457.4 L91.5,457.4 L92.7,457.4 L93.8,457.4 L95,457.4 L96.1,457.4 L97.2,457.4 L98.4,457.4 L99.5,457.4 L100.7,457.4 L101.8,457.4 L102.9,457.4 L104.1,457.4 L105.2,457.4 L106.4,457.3 L107.5,457.2 L108.6,457.1 L109.8,456.9 L110.9,456.7 L112.1,456.4 L113.2,456 L114.3,455.5 L115.5,454.9 L116.6,454.2 L117.7,453.5 L118.9,452.7 L120,451.9 L121.2,451.1 L122.3,450.4 L123.4,449.8 L124.6,449.5 L125.7,449.4 L126.9,449.5 L128,449.9 L129.1,450.4 L130.3,451.1 L131.4,452 L132.6,452.8 L133.7,453.6 L134.8,454.4 L136,455.1 L137.1,455.7 L138.3,456.2 L139.4,456.6 L140.5,456.9 L141.7,457.2 L142.8,457.4 L143.9,457.5 L145.1,457.6 L146.2,457.7 L147.4,457.7 L148.5,457.8 L149.6,457.8 L150.8,457.8 L151.9,457.9 L153.1,457.9 L154.2,457.9 L155.3,457.9 L155.3,458 L89.3,457.5 Z" fill="#b01cff" fill-opacity="0.7"/>
<path d="M101.8,457.5 L102.9,457.6 L104.1,457.6 L105.2,457.6 L106.4,457.6 L107.5,457.6 L108.6,457.6 L109.8,457.6 L110.9,457.6 L112.1,457.6 L113.2,457.6 L114.3,457.6 L115.5,457.6 L116.6,457.6 L117.7,457.6 L118.9,457.6 L120,457.6 L121.2,457.6 L122.3,457.6 L123.4,457.5 L124.6,457.5 L125.7,457.4 L126.9,457.3 L128,457.2 L129.1,457.1 L130.3,456.9 L131.4,456.7 L132.6,456.4 L133.7,456.2 L134.8,455.9 L136,455.7 L137.1,455.4 L138.3,455.2 L139.4,455 L140.5,454.9 L141.7,454.9 L142.8,454.9 L143.9,455.1 L145.1,455.2 L146.2,455.5 L147.4,455.7 L148.5,456 L149.6,456.3 L150.8,456.6 L151.9,456.8 L153.1,457.1 L154.2,457.3 L155.3,457.4 L155.3,458 L101.8,457.6 Z" fill="#4a00a0" fill-opacity="0.7"/>
<path d="M15.2,457.2 L19.8,457.2 L24.3,457.3 L28.9,457.3 L33.4,457.3 L38,457.4 L42.6,457.4 L47.1,457.4 L51.7,457.5 L56.2,457.5 L60.8,457.5 L65.3,457.6 L69.9,457.6 L74.5,457.7 L79,457.7 L83.6,457.7 L88.1,457.8 L92.7,457.8 L97.2,457.8 L101.8,457.9 L106.4,457.9 L110.9,457.9 L115.5,458 L120,458 L124.6,458 L129.1,458.1 L133.7,458.1 L138.3,458.2 L142.8,458.2 L147.4,458.2 L151.9,458.3" fill="none" stroke="#e8803a" stroke-width="1.0"/>
<path d="M15.2,456.4 L19.8,456.4 L24.3,456.5 L28.9,456.5 L33.4,456.5 L38,456.6 L42.6,456.6 L47.1,456.6 L51.7,456.7 L56.2,456.7 L60.8,456.7 L65.3,456.8 L69.9,456.8 L74.5,456.9 L79,456.9 L83.6,456.9 L88.1,457 L92.7,457 L97.2,457 L101.8,457.1 L106.4,457.1 L110.9,457.1 L115.5,457.2 L120,457.2 L124.6,457.2 L129.1,457.3 L133.7,457.3 L138.3,457.4 L142.8,457.4 L147.4,457.4 L151.9,457.5" fill="none" stroke="#8a2cc0" stroke-width="1.0"/>
<path d="M16.9,454.3 L18.6,454.4 L20.3,454 L22.1,453.8 L23.8,453.4 L25.5,452.5 L27.2,452.4 L28.9,451.4 L30.6,450 L32.3,449.4 L34,448 L35.7,446.8 L37.4,446.4 L39.1,445.6 L40.9,445.7 L42.6,445.8 L44.3,447 L46,447.7 L47.7,449 L49.4,450.1 L51.1,450.9 L52.8,452 L54.5,452.4 L56.2,453 L57.9,453.6 L59.6,453.8 L61.4,454.3 L63.1,454.3 L64.8,454.5 L66.5,454.3 L68.2,454.4 L69.9,454.2 L71.6,453.5 L73.3,453.7 L75,453.2 L76.7,453.3 L78.4,453 L80.2,453 L81.9,452.4 L83.6,452.3 L85.3,452.4 L87,452.3 L88.7,452 L90.4,451.5 L92.1,451.8 L93.8,451.5 L95.5,451.9 L97.2,452.2 L99,451.9 L100.7,452.5 L102.4,452.5 L104.1,452.5 L105.8,452.7 L107.5,453.1 L109.2,453.5 L110.9,453.4 L112.6,452.9 L114.3,452.4 L116,451.7 L117.7,451.1 L119.5,449.6 L121.2,448.6 L122.9,447.5 L124.6,447 L126.3,446.7 L128,446.8 L129.7,447.9 L131.4,448.6 L133.1,449.6 L134.8,450.4 L136.5,451.1 L138.3,451 L140,451.5 L141.7,451.7 L143.4,452.3 L145.1,452.9 L146.8,453.3 L148.5,453.4 L150.2,453.9 L151.9,454.7 L153.6,455 L155.3,455.1" fill="none" stroke="#777" stroke-width="0.5"/>
<g fill="#fff" stroke="#6e6e6e" stroke-width="0.5">
<circle cx="16.9" cy="454.3" r="1.75"/>
<circle cx="18.6" cy="454.4" r="1.75"/>
<circle cx="20.3" cy="454" r="1.75"/>
<circle cx="22.1" cy="453.8" r="1.75"/>
<circle cx="23.8" cy="453.4" r="1.75"/>
<circle cx="25.5" cy="452.5" r="1.75"/>
<circle cx="27.2" cy="452.4" r="1.75"/>
<circle cx="28.9" cy="451.4" r="1.75"/>
<circle cx="30.6" cy="450" r="1.75"/>
<circle cx="32.3" cy="449.4" r="1.75"/>
<circle cx="34" cy="448" r="1.75"/>
<circle cx="35.7" cy="446.8" r="1.75"/>
<circle cx="37.4" cy="446.4" r="1.75"/>
<circle cx="39.1" cy="445.6" r="1.75"/>
<circle cx="40.9" cy="445.7" r="1.75"/>
<circle cx="42.6" cy="445.8" r="1.75"/>
<circle cx="44.3" cy="447" r="1.75"/>
<circle cx="46" cy="447.7" r="1.75"/>
<circle cx="47.7" cy="449" r="1.75"/>
<circle cx="49.4" cy="450.1" r="1.75"/>
<circle cx="51.1" cy="450.9" r="1.75"/>
<circle cx="52.8" cy="452" r="1.75"/>
<circle cx="54.5" cy="452.4" r="1.75"/>
<circle cx="56.2" cy="453" r="1.75"/>
<circle cx="57.9" cy="453.6" r="1.75"/>
<circle cx="59.6" cy="453.8" r="1.75"/>
<circle cx="61.4" cy="454.3" r="1.75"/>
<circle cx="63.1" cy="454.3" r="1.75"/>
<circle cx="64.8" cy="454.5" r="1.75"/>
<circle cx="66.5" cy="454.3" r="1.75"/>
<circle cx="68.2" cy="454.4" r="1.75"/>
<circle cx="69.9" cy="454.2" r="1.75"/>
<circle cx="71.6" cy="453.5" r="1.75"/>
<circle cx="73.3" cy="453.7" r="1.75"/>
<circle cx="75" cy="453.2" r="1.75"/>
<circle cx="76.7" cy="453.3" r="1.75"/>
<circle cx="78.4" cy="453" r="1.75"/>
<circle cx="80.2" cy="453" r="1.75"/>
<circle cx="81.9" cy="452.4" r="1.75"/>
<circle cx="83.6" cy="452.3" r="1.75"/>
<circle cx="85.3" cy="452.4" r="1.75"/>
<circle cx="87" cy="452.3" r="1.75"/>
<circle cx="88.7" cy="452" r="1.75"/>
<circle cx="90.4" cy="451.5" r="1.75"/>
<circle cx="92.1" cy="451.8" r="1.75"/>
<circle cx="93.8" cy="451.5" r="1.75"/>
<circle cx="95.5" cy="451.9" r="1.75"/>
<circle cx="97.2" cy="452.2" r="1.75"/>
<circle cx="99" cy="451.9" r="1.75"/>
<circle cx="100.7" cy="452.5" r="1.75"/>
<circle cx="102.4" cy="452.5" r="1.75"/>
<circle cx="104.1" cy="452.5" r="1.75"/>
<circle cx="105.8" cy="452.7" r="1.75"/>
<circle cx="107.5" cy="453.1" r="1.75"/>
<circle cx="109.2" cy="453.5" r="1.75"/>
<circle cx="110.9" cy="453.4" r="1.75"/>
<circle cx="112.6" cy="452.9" r="1.75"/>
<circle cx="114.3" cy="452.4" r="1.75"/>
<circle cx="116" cy="451.7" r="1.75"/>
<circle cx="117.7" cy="451.1" r="1.75"/>
<circle cx="119.5" cy="449.6" r="1.75"/>
<circle cx="121.2" cy="448.6" r="1.75"/>
<circle cx="122.9" cy="447.5" r="1.75"/>
<circle cx="124.6" cy="447" r="1.75"/>
<circle cx="126.3" cy="446.7" r="1.75"/>
<circle cx="128" cy="446.8" r="1.75"/>
<circle cx="129.7" cy="447.9" r="1.75"/>
<circle cx="131.4" cy="448.6" r="1.75"/>
<circle cx="133.1" cy="449.6" r="1.75"/>
<circle cx="134.8" cy="450.4" r="1.75"/>
<circle cx="136.5" cy="451.1" r="1.75"/>
<circle cx="138.3" cy="451" r="1.75"/>
<circle cx="140" cy="451.5" r="1.75"/>
<circle cx="141.7" cy="451.7" r="1.75"/>
<circle cx="143.4" cy="452.3" r="1.75"/>
<circle cx="145.1" cy="452.9" r="1.75"/>
<circle cx="146.8" cy="453.3" r="1.75"/>
<circle cx="148.5" cy="453.4" r="1.75"/>
<circle cx="150.2" cy="453.9" r="1.75"/>
<circle cx="151.9" cy="454.7" r="1.75"/>
<circle cx="153.6" cy="455" r="1.75"/>
<circle cx="155.3" cy="455.1" r="1.75"/>
</g>
</g>
<rect x="17.5" y="351.7" width="136.7" height="111.6" fill="none" stroke="#a3a3a3" stroke-width="1"/>
<line x1="17.5" y1="463.3" x2="17.5" y2="465.3" stroke="#a3a3a3" stroke-width="0.9"/>
<line x1="28.9" y1="463.3" x2="28.9" y2="465.3" stroke="#a3a3a3" stroke-width="0.9"/>
<line x1="40.3" y1="463.3" x2="40.3" y2="465.3" stroke="#a3a3a3" stroke-width="0.9"/>
<line x1="51.7" y1="463.3" x2="51.7" y2="465.3" stroke="#a3a3a3" stroke-width="0.9"/>
<line x1="63.1" y1="463.3" x2="63.1" y2="465.3" stroke="#a3a3a3" stroke-width="0.9"/>
<line x1="74.5" y1="463.3" x2="74.5" y2="465.3" stroke="#a3a3a3" stroke-width="0.9"/>
<line x1="85.8" y1="463.3" x2="85.8" y2="465.3" stroke="#a3a3a3" stroke-width="0.9"/>
<line x1="97.2" y1="463.3" x2="97.2" y2="465.3" stroke="#a3a3a3" stroke-width="0.9"/>
<line x1="108.6" y1="463.3" x2="108.6" y2="465.3" stroke="#a3a3a3" stroke-width="0.9"/>
<line x1="120" y1="463.3" x2="120" y2="465.3" stroke="#a3a3a3" stroke-width="0.9"/>
<line x1="131.4" y1="463.3" x2="131.4" y2="465.3" stroke="#a3a3a3" stroke-width="0.9"/>
<line x1="142.8" y1="463.3" x2="142.8" y2="465.3" stroke="#a3a3a3" stroke-width="0.9"/>
<line x1="154.2" y1="463.3" x2="154.2" y2="465.3" stroke="#a3a3a3" stroke-width="0.9"/>
<clipPath id="cp645"><rect x="17.5" y="470.5" width="136.7" height="111.6"/></clipPath>
<g clip-path="url(#cp645)">
<path d="M15.2,578.8 L16.4,578.7 L17.5,578.7 L18.6,578.7 L19.8,578.6 L20.9,578.5 L22.1,578.4 L23.2,578.3 L24.3,578.2 L25.5,578.1 L26.6,578 L27.8,577.9 L28.9,577.9 L30,577.8 L31.2,577.8 L32.3,577.9 L33.4,577.9 L34.6,578 L35.7,578.2 L36.9,578.3 L38,578.5 L39.1,578.6 L40.3,578.7 L41.4,578.9 L42.6,579 L43.7,579.1 L44.8,579.2 L46,579.2 L47.1,579.3 L48.3,579.3 L49.4,579.4 L50.5,579.4 L51.7,579.4 L52.8,579.5 L54,579.5 L55.1,579.5 L56.2,579.5 L57.4,579.5 L58.5,579.6 L59.6,579.6 L60.8,579.6 L61.9,579.6 L63.1,579.6 L64.2,579.7 L65.3,579.7 L66.5,579.7 L67.6,579.7 L67.6,579.7 L15.2,578.9 Z" fill="#f6b266" fill-opacity="0.7"/>
<path d="M15.2,578.9 L16.4,578.9 L17.5,578.9 L18.6,578.9 L19.8,578.9 L20.9,578.9 L22.1,579 L23.2,579 L24.3,579 L25.5,579 L26.6,579 L27.8,579 L28.9,579 L30,579.1 L31.2,579.1 L32.3,579.1 L33.4,579 L34.6,579 L35.7,579 L36.9,578.9 L38,578.9 L39.1,578.8 L40.3,578.7 L41.4,578.5 L42.6,578.4 L43.7,578.3 L44.8,578.2 L46,578.1 L47.1,578 L48.3,577.9 L49.4,577.9 L50.5,578 L51.7,578.1 L52.8,578.2 L54,578.3 L55.1,578.5 L56.2,578.7 L57.4,578.8 L58.5,579 L59.6,579.1 L60.8,579.2 L61.9,579.3 L63.1,579.4 L64.2,579.5 L65.3,579.6 L66.5,579.6 L67.6,579.7 L68.8,579.7 L69.9,579.7 L71,579.8 L72.2,579.8 L73.3,579.8 L74.5,579.8 L75.6,579.8 L76.7,579.9 L77.9,579.9 L79,579.9 L80.2,579.9 L81.3,580 L82.4,580 L83.6,580 L84.7,580 L85.9,580 L85.9,580 L15.2,578.9 Z" fill="#f2a085" fill-opacity="0.7"/>
<path d="M36.9,579.1 L38,579.2 L39.1,579.2 L40.3,579.2 L41.4,579.2 L42.6,579.2 L43.7,579.2 L44.8,579.2 L46,579.2 L47.1,579.3 L48.3,579.3 L49.4,579.3 L50.5,579.3 L51.7,579.3 L52.8,579.2 L54,579.2 L55.1,579.2 L56.2,579.1 L57.4,579 L58.5,578.8 L59.6,578.6 L60.8,578.3 L61.9,577.9 L63.1,577.4 L64.2,576.8 L65.3,576 L66.5,575.1 L67.6,574.2 L68.8,573.1 L69.9,572 L71,570.9 L72.2,569.9 L73.3,569 L74.5,568.3 L75.6,567.8 L76.7,567.7 L77.9,567.9 L79,568.3 L80.2,569.1 L81.3,570 L82.4,571.1 L83.6,572.2 L84.7,573.4 L85.9,574.5 L87,575.5 L88.1,576.4 L89.3,577.2 L90.4,577.8 L91.5,578.4 L92.7,578.8 L93.8,579.2 L95,579.4 L96.1,579.6 L97.2,579.8 L98.4,579.9 L99.5,580 L100.7,580 L101.8,580.1 L102.9,580.1 L104.1,580.2 L105.2,580.2 L106.4,580.2 L107.5,580.3 L108.6,580.3 L109.8,580.3 L110.9,580.4 L112.1,580.4 L113.2,580.4 L114.3,580.4 L115.5,580.4 L116.6,580.5 L116.6,580.6 L36.9,579.2 Z" fill="#e48a98" fill-opacity="0.7"/>
<path d="M50.5,579.3 L51.7,579.3 L52.8,579.4 L54,579.4 L55.1,579.4 L56.2,579.4 L57.4,579.4 L58.5,579.4 L59.6,579.4 L60.8,579.4 L61.9,579.4 L63.1,579.4 L64.2,579.4 L65.3,579.4 L66.5,579.3 L67.6,579.3 L68.8,579.2 L69.9,579.1 L71,578.9 L72.2,578.7 L73.3,578.3 L74.5,577.8 L75.6,577.2 L76.7,576.5 L77.9,575.5 L79,574.4 L80.2,573.1 L81.3,571.6 L82.4,570 L83.6,568.3 L84.7,566.7 L85.9,565.1 L87,563.8 L88.1,562.7 L89.3,562 L90.4,561.8 L91.5,562.1 L92.7,562.8 L93.8,563.9 L95,565.3 L96.1,566.9 L97.2,568.6 L98.4,570.3 L99.5,571.9 L100.7,573.4 L101.8,574.8 L102.9,576 L104.1,576.9 L105.2,577.7 L106.4,578.4 L107.5,578.9 L108.6,579.3 L109.8,579.5 L110.9,579.8 L112.1,579.9 L113.2,580 L114.3,580.1 L115.5,580.2 L116.6,580.3 L117.7,580.3 L118.9,580.4 L120,580.4 L121.2,580.4 L122.3,580.5 L123.4,580.5 L124.6,580.5 L125.7,580.6 L126.9,580.6 L128,580.6 L129.1,580.6 L130.3,580.7 L130.3,580.8 L50.5,579.5 Z" fill="#d674ac" fill-opacity="0.7"/>
<path d="M65.3,579.6 L66.5,579.6 L67.6,579.7 L68.8,579.7 L69.9,579.7 L71,579.7 L72.2,579.7 L73.3,579.7 L74.5,579.7 L75.6,579.8 L76.7,579.8 L77.9,579.8 L79,579.8 L80.2,579.8 L81.3,579.8 L82.4,579.7 L83.6,579.7 L84.7,579.6 L85.9,579.6 L87,579.4 L88.1,579.2 L89.3,579 L90.4,578.7 L91.5,578.3 L92.7,577.8 L93.8,577.2 L95,576.4 L96.1,575.6 L97.2,574.8 L98.4,573.9 L99.5,573 L100.7,572.1 L101.8,571.4 L102.9,570.8 L104.1,570.5 L105.2,570.4 L106.4,570.5 L107.5,570.9 L108.6,571.5 L109.8,572.3 L110.9,573.2 L112.1,574.1 L113.2,575 L114.3,576 L115.5,576.8 L116.6,577.5 L117.7,578.2 L118.9,578.7 L120,579.2 L121.2,579.5 L122.3,579.8 L123.4,580 L124.6,580.2 L125.7,580.3 L126.9,580.4 L128,580.5 L129.1,580.6 L130.3,580.6 L131.4,580.6 L132.6,580.7 L133.7,580.7 L134.8,580.7 L136,580.8 L137.1,580.8 L138.3,580.8 L139.4,580.8 L140.5,580.9 L141.7,580.9 L142.8,580.9 L143.9,580.9 L145.1,581 L145.1,581 L65.3,579.7 Z" fill="#dd44e4" fill-opacity="0.7"/>
<path d="M77.9,579.9 L79,579.9 L80.2,579.9 L81.3,579.9 L82.4,579.9 L83.6,580 L84.7,580 L85.9,580 L87,580 L88.1,580 L89.3,580 L90.4,580 L91.5,580.1 L92.7,580.1 L93.8,580.1 L95,580.1 L96.1,580.1 L97.2,580.1 L98.4,580.1 L99.5,580 L100.7,580 L101.8,579.9 L102.9,579.8 L104.1,579.7 L105.2,579.5 L106.4,579.3 L107.5,579 L108.6,578.7 L109.8,578.3 L110.9,578 L112.1,577.6 L113.2,577.1 L114.3,576.7 L115.5,576.4 L116.6,576 L117.7,575.8 L118.9,575.6 L120,575.6 L121.2,575.7 L122.3,575.9 L123.4,576.2 L124.6,576.5 L125.7,576.9 L126.9,577.4 L128,577.8 L129.1,578.3 L130.3,578.7 L131.4,579.1 L132.6,579.4 L133.7,579.7 L134.8,580 L136,580.2 L137.1,580.4 L138.3,580.5 L139.4,580.6 L140.5,580.7 L141.7,580.8 L142.8,580.8 L143.9,580.9 L145.1,580.9 L146.2,581 L147.4,581 L148.5,581 L149.6,581 L150.8,581.1 L151.9,581.1 L153.1,581.1 L154.2,581.1 L155.3,581.2 L155.3,581.2 L77.9,579.9 Z" fill="#b01cff" fill-opacity="0.7"/>
<path d="M88.1,580.1 L89.3,580.1 L90.4,580.1 L91.5,580.1 L92.7,580.1 L93.8,580.2 L95,580.2 L96.1,580.2 L97.2,580.2 L98.4,580.2 L99.5,580.2 L100.7,580.3 L101.8,580.3 L102.9,580.3 L104.1,580.3 L105.2,580.3 L106.4,580.3 L107.5,580.3 L108.6,580.3 L109.8,580.3 L110.9,580.3 L112.1,580.2 L113.2,580.2 L114.3,580.1 L115.5,580 L116.6,579.9 L117.7,579.7 L118.9,579.6 L120,579.4 L121.2,579.2 L122.3,579 L123.4,578.9 L124.6,578.7 L125.7,578.6 L126.9,578.6 L128,578.5 L129.1,578.6 L130.3,578.7 L131.4,578.8 L132.6,579 L133.7,579.2 L134.8,579.5 L136,579.7 L137.1,579.9 L138.3,580.1 L139.4,580.3 L140.5,580.4 L141.7,580.6 L142.8,580.7 L143.9,580.8 L145.1,580.8 L146.2,580.9 L147.4,581 L148.5,581 L149.6,581 L150.8,581.1 L151.9,581.1 L153.1,581.1 L154.2,581.1 L155.3,581.2 L155.3,581.2 L88.1,580.1 Z" fill="#4a00a0" fill-opacity="0.7"/>
<path d="M15.2,579.2 L19.8,579.2 L24.3,579.3 L28.9,579.4 L33.4,579.5 L38,579.5 L42.6,579.6 L47.1,579.7 L51.7,579.8 L56.2,579.8 L60.8,579.9 L65.3,580 L69.9,580.1 L74.5,580.2 L79,580.2 L83.6,580.3 L88.1,580.4 L92.7,580.5 L97.2,580.5 L101.8,580.6 L106.4,580.7 L110.9,580.8 L115.5,580.8 L120,580.9 L124.6,581 L129.1,581.1 L133.7,581.1 L138.3,581.2 L142.8,581.3 L147.4,581.4 L151.9,581.4" fill="none" stroke="#e8803a" stroke-width="1.0"/>
<path d="M15.2,578.4 L19.8,578.4 L24.3,578.5 L28.9,578.6 L33.4,578.7 L38,578.7 L42.6,578.8 L47.1,578.9 L51.7,579 L56.2,579 L60.8,579.1 L65.3,579.2 L69.9,579.3 L74.5,579.4 L79,579.4 L83.6,579.5 L88.1,579.6 L92.7,579.7 L97.2,579.7 L101.8,579.8 L106.4,579.9 L110.9,580 L115.5,580 L120,580.1 L124.6,580.2 L129.1,580.3 L133.7,580.3 L138.3,580.4 L142.8,580.5 L147.4,580.6 L151.9,580.6" fill="none" stroke="#8a2cc0" stroke-width="1.0"/>
<path d="M16.9,576 L18.6,575.7 L20.3,576.1 L22.1,575.7 L23.8,575.8 L25.5,575.4 L27.2,575 L28.9,575 L30.6,574.8 L32.3,575.3 L34,575.1 L35.7,574.9 L37.4,575.1 L39.1,575.2 L40.9,575.3 L42.6,575.3 L44.3,575.1 L46,575 L47.7,574.7 L49.4,575 L51.1,574.9 L52.8,574.9 L54.5,575.3 L56.2,575.7 L57.9,575.2 L59.6,575.1 L61.4,575.1 L63.1,574.3 L64.8,573.4 L66.5,572.4 L68.2,570.7 L69.9,569.2 L71.6,567.4 L73.3,565.9 L75,564.3 L76.7,562.4 L78.4,561.7 L80.2,561 L81.9,560.3 L83.6,559.4 L85.3,558.5 L87,557.8 L88.7,557.2 L90.4,557.2 L92.1,558.1 L93.8,559.3 L95.5,560.7 L97.2,561.9 L99,562.9 L100.7,564.2 L102.4,565 L104.1,565.5 L105.8,566.4 L107.5,567.1 L109.2,568.1 L110.9,569 L112.6,569.7 L114.3,570.6 L116,571.1 L117.7,571.9 L119.5,572 L121.2,572.2 L122.9,572.6 L124.6,573.1 L126.3,573.8 L128,574.4 L129.7,575.1 L131.4,576.4 L133.1,577 L134.8,577.7 L136.5,578.4 L138.3,578.7 L140,579.1 L141.7,579.3 L143.4,579.7 L145.1,579.9 L146.8,580.2 L148.5,580.2 L150.2,580.5 L151.9,580.2 L153.6,580.6 L155.3,580.5" fill="none" stroke="#777" stroke-width="0.5"/>
<g fill="#fff" stroke="#6e6e6e" stroke-width="0.5">
<circle cx="16.9" cy="576" r="1.75"/>
<circle cx="18.6" cy="575.7" r="1.75"/>
<circle cx="20.3" cy="576.1" r="1.75"/>
<circle cx="22.1" cy="575.7" r="1.75"/>
<circle cx="23.8" cy="575.8" r="1.75"/>
<circle cx="25.5" cy="575.4" r="1.75"/>
<circle cx="27.2" cy="575" r="1.75"/>
<circle cx="28.9" cy="575" r="1.75"/>
<circle cx="30.6" cy="574.8" r="1.75"/>
<circle cx="32.3" cy="575.3" r="1.75"/>
<circle cx="34" cy="575.1" r="1.75"/>
<circle cx="35.7" cy="574.9" r="1.75"/>
<circle cx="37.4" cy="575.1" r="1.75"/>
<circle cx="39.1" cy="575.2" r="1.75"/>
<circle cx="40.9" cy="575.3" r="1.75"/>
<circle cx="42.6" cy="575.3" r="1.75"/>
<circle cx="44.3" cy="575.1" r="1.75"/>
<circle cx="46" cy="575" r="1.75"/>
<circle cx="47.7" cy="574.7" r="1.75"/>
<circle cx="49.4" cy="575" r="1.75"/>
<circle cx="51.1" cy="574.9" r="1.75"/>
<circle cx="52.8" cy="574.9" r="1.75"/>
<circle cx="54.5" cy="575.3" r="1.75"/>
<circle cx="56.2" cy="575.7" r="1.75"/>
<circle cx="57.9" cy="575.2" r="1.75"/>
<circle cx="59.6" cy="575.1" r="1.75"/>
<circle cx="61.4" cy="575.1" r="1.75"/>
<circle cx="63.1" cy="574.3" r="1.75"/>
<circle cx="64.8" cy="573.4" r="1.75"/>
<circle cx="66.5" cy="572.4" r="1.75"/>
<circle cx="68.2" cy="570.7" r="1.75"/>
<circle cx="69.9" cy="569.2" r="1.75"/>
<circle cx="71.6" cy="567.4" r="1.75"/>
<circle cx="73.3" cy="565.9" r="1.75"/>
<circle cx="75" cy="564.3" r="1.75"/>
<circle cx="76.7" cy="562.4" r="1.75"/>
<circle cx="78.4" cy="561.7" r="1.75"/>
<circle cx="80.2" cy="561" r="1.75"/>
<circle cx="81.9" cy="560.3" r="1.75"/>
<circle cx="83.6" cy="559.4" r="1.75"/>
<circle cx="85.3" cy="558.5" r="1.75"/>
<circle cx="87" cy="557.8" r="1.75"/>
<circle cx="88.7" cy="557.2" r="1.75"/>
<circle cx="90.4" cy="557.2" r="1.75"/>
<circle cx="92.1" cy="558.1" r="1.75"/>
<circle cx="93.8" cy="559.3" r="1.75"/>
<circle cx="95.5" cy="560.7" r="1.75"/>
<circle cx="97.2" cy="561.9" r="1.75"/>
<circle cx="99" cy="562.9" r="1.75"/>
<circle cx="100.7" cy="564.2" r="1.75"/>
<circle cx="102.4" cy="565" r="1.75"/>
<circle cx="104.1" cy="565.5" r="1.75"/>
<circle cx="105.8" cy="566.4" r="1.75"/>
<circle cx="107.5" cy="567.1" r="1.75"/>
<circle cx="109.2" cy="568.1" r="1.75"/>
<circle cx="110.9" cy="569" r="1.75"/>
<circle cx="112.6" cy="569.7" r="1.75"/>
<circle cx="114.3" cy="570.6" r="1.75"/>
<circle cx="116" cy="571.1" r="1.75"/>
<circle cx="117.7" cy="571.9" r="1.75"/>
<circle cx="119.5" cy="572" r="1.75"/>
<circle cx="121.2" cy="572.2" r="1.75"/>
<circle cx="122.9" cy="572.6" r="1.75"/>
<circle cx="124.6" cy="573.1" r="1.75"/>
<circle cx="126.3" cy="573.8" r="1.75"/>
<circle cx="128" cy="574.4" r="1.75"/>
<circle cx="129.7" cy="575.1" r="1.75"/>
<circle cx="131.4" cy="576.4" r="1.75"/>
<circle cx="133.1" cy="577" r="1.75"/>
<circle cx="134.8" cy="577.7" r="1.75"/>
<circle cx="136.5" cy="578.4" r="1.75"/>
<circle cx="138.3" cy="578.7" r="1.75"/>
<circle cx="140" cy="579.1" r="1.75"/>
<circle cx="141.7" cy="579.3" r="1.75"/>
<circle cx="143.4" cy="579.7" r="1.75"/>
<circle cx="145.1" cy="579.9" r="1.75"/>
<circle cx="146.8" cy="580.2" r="1.75"/>
<circle cx="148.5" cy="580.2" r="1.75"/>
<circle cx="150.2" cy="580.5" r="1.75"/>
<circle cx="151.9" cy="580.2" r="1.75"/>
<circle cx="153.6" cy="580.6" r="1.75"/>
<circle cx="155.3" cy="580.5" r="1.75"/>
</g>
</g>
<rect x="17.5" y="470.5" width="136.7" height="111.6" fill="none" stroke="#a3a3a3" stroke-width="1"/>
<line x1="17.5" y1="582.1" x2="17.5" y2="584.1" stroke="#a3a3a3" stroke-width="0.9"/>
<line x1="28.9" y1="582.1" x2="28.9" y2="584.1" stroke="#a3a3a3" stroke-width="0.9"/>
<line x1="40.3" y1="582.1" x2="40.3" y2="584.1" stroke="#a3a3a3" stroke-width="0.9"/>
<line x1="51.7" y1="582.1" x2="51.7" y2="584.1" stroke="#a3a3a3" stroke-width="0.9"/>
<line x1="63.1" y1="582.1" x2="63.1" y2="584.1" stroke="#a3a3a3" stroke-width="0.9"/>
<line x1="74.5" y1="582.1" x2="74.5" y2="584.1" stroke="#a3a3a3" stroke-width="0.9"/>
<line x1="85.8" y1="582.1" x2="85.8" y2="584.1" stroke="#a3a3a3" stroke-width="0.9"/>
<line x1="97.2" y1="582.1" x2="97.2" y2="584.1" stroke="#a3a3a3" stroke-width="0.9"/>
<line x1="108.6" y1="582.1" x2="108.6" y2="584.1" stroke="#a3a3a3" stroke-width="0.9"/>
<line x1="120" y1="582.1" x2="120" y2="584.1" stroke="#a3a3a3" stroke-width="0.9"/>
<line x1="131.4" y1="582.1" x2="131.4" y2="584.1" stroke="#a3a3a3" stroke-width="0.9"/>
<line x1="142.8" y1="582.1" x2="142.8" y2="584.1" stroke="#a3a3a3" stroke-width="0.9"/>
<line x1="154.2" y1="582.1" x2="154.2" y2="584.1" stroke="#a3a3a3" stroke-width="0.9"/>
<text x="3.8" y="346.3" font-size="15" fill="#000" text-anchor="start" font-weight="bold" >g</text>
<text x="23.4" y="364" font-size="11.2" fill="#1a1a1a" text-anchor="start" font-weight="normal" >10 min</text>
<text x="20.2" y="482.8" font-size="11.2" fill="#1a1a1a" text-anchor="start" font-weight="normal" >0 min</text>
<text transform="translate(12.3,407.5) rotate(-90)" font-size="11.2" fill="#1a1a1a" text-anchor="middle">Intensity (arb. units)</text>
<text transform="translate(12.3,526) rotate(-90)" font-size="11.2" fill="#1a1a1a" text-anchor="middle">Intensity (arb. units)</text>
<text x="17.5" y="594.3" font-size="11.2" fill="#1a1a1a" text-anchor="middle" font-weight="normal" >292</text>
<text x="40.3" y="594.3" font-size="11.2" fill="#1a1a1a" text-anchor="middle" font-weight="normal" >290</text>
<text x="63.1" y="594.3" font-size="11.2" fill="#1a1a1a" text-anchor="middle" font-weight="normal" >288</text>
<text x="85.8" y="594.3" font-size="11.2" fill="#1a1a1a" text-anchor="middle" font-weight="normal" >286</text>
<text x="108.6" y="594.3" font-size="11.2" fill="#1a1a1a" text-anchor="middle" font-weight="normal" >284</text>
<text x="131.4" y="594.3" font-size="11.2" fill="#1a1a1a" text-anchor="middle" font-weight="normal" >282</text>
<text x="154.2" y="594.3" font-size="11.2" fill="#1a1a1a" text-anchor="middle" font-weight="normal" >280</text>
<text x="85.8" y="606.5" font-size="11.2" fill="#1a1a1a" text-anchor="middle" font-weight="normal" >Binding energy(eV)</text>
<text x="23.8" y="568.7" font-size="11.2" fill="#f6b266" text-anchor="start" font-weight="normal" >CF<tspan font-size="8" dy="3">x</tspan></text>
<text x="38.2" y="559.9" font-size="11.2" fill="#f2a085" text-anchor="start" font-weight="normal" >C=O</text>
<text x="59.6" y="547.2" font-size="11.2" fill="#e48a98" text-anchor="start" font-weight="normal" >C-S</text>
<text x="76.4" y="534.7" font-size="11.2" fill="#d674ac" text-anchor="start" font-weight="normal" >C-O</text>
<text x="97.3" y="547.2" font-size="11.2" fill="#dd44e4" text-anchor="start" font-weight="normal" >C-C</text>
<text x="113.7" y="557.7" font-size="11.2" fill="#b01cff" text-anchor="start" font-weight="normal" >LiC<tspan font-size="8" dy="3">x</tspan></text>
<text x="121.4" y="569.8" font-size="11.2" fill="#4a00a0" text-anchor="start" font-weight="normal" >Conta.</text>
<clipPath id="cp2254"><rect x="190.3" y="351.7" width="136.7" height="111.6"/></clipPath>
<g clip-path="url(#cp2254)">
<path d="M188,457.5 L189.2,457.5 L190.3,457.5 L191.4,457.5 L192.6,457.4 L193.7,457.3 L194.9,457.2 L196,457 L197.1,456.8 L198.3,456.6 L199.4,456.2 L200.6,455.8 L201.7,455.3 L202.8,454.7 L204,454 L205.1,453.3 L206.2,452.5 L207.4,451.8 L208.5,451.1 L209.7,450.5 L210.8,450 L211.9,449.7 L213.1,449.6 L214.2,449.7 L215.4,450 L216.5,450.5 L217.6,451.1 L218.8,451.9 L219.9,452.6 L221.1,453.4 L222.2,454.1 L223.3,454.8 L224.5,455.4 L225.6,455.9 L226.8,456.3 L227.9,456.7 L229,457 L230.2,457.2 L231.3,457.4 L232.4,457.5 L233.6,457.6 L234.7,457.6 L235.9,457.7 L237,457.7 L238.1,457.8 L239.3,457.8 L240.4,457.8 L241.6,457.8 L242.7,457.8 L243.8,457.8 L245,457.9 L246.1,457.9 L247.3,457.9 L248.4,457.9 L249.5,457.9 L250.7,457.9 L251.8,457.9 L253,457.9 L253,458 L188,457.7 Z" fill="#f6b266" fill-opacity="0.7"/>
<path d="M196,457.7 L197.1,457.7 L198.3,457.7 L199.4,457.7 L200.6,457.7 L201.7,457.7 L202.8,457.7 L204,457.7 L205.1,457.8 L206.2,457.8 L207.4,457.8 L208.5,457.8 L209.7,457.8 L210.8,457.8 L211.9,457.8 L213.1,457.8 L214.2,457.7 L215.4,457.7 L216.5,457.7 L217.6,457.7 L218.8,457.6 L219.9,457.6 L221.1,457.5 L222.2,457.4 L223.3,457.3 L224.5,457.2 L225.6,457.1 L226.8,457 L227.9,456.9 L229,456.9 L230.2,456.9 L231.3,456.9 L232.4,457 L233.6,457 L234.7,457.1 L235.9,457.2 L237,457.4 L238.1,457.5 L239.3,457.6 L240.4,457.6 L241.6,457.7 L242.7,457.8 L243.8,457.8 L245,457.9 L246.1,457.9 L247.3,457.9 L248.4,457.9 L249.5,457.9 L250.7,457.9 L251.8,458 L253,458 L254.1,458 L255.2,458 L256.4,458 L257.5,458 L258.7,458 L259.8,458 L260.9,458 L262.1,458 L263.2,458 L264.3,458 L264.3,458 L196,457.7 Z" fill="#f2a085" fill-opacity="0.7"/>
<path d="M218.8,457.8 L219.9,457.8 L221.1,457.8 L222.2,457.8 L223.3,457.8 L224.5,457.8 L225.6,457.8 L226.8,457.8 L227.9,457.9 L229,457.9 L230.2,457.9 L231.3,457.9 L232.4,457.9 L233.6,457.9 L234.7,457.9 L235.9,457.8 L237,457.8 L238.1,457.8 L239.3,457.8 L240.4,457.7 L241.6,457.7 L242.7,457.6 L243.8,457.5 L245,457.4 L246.1,457.3 L247.3,457.2 L248.4,457 L249.5,456.9 L250.7,456.8 L251.8,456.8 L253,456.8 L254.1,456.8 L255.2,456.9 L256.4,457 L257.5,457.1 L258.7,457.2 L259.8,457.3 L260.9,457.5 L262.1,457.6 L263.2,457.7 L264.3,457.8 L265.5,457.8 L266.6,457.9 L267.8,457.9 L268.9,458 L270,458 L271.2,458 L272.3,458 L273.5,458 L274.6,458 L275.7,458.1 L276.9,458.1 L278,458.1 L279.2,458.1 L280.3,458.1 L281.4,458.1 L282.6,458.1 L283.7,458.1 L284.9,458.1 L286,458.1 L287.1,458.1 L287.1,458.1 L218.8,457.8 Z" fill="#e48a98" fill-opacity="0.7"/>
<path d="M232.4,457.9 L233.6,457.9 L234.7,457.9 L235.9,457.9 L237,457.9 L238.1,457.9 L239.3,457.9 L240.4,457.9 L241.6,457.9 L242.7,457.9 L243.8,457.9 L245,457.9 L246.1,457.9 L247.3,457.9 L248.4,457.9 L249.5,457.9 L250.7,457.8 L251.8,457.8 L253,457.7 L254.1,457.7 L255.2,457.6 L256.4,457.4 L257.5,457.3 L258.7,457.1 L259.8,456.9 L260.9,456.6 L262.1,456.3 L263.2,456.1 L264.3,455.8 L265.5,455.6 L266.6,455.4 L267.8,455.3 L268.9,455.2 L270,455.3 L271.2,455.4 L272.3,455.6 L273.5,455.9 L274.6,456.1 L275.7,456.4 L276.9,456.7 L278,456.9 L279.2,457.2 L280.3,457.4 L281.4,457.5 L282.6,457.7 L283.7,457.8 L284.9,457.9 L286,457.9 L287.1,458 L288.3,458 L289.4,458.1 L290.5,458.1 L291.7,458.1 L292.8,458.1 L294,458.1 L295.1,458.1 L296.2,458.1 L297.4,458.1 L298.5,458.1 L299.7,458.2 L300.8,458.2 L301.9,458.2 L303.1,458.2 L304.2,458.2 L305.4,458.2 L305.4,458.2 L232.4,457.9 Z" fill="#d674ac" fill-opacity="0.7"/>
<path d="M249.5,458 L250.7,458 L251.8,458 L253,458 L254.1,458 L255.2,458 L256.4,458 L257.5,458 L258.7,458 L259.8,458 L260.9,458 L262.1,458 L263.2,458 L264.3,458 L265.5,458 L266.6,457.9 L267.8,457.9 L268.9,457.9 L270,457.8 L271.2,457.7 L272.3,457.6 L273.5,457.5 L274.6,457.3 L275.7,457.2 L276.9,457 L278,456.8 L279.2,456.7 L280.3,456.6 L281.4,456.6 L282.6,456.6 L283.7,456.7 L284.9,456.9 L286,457 L287.1,457.2 L288.3,457.4 L289.4,457.5 L290.5,457.7 L291.7,457.8 L292.8,457.9 L294,458 L295.1,458 L296.2,458.1 L297.4,458.1 L298.5,458.1 L299.7,458.1 L300.8,458.2 L301.9,458.2 L303.1,458.2 L304.2,458.2 L305.4,458.2 L306.5,458.2 L307.6,458.2 L308.8,458.2 L309.9,458.2 L311.1,458.2 L312.2,458.2 L313.3,458.2 L313.3,458.2 L249.5,458 Z" fill="#dd44e4" fill-opacity="0.7"/>
<path d="M264.3,458 L265.5,458 L266.6,458 L267.8,458 L268.9,458 L270,458 L271.2,458 L272.3,458.1 L273.5,458.1 L274.6,458.1 L275.7,458.1 L276.9,458.1 L278,458.1 L279.2,458.1 L280.3,458.1 L281.4,458.1 L282.6,458 L283.7,458 L284.9,458 L286,457.9 L287.1,457.9 L288.3,457.8 L289.4,457.7 L290.5,457.6 L291.7,457.6 L292.8,457.5 L294,457.4 L295.1,457.4 L296.2,457.4 L297.4,457.4 L298.5,457.4 L299.7,457.5 L300.8,457.6 L301.9,457.7 L303.1,457.8 L304.2,457.9 L305.4,458 L306.5,458 L307.6,458.1 L308.8,458.1 L309.9,458.2 L311.1,458.2 L312.2,458.2 L313.3,458.2 L314.5,458.2 L315.6,458.2 L316.7,458.2 L317.9,458.2 L319,458.3 L320.2,458.3 L321.3,458.3 L322.4,458.3 L323.6,458.3 L324.7,458.3 L325.9,458.3 L327,458.3 L328.1,458.3 L328.1,458.3 L264.3,458 Z" fill="#b01cff" fill-opacity="0.7"/>
<path d="M268.9,458 L270,458 L271.2,458 L272.3,458.1 L273.5,458.1 L274.6,458.1 L275.7,458.1 L276.9,458.1 L278,458.1 L279.2,458.1 L280.3,458.1 L281.4,458.1 L282.6,458.1 L283.7,458.1 L284.9,458.1 L286,458.1 L287.1,458.1 L288.3,458 L289.4,458 L290.5,458 L291.7,457.9 L292.8,457.8 L294,457.8 L295.1,457.7 L296.2,457.6 L297.4,457.5 L298.5,457.4 L299.7,457.4 L300.8,457.4 L301.9,457.4 L303.1,457.5 L304.2,457.5 L305.4,457.6 L306.5,457.7 L307.6,457.8 L308.8,457.9 L309.9,458 L311.1,458.1 L312.2,458.1 L313.3,458.1 L314.5,458.2 L315.6,458.2 L316.7,458.2 L317.9,458.2 L319,458.2 L320.2,458.3 L321.3,458.3 L322.4,458.3 L323.6,458.3 L324.7,458.3 L325.9,458.3 L327,458.3 L328.1,458.3 L328.1,458.3 L268.9,458 Z" fill="#4a00a0" fill-opacity="0.7"/>
<path d="M188,458 L192.6,458 L197.1,458 L201.7,458.1 L206.2,458.1 L210.8,458.1 L215.4,458.1 L219.9,458.1 L224.5,458.2 L229,458.2 L233.6,458.2 L238.1,458.2 L242.7,458.2 L247.3,458.3 L251.8,458.3 L256.4,458.3 L260.9,458.3 L265.5,458.3 L270,458.4 L274.6,458.4 L279.2,458.4 L283.7,458.4 L288.3,458.4 L292.8,458.5 L297.4,458.5 L301.9,458.5 L306.5,458.5 L311.1,458.5 L315.6,458.6 L320.2,458.6 L324.7,458.6" fill="none" stroke="#e8803a" stroke-width="1.0"/>
<path d="M188,457.2 L192.6,457.2 L197.1,457.2 L201.7,457.2 L206.2,457.3 L210.8,457.3 L215.4,457.3 L219.9,457.3 L224.5,457.4 L229,457.4 L233.6,457.4 L238.1,457.4 L242.7,457.4 L247.3,457.5 L251.8,457.5 L256.4,457.5 L260.9,457.5 L265.5,457.5 L270,457.6 L274.6,457.6 L279.2,457.6 L283.7,457.6 L288.3,457.6 L292.8,457.7 L297.4,457.7 L301.9,457.7 L306.5,457.7 L311.1,457.7 L315.6,457.8 L320.2,457.8 L324.7,457.8" fill="none" stroke="#8a2cc0" stroke-width="1.0"/>
<path d="M189.7,455.8 L191.4,455.9 L193.1,456 L194.9,456.1 L196.6,455.4 L198.3,455.3 L200,454.5 L201.7,454.1 L203.4,452.7 L205.1,451.9 L206.8,451 L208.5,449.5 L210.2,448.6 L211.9,448 L213.7,448 L215.4,448.4 L217.1,449.4 L218.8,450.1 L220.5,451.2 L222.2,452 L223.9,453.1 L225.6,453.9 L227.3,454.3 L229,454.4 L230.7,455 L232.4,455.4 L234.2,455.4 L235.9,455.3 L237.6,455.9 L239.3,456.1 L241,455.8 L242.7,455.7 L244.4,455.6 L246.1,455.7 L247.8,455.7 L249.5,455.4 L251.2,455.4 L253,454.9 L254.7,454.9 L256.4,455.1 L258.1,454.9 L259.8,454.7 L261.5,454.6 L263.2,454.2 L264.9,453.7 L266.6,453.7 L268.3,453.3 L270,453.6 L271.8,453.5 L273.5,453.8 L275.2,454 L276.9,454 L278.6,454.2 L280.3,454.1 L282,454.9 L283.7,454.9 L285.4,455.4 L287.1,455.1 L288.8,455.6 L290.5,455.7 L292.3,455.4 L294,455.1 L295.7,455.1 L297.4,455 L299.1,455.4 L300.8,455.1 L302.5,455.7 L304.2,455.7 L305.9,456 L307.6,456.3 L309.3,456.5 L311.1,456.7 L312.8,456.7 L314.5,456.6 L316.2,456.9 L317.9,456.6 L319.6,456.9 L321.3,457 L323,457 L324.7,456.7 L326.4,457 L328.1,457.2" fill="none" stroke="#777" stroke-width="0.5"/>
<g fill="#fff" stroke="#6e6e6e" stroke-width="0.5">
<circle cx="189.7" cy="455.8" r="1.75"/>
<circle cx="191.4" cy="455.9" r="1.75"/>
<circle cx="193.1" cy="456" r="1.75"/>
<circle cx="194.9" cy="456.1" r="1.75"/>
<circle cx="196.6" cy="455.4" r="1.75"/>
<circle cx="198.3" cy="455.3" r="1.75"/>
<circle cx="200" cy="454.5" r="1.75"/>
<circle cx="201.7" cy="454.1" r="1.75"/>
<circle cx="203.4" cy="452.7" r="1.75"/>
<circle cx="205.1" cy="451.9" r="1.75"/>
<circle cx="206.8" cy="451" r="1.75"/>
<circle cx="208.5" cy="449.5" r="1.75"/>
<circle cx="210.2" cy="448.6" r="1.75"/>
<circle cx="211.9" cy="448" r="1.75"/>
<circle cx="213.7" cy="448" r="1.75"/>
<circle cx="215.4" cy="448.4" r="1.75"/>
<circle cx="217.1" cy="449.4" r="1.75"/>
<circle cx="218.8" cy="450.1" r="1.75"/>
<circle cx="220.5" cy="451.2" r="1.75"/>
<circle cx="222.2" cy="452" r="1.75"/>
<circle cx="223.9" cy="453.1" r="1.75"/>
<circle cx="225.6" cy="453.9" r="1.75"/>
<circle cx="227.3" cy="454.3" r="1.75"/>
<circle cx="229" cy="454.4" r="1.75"/>
<circle cx="230.7" cy="455" r="1.75"/>
<circle cx="232.4" cy="455.4" r="1.75"/>
<circle cx="234.2" cy="455.4" r="1.75"/>
<circle cx="235.9" cy="455.3" r="1.75"/>
<circle cx="237.6" cy="455.9" r="1.75"/>
<circle cx="239.3" cy="456.1" r="1.75"/>
<circle cx="241" cy="455.8" r="1.75"/>
<circle cx="242.7" cy="455.7" r="1.75"/>
<circle cx="244.4" cy="455.6" r="1.75"/>
<circle cx="246.1" cy="455.7" r="1.75"/>
<circle cx="247.8" cy="455.7" r="1.75"/>
<circle cx="249.5" cy="455.4" r="1.75"/>
<circle cx="251.2" cy="455.4" r="1.75"/>
<circle cx="253" cy="454.9" r="1.75"/>
<circle cx="254.7" cy="454.9" r="1.75"/>
<circle cx="256.4" cy="455.1" r="1.75"/>
<circle cx="258.1" cy="454.9" r="1.75"/>
<circle cx="259.8" cy="454.7" r="1.75"/>
<circle cx="261.5" cy="454.6" r="1.75"/>
<circle cx="263.2" cy="454.2" r="1.75"/>
<circle cx="264.9" cy="453.7" r="1.75"/>
<circle cx="266.6" cy="453.7" r="1.75"/>
<circle cx="268.3" cy="453.3" r="1.75"/>
<circle cx="270" cy="453.6" r="1.75"/>
<circle cx="271.8" cy="453.5" r="1.75"/>
<circle cx="273.5" cy="453.8" r="1.75"/>
<circle cx="275.2" cy="454" r="1.75"/>
<circle cx="276.9" cy="454" r="1.75"/>
<circle cx="278.6" cy="454.2" r="1.75"/>
<circle cx="280.3" cy="454.1" r="1.75"/>
<circle cx="282" cy="454.9" r="1.75"/>
<circle cx="283.7" cy="454.9" r="1.75"/>
<circle cx="285.4" cy="455.4" r="1.75"/>
<circle cx="287.1" cy="455.1" r="1.75"/>
<circle cx="288.8" cy="455.6" r="1.75"/>
<circle cx="290.5" cy="455.7" r="1.75"/>
<circle cx="292.3" cy="455.4" r="1.75"/>
<circle cx="294" cy="455.1" r="1.75"/>
<circle cx="295.7" cy="455.1" r="1.75"/>
<circle cx="297.4" cy="455" r="1.75"/>
<circle cx="299.1" cy="455.4" r="1.75"/>
<circle cx="300.8" cy="455.1" r="1.75"/>
<circle cx="302.5" cy="455.7" r="1.75"/>
<circle cx="304.2" cy="455.7" r="1.75"/>
<circle cx="305.9" cy="456" r="1.75"/>
<circle cx="307.6" cy="456.3" r="1.75"/>
<circle cx="309.3" cy="456.5" r="1.75"/>
<circle cx="311.1" cy="456.7" r="1.75"/>
<circle cx="312.8" cy="456.7" r="1.75"/>
<circle cx="314.5" cy="456.6" r="1.75"/>
<circle cx="316.2" cy="456.9" r="1.75"/>
<circle cx="317.9" cy="456.6" r="1.75"/>
<circle cx="319.6" cy="456.9" r="1.75"/>
<circle cx="321.3" cy="457" r="1.75"/>
<circle cx="323" cy="457" r="1.75"/>
<circle cx="324.7" cy="456.7" r="1.75"/>
<circle cx="326.4" cy="457" r="1.75"/>
<circle cx="328.1" cy="457.2" r="1.75"/>
</g>
</g>
<rect x="190.3" y="351.7" width="136.7" height="111.6" fill="none" stroke="#a3a3a3" stroke-width="1"/>
<line x1="190.3" y1="463.3" x2="190.3" y2="465.3" stroke="#a3a3a3" stroke-width="0.9"/>
<line x1="201.7" y1="463.3" x2="201.7" y2="465.3" stroke="#a3a3a3" stroke-width="0.9"/>
<line x1="213.1" y1="463.3" x2="213.1" y2="465.3" stroke="#a3a3a3" stroke-width="0.9"/>
<line x1="224.5" y1="463.3" x2="224.5" y2="465.3" stroke="#a3a3a3" stroke-width="0.9"/>
<line x1="235.9" y1="463.3" x2="235.9" y2="465.3" stroke="#a3a3a3" stroke-width="0.9"/>
<line x1="247.3" y1="463.3" x2="247.3" y2="465.3" stroke="#a3a3a3" stroke-width="0.9"/>
<line x1="258.6" y1="463.3" x2="258.6" y2="465.3" stroke="#a3a3a3" stroke-width="0.9"/>
<line x1="270" y1="463.3" x2="270" y2="465.3" stroke="#a3a3a3" stroke-width="0.9"/>
<line x1="281.4" y1="463.3" x2="281.4" y2="465.3" stroke="#a3a3a3" stroke-width="0.9"/>
<line x1="292.8" y1="463.3" x2="292.8" y2="465.3" stroke="#a3a3a3" stroke-width="0.9"/>
<line x1="304.2" y1="463.3" x2="304.2" y2="465.3" stroke="#a3a3a3" stroke-width="0.9"/>
<line x1="315.6" y1="463.3" x2="315.6" y2="465.3" stroke="#a3a3a3" stroke-width="0.9"/>
<line x1="327" y1="463.3" x2="327" y2="465.3" stroke="#a3a3a3" stroke-width="0.9"/>
<clipPath id="cp2373"><rect x="190.3" y="470.5" width="136.7" height="110.9"/></clipPath>
<g clip-path="url(#cp2373)">
<path d="M188,574.7 L189.2,574.7 L190.3,574.7 L191.4,574.6 L192.6,574.6 L193.7,574.6 L194.9,574.5 L196,574.4 L197.1,574.3 L198.3,574.2 L199.4,574 L200.6,573.8 L201.7,573.5 L202.8,573.2 L204,572.8 L205.1,572.5 L206.2,572.1 L207.4,571.8 L208.5,571.4 L209.7,571.1 L210.8,570.9 L211.9,570.8 L213.1,570.8 L214.2,570.9 L215.4,571 L216.5,571.3 L217.6,571.6 L218.8,572 L219.9,572.4 L221.1,572.8 L222.2,573.2 L223.3,573.6 L224.5,574 L225.6,574.3 L226.8,574.6 L227.9,574.8 L229,575 L230.2,575.2 L231.3,575.3 L232.4,575.4 L233.6,575.5 L234.7,575.6 L235.9,575.6 L237,575.7 L238.1,575.7 L239.3,575.7 L240.4,575.8 L241.6,575.8 L242.7,575.8 L243.8,575.9 L245,575.9 L246.1,575.9 L247.3,576 L248.4,576 L249.5,576 L250.7,576 L251.8,576.1 L253,576.1 L254.1,576.1 L255.2,576.1 L255.2,576.2 L188,574.8 Z" fill="#f6b266" fill-opacity="0.7"/>
<path d="M193.7,574.8 L194.9,574.8 L196,574.9 L197.1,574.9 L198.3,574.9 L199.4,574.9 L200.6,574.9 L201.7,575 L202.8,575 L204,575 L205.1,575 L206.2,575 L207.4,575 L208.5,575 L209.7,575 L210.8,575 L211.9,575 L213.1,575 L214.2,574.9 L215.4,574.8 L216.5,574.7 L217.6,574.5 L218.8,574.3 L219.9,573.9 L221.1,573.5 L222.2,573.1 L223.3,572.5 L224.5,571.9 L225.6,571.2 L226.8,570.5 L227.9,569.8 L229,569.1 L230.2,568.5 L231.3,568.1 L232.4,567.8 L233.6,567.7 L234.7,567.8 L235.9,568.2 L237,568.7 L238.1,569.3 L239.3,570 L240.4,570.8 L241.6,571.5 L242.7,572.3 L243.8,572.9 L245,573.5 L246.1,574.1 L247.3,574.5 L248.4,574.9 L249.5,575.2 L250.7,575.4 L251.8,575.6 L253,575.7 L254.1,575.8 L255.2,575.9 L256.4,576 L257.5,576.1 L258.7,576.1 L259.8,576.1 L260.9,576.2 L262.1,576.2 L263.2,576.2 L264.3,576.3 L265.5,576.3 L266.6,576.3 L267.8,576.4 L268.9,576.4 L270,576.4 L271.2,576.4 L272.3,576.5 L273.5,576.5 L273.5,576.6 L193.7,574.9 Z" fill="#f2a085" fill-opacity="0.7"/>
<path d="M218.8,575.2 L219.9,575.2 L221.1,575.2 L222.2,575.2 L223.3,575.2 L224.5,575.2 L225.6,575.2 L226.8,575.2 L227.9,575.2 L229,575.2 L230.2,575.2 L231.3,575.1 L232.4,575 L233.6,574.8 L234.7,574.6 L235.9,574.2 L237,573.7 L238.1,572.9 L239.3,571.9 L240.4,570.5 L241.6,568.8 L242.7,566.6 L243.8,564.1 L245,561.3 L246.1,558.2 L247.3,555.1 L248.4,552.2 L249.5,549.7 L250.7,547.8 L251.8,546.8 L253,546.8 L254.1,547.9 L255.2,549.8 L256.4,552.3 L257.5,555.3 L258.7,558.5 L259.8,561.6 L260.9,564.5 L262.1,567 L263.2,569.2 L264.3,571 L265.5,572.5 L266.6,573.5 L267.8,574.3 L268.9,574.9 L270,575.3 L271.2,575.6 L272.3,575.8 L273.5,576 L274.6,576.1 L275.7,576.2 L276.9,576.2 L278,576.3 L279.2,576.4 L280.3,576.4 L281.4,576.5 L282.6,576.5 L283.7,576.5 L284.9,576.6 L286,576.6 L286,576.8 L218.8,575.4 Z" fill="#e48a98" fill-opacity="0.7"/>
<path d="M234.7,575.2 L235.9,575.2 L237,575.1 L238.1,575.1 L239.3,575.1 L240.4,575 L241.6,575 L242.7,575 L243.8,574.9 L245,574.8 L246.1,574.7 L247.3,574.5 L248.4,574.2 L249.5,573.8 L250.7,573.2 L251.8,572.3 L253,571 L254.1,569.1 L255.2,566.5 L256.4,563 L257.5,558.5 L258.7,552.8 L259.8,546.1 L260.9,538.2 L262.1,529.6 L263.2,520.6 L264.3,511.8 L265.5,503.9 L266.6,497.5 L267.8,493.3 L268.9,491.9 L270,493.3 L271.2,497.6 L272.3,504 L273.5,512 L274.6,520.9 L275.7,529.9 L276.9,538.6 L278,546.4 L279.2,553.3 L280.3,559 L281.4,563.6 L282.6,567.1 L283.7,569.7 L284.9,571.7 L286,573 L287.1,574 L288.3,574.6 L289.4,575.1 L290.5,575.4 L291.7,575.6 L292.8,575.8 L294,575.9 L295.1,576.1 L296.2,576.2 L297.4,576.2 L298.5,576.3 L299.7,576.4 L300.8,576.5 L301.9,576.5 L303.1,576.6 L303.1,577.2 L234.7,575.7 Z" fill="#d674ac" fill-opacity="0.7"/>
<path d="M253,575.9 L254.1,576 L255.2,576 L256.4,576 L257.5,576 L258.7,576 L259.8,576 L260.9,576 L262.1,575.9 L263.2,575.9 L264.3,575.8 L265.5,575.7 L266.6,575.4 L267.8,575 L268.9,574.4 L270,573.5 L271.2,572.2 L272.3,570.5 L273.5,568.3 L274.6,565.7 L275.7,562.8 L276.9,559.7 L278,556.8 L279.2,554.3 L280.3,552.7 L281.4,552.1 L282.6,552.7 L283.7,554.4 L284.9,556.9 L286,559.9 L287.1,563 L288.3,566 L289.4,568.7 L290.5,570.9 L291.7,572.7 L292.8,574 L294,574.9 L295.1,575.6 L296.2,576 L297.4,576.3 L298.5,576.5 L299.7,576.7 L300.8,576.8 L301.9,576.8 L303.1,576.9 L304.2,576.9 L305.4,577 L306.5,577 L307.6,577.1 L308.8,577.1 L309.9,577.1 L309.9,577.3 L253,576.1 Z" fill="#dd44e4" fill-opacity="0.7"/>
<path d="M264.3,576.3 L265.5,576.3 L266.6,576.4 L267.8,576.4 L268.9,576.4 L270,576.4 L271.2,576.4 L272.3,576.5 L273.5,576.5 L274.6,576.5 L275.7,576.5 L276.9,576.5 L278,576.5 L279.2,576.5 L280.3,576.4 L281.4,576.4 L282.6,576.2 L283.7,576.1 L284.9,575.8 L286,575.4 L287.1,575 L288.3,574.5 L289.4,573.8 L290.5,573.2 L291.7,572.5 L292.8,571.9 L294,571.4 L295.1,571 L296.2,570.9 L297.4,571.1 L298.5,571.5 L299.7,572 L300.8,572.7 L301.9,573.4 L303.1,574.1 L304.2,574.8 L305.4,575.4 L306.5,575.9 L307.6,576.3 L308.8,576.6 L309.9,576.8 L311.1,577 L312.2,577.1 L313.3,577.2 L314.5,577.3 L315.6,577.3 L316.7,577.4 L317.9,577.4 L319,577.4 L320.2,577.5 L321.3,577.5 L322.4,577.5 L323.6,577.6 L324.7,577.6 L325.9,577.6 L327,577.6 L328.1,577.7 L328.1,577.7 L264.3,576.4 Z" fill="#b01cff" fill-opacity="0.7"/>
<path d="M264.3,576.3 L265.5,576.4 L266.6,576.4 L267.8,576.4 L268.9,576.4 L270,576.5 L271.2,576.5 L272.3,576.5 L273.5,576.5 L274.6,576.5 L275.7,576.6 L276.9,576.6 L278,576.6 L279.2,576.6 L280.3,576.6 L281.4,576.7 L282.6,576.7 L283.7,576.7 L284.9,576.7 L286,576.7 L287.1,576.6 L288.3,576.6 L289.4,576.5 L290.5,576.4 L291.7,576.3 L292.8,576.2 L294,576 L295.1,575.9 L296.2,575.7 L297.4,575.5 L298.5,575.3 L299.7,575.1 L300.8,574.9 L301.9,574.8 L303.1,574.7 L304.2,574.7 L305.4,574.8 L306.5,574.9 L307.6,575 L308.8,575.3 L309.9,575.5 L311.1,575.8 L312.2,576 L313.3,576.3 L314.5,576.5 L315.6,576.7 L316.7,576.9 L317.9,577 L319,577.2 L320.2,577.3 L321.3,577.4 L322.4,577.4 L323.6,577.5 L324.7,577.5 L325.9,577.6 L327,577.6 L328.1,577.7 L328.1,577.7 L264.3,576.4 Z" fill="#4a00a0" fill-opacity="0.7"/>
<path d="M188,575.1 L192.6,575.1 L197.1,575.2 L201.7,575.3 L206.2,575.4 L210.8,575.5 L215.4,575.6 L219.9,575.7 L224.5,575.8 L229,575.9 L233.6,576 L238.1,576.1 L242.7,576.2 L247.3,576.3 L251.8,576.4 L256.4,576.5 L260.9,576.6 L265.5,576.7 L270,576.8 L274.6,576.9 L279.2,577 L283.7,577.1 L288.3,577.2 L292.8,577.3 L297.4,577.4 L301.9,577.5 L306.5,577.5 L311.1,577.6 L315.6,577.7 L320.2,577.8 L324.7,577.9" fill="none" stroke="#e8803a" stroke-width="1.0"/>
<path d="M188,574.3 L192.6,574.3 L197.1,574.4 L201.7,574.5 L206.2,574.6 L210.8,574.7 L215.4,574.8 L219.9,574.9 L224.5,575 L229,575.1 L233.6,575.2 L238.1,575.3 L242.7,575.4 L247.3,575.5 L251.8,575.6 L256.4,575.7 L260.9,575.8 L265.5,575.9 L270,576 L274.6,576.1 L279.2,576.2 L283.7,576.3 L288.3,576.4 L292.8,576.5 L297.4,576.6 L301.9,576.7 L306.5,576.7 L311.1,576.8 L315.6,576.9 L320.2,577 L324.7,577.1" fill="none" stroke="#8a2cc0" stroke-width="1.0"/>
<path d="M189.7,573.4 L190.9,573.3 L192,573.4 L193.1,573.6 L194.3,573 L195.4,572.9 L196.6,573.1 L197.7,573 L198.8,572.9 L200,572.4 L201.1,572.5 L202.3,571.8 L203.4,571.8 L204.5,571 L205.7,570.6 L206.8,570.2 L208,569.8 L209.1,569.7 L210.2,569.5 L211.4,569 L212.5,569.3 L213.7,568.9 L214.8,568.8 L215.9,568.9 L217.1,569.3 L218.2,569.5 L219.3,569.1 L220.5,569 L221.6,569.4 L222.8,568.9 L223.9,569 L225,568.3 L226.2,567.8 L227.3,567.1 L228.5,566.7 L229.6,565.8 L230.7,565.1 L231.9,564.9 L233,563.9 L234.2,563.9 L235.3,563.2 L236.4,563.2 L237.6,562.7 L238.7,562.6 L239.9,561.5 L241,560.9 L242.1,559.5 L243.3,558.1 L244.4,556 L245.5,553.2 L246.7,550.1 L247.8,546.9 L249,543.7 L250.1,540.7 L251.2,537.9 L252.4,535.6 L253.5,534.2 L254.7,532.8 L255.8,531.5 L256.9,530.8 L258.1,528.7 L259.2,526.5 L260.4,522.7 L261.5,518.5 L262.6,512.8 L263.8,506.1 L264.9,500 L266.1,494.3 L267.2,489.5 L268.3,487 L269.5,487 L270.6,489.4 L271.8,493.2 L272.9,499 L274,505.2 L275.2,511.3 L276.3,517.3 L277.4,522.8 L278.6,527 L279.7,531.5 L280.9,535.1 L282,539.3 L283.1,543.4 L284.3,547.1 L285.4,551.6 L286.6,555.4 L287.7,558.3 L288.8,560.8 L290,562.9 L291.1,564.9 L292.3,565.2 L293.4,566.2 L294.5,566 L295.7,566.6 L296.8,566.4 L298,566.8 L299.1,567.5 L300.2,567.7 L301.4,568.5 L302.5,569.6 L303.6,570.1 L304.8,570.9 L305.9,571.7 L307.1,571.7 L308.2,572.4 L309.3,573.3 L310.5,573.7 L311.6,573.7 L312.8,574.3 L313.9,574.5 L315,574.9 L316.2,574.9 L317.3,575.1 L318.5,575.8 L319.6,575.6 L320.7,576 L321.9,575.7 L323,576 L324.2,575.9 L325.3,576.1 L326.4,576 L327.6,576.4" fill="none" stroke="#777" stroke-width="0.5"/>
<g fill="#fff" stroke="#6e6e6e" stroke-width="0.5">
<circle cx="189.7" cy="573.4" r="1.75"/>
<circle cx="190.9" cy="573.3" r="1.75"/>
<circle cx="192" cy="573.4" r="1.75"/>
<circle cx="193.1" cy="573.6" r="1.75"/>
<circle cx="194.3" cy="573" r="1.75"/>
<circle cx="195.4" cy="572.9" r="1.75"/>
<circle cx="196.6" cy="573.1" r="1.75"/>
<circle cx="197.7" cy="573" r="1.75"/>
<circle cx="198.8" cy="572.9" r="1.75"/>
<circle cx="200" cy="572.4" r="1.75"/>
<circle cx="201.1" cy="572.5" r="1.75"/>
<circle cx="202.3" cy="571.8" r="1.75"/>
<circle cx="203.4" cy="571.8" r="1.75"/>
<circle cx="204.5" cy="571" r="1.75"/>
<circle cx="205.7" cy="570.6" r="1.75"/>
<circle cx="206.8" cy="570.2" r="1.75"/>
<circle cx="208" cy="569.8" r="1.75"/>
<circle cx="209.1" cy="569.7" r="1.75"/>
<circle cx="210.2" cy="569.5" r="1.75"/>
<circle cx="211.4" cy="569" r="1.75"/>
<circle cx="212.5" cy="569.3" r="1.75"/>
<circle cx="213.7" cy="568.9" r="1.75"/>
<circle cx="214.8" cy="568.8" r="1.75"/>
<circle cx="215.9" cy="568.9" r="1.75"/>
<circle cx="217.1" cy="569.3" r="1.75"/>
<circle cx="218.2" cy="569.5" r="1.75"/>
<circle cx="219.3" cy="569.1" r="1.75"/>
<circle cx="220.5" cy="569" r="1.75"/>
<circle cx="221.6" cy="569.4" r="1.75"/>
<circle cx="222.8" cy="568.9" r="1.75"/>
<circle cx="223.9" cy="569" r="1.75"/>
<circle cx="225" cy="568.3" r="1.75"/>
<circle cx="226.2" cy="567.8" r="1.75"/>
<circle cx="227.3" cy="567.1" r="1.75"/>
<circle cx="228.5" cy="566.7" r="1.75"/>
<circle cx="229.6" cy="565.8" r="1.75"/>
<circle cx="230.7" cy="565.1" r="1.75"/>
<circle cx="231.9" cy="564.9" r="1.75"/>
<circle cx="233" cy="563.9" r="1.75"/>
<circle cx="234.2" cy="563.9" r="1.75"/>
<circle cx="235.3" cy="563.2" r="1.75"/>
<circle cx="236.4" cy="563.2" r="1.75"/>
<circle cx="237.6" cy="562.7" r="1.75"/>
<circle cx="238.7" cy="562.6" r="1.75"/>
<circle cx="239.9" cy="561.5" r="1.75"/>
<circle cx="241" cy="560.9" r="1.75"/>
<circle cx="242.1" cy="559.5" r="1.75"/>
<circle cx="243.3" cy="558.1" r="1.75"/>
<circle cx="244.4" cy="556" r="1.75"/>
<circle cx="245.5" cy="553.2" r="1.75"/>
<circle cx="246.7" cy="550.1" r="1.75"/>
<circle cx="247.8" cy="546.9" r="1.75"/>
<circle cx="249" cy="543.7" r="1.75"/>
<circle cx="250.1" cy="540.7" r="1.75"/>
<circle cx="251.2" cy="537.9" r="1.75"/>
<circle cx="252.4" cy="535.6" r="1.75"/>
<circle cx="253.5" cy="534.2" r="1.75"/>
<circle cx="254.7" cy="532.8" r="1.75"/>
<circle cx="255.8" cy="531.5" r="1.75"/>
<circle cx="256.9" cy="530.8" r="1.75"/>
<circle cx="258.1" cy="528.7" r="1.75"/>
<circle cx="259.2" cy="526.5" r="1.75"/>
<circle cx="260.4" cy="522.7" r="1.75"/>
<circle cx="261.5" cy="518.5" r="1.75"/>
<circle cx="262.6" cy="512.8" r="1.75"/>
<circle cx="263.8" cy="506.1" r="1.75"/>
<circle cx="264.9" cy="500" r="1.75"/>
<circle cx="266.1" cy="494.3" r="1.75"/>
<circle cx="267.2" cy="489.5" r="1.75"/>
<circle cx="268.3" cy="487" r="1.75"/>
<circle cx="269.5" cy="487" r="1.75"/>
<circle cx="270.6" cy="489.4" r="1.75"/>
<circle cx="271.8" cy="493.2" r="1.75"/>
<circle cx="272.9" cy="499" r="1.75"/>
<circle cx="274" cy="505.2" r="1.75"/>
<circle cx="275.2" cy="511.3" r="1.75"/>
<circle cx="276.3" cy="517.3" r="1.75"/>
<circle cx="277.4" cy="522.8" r="1.75"/>
<circle cx="278.6" cy="527" r="1.75"/>
<circle cx="279.7" cy="531.5" r="1.75"/>
<circle cx="280.9" cy="535.1" r="1.75"/>
<circle cx="282" cy="539.3" r="1.75"/>
<circle cx="283.1" cy="543.4" r="1.75"/>
<circle cx="284.3" cy="547.1" r="1.75"/>
<circle cx="285.4" cy="551.6" r="1.75"/>
<circle cx="286.6" cy="555.4" r="1.75"/>
<circle cx="287.7" cy="558.3" r="1.75"/>
<circle cx="288.8" cy="560.8" r="1.75"/>
<circle cx="290" cy="562.9" r="1.75"/>
<circle cx="291.1" cy="564.9" r="1.75"/>
<circle cx="292.3" cy="565.2" r="1.75"/>
<circle cx="293.4" cy="566.2" r="1.75"/>
<circle cx="294.5" cy="566" r="1.75"/>
<circle cx="295.7" cy="566.6" r="1.75"/>
<circle cx="296.8" cy="566.4" r="1.75"/>
<circle cx="298" cy="566.8" r="1.75"/>
<circle cx="299.1" cy="567.5" r="1.75"/>
<circle cx="300.2" cy="567.7" r="1.75"/>
<circle cx="301.4" cy="568.5" r="1.75"/>
<circle cx="302.5" cy="569.6" r="1.75"/>
<circle cx="303.6" cy="570.1" r="1.75"/>
<circle cx="304.8" cy="570.9" r="1.75"/>
<circle cx="305.9" cy="571.7" r="1.75"/>
<circle cx="307.1" cy="571.7" r="1.75"/>
<circle cx="308.2" cy="572.4" r="1.75"/>
<circle cx="309.3" cy="573.3" r="1.75"/>
<circle cx="310.5" cy="573.7" r="1.75"/>
<circle cx="311.6" cy="573.7" r="1.75"/>
<circle cx="312.8" cy="574.3" r="1.75"/>
<circle cx="313.9" cy="574.5" r="1.75"/>
<circle cx="315" cy="574.9" r="1.75"/>
<circle cx="316.2" cy="574.9" r="1.75"/>
<circle cx="317.3" cy="575.1" r="1.75"/>
<circle cx="318.5" cy="575.8" r="1.75"/>
<circle cx="319.6" cy="575.6" r="1.75"/>
<circle cx="320.7" cy="576" r="1.75"/>
<circle cx="321.9" cy="575.7" r="1.75"/>
<circle cx="323" cy="576" r="1.75"/>
<circle cx="324.2" cy="575.9" r="1.75"/>
<circle cx="325.3" cy="576.1" r="1.75"/>
<circle cx="326.4" cy="576" r="1.75"/>
<circle cx="327.6" cy="576.4" r="1.75"/>
</g>
</g>
<rect x="190.3" y="470.5" width="136.7" height="110.9" fill="none" stroke="#a3a3a3" stroke-width="1"/>
<line x1="190.3" y1="581.4" x2="190.3" y2="583.4" stroke="#a3a3a3" stroke-width="0.9"/>
<line x1="201.7" y1="581.4" x2="201.7" y2="583.4" stroke="#a3a3a3" stroke-width="0.9"/>
<line x1="213.1" y1="581.4" x2="213.1" y2="583.4" stroke="#a3a3a3" stroke-width="0.9"/>
<line x1="224.5" y1="581.4" x2="224.5" y2="583.4" stroke="#a3a3a3" stroke-width="0.9"/>
<line x1="235.9" y1="581.4" x2="235.9" y2="583.4" stroke="#a3a3a3" stroke-width="0.9"/>
<line x1="247.3" y1="581.4" x2="247.3" y2="583.4" stroke="#a3a3a3" stroke-width="0.9"/>
<line x1="258.6" y1="581.4" x2="258.6" y2="583.4" stroke="#a3a3a3" stroke-width="0.9"/>
<line x1="270" y1="581.4" x2="270" y2="583.4" stroke="#a3a3a3" stroke-width="0.9"/>
<line x1="281.4" y1="581.4" x2="281.4" y2="583.4" stroke="#a3a3a3" stroke-width="0.9"/>
<line x1="292.8" y1="581.4" x2="292.8" y2="583.4" stroke="#a3a3a3" stroke-width="0.9"/>
<line x1="304.2" y1="581.4" x2="304.2" y2="583.4" stroke="#a3a3a3" stroke-width="0.9"/>
<line x1="315.6" y1="581.4" x2="315.6" y2="583.4" stroke="#a3a3a3" stroke-width="0.9"/>
<line x1="327" y1="581.4" x2="327" y2="583.4" stroke="#a3a3a3" stroke-width="0.9"/>
<text x="177.6" y="346.8" font-size="15" fill="#000" text-anchor="start" font-weight="bold" >h</text>
<text x="194.8" y="364.8" font-size="11.2" fill="#1a1a1a" text-anchor="start" font-weight="normal" >10 min</text>
<text x="194.9" y="483.2" font-size="11.2" fill="#1a1a1a" text-anchor="start" font-weight="normal" >0 min</text>
<text transform="translate(184.6,407.5) rotate(-90)" font-size="11.2" fill="#1a1a1a" text-anchor="middle">Intensity (arb. units)</text>
<text transform="translate(184.6,526) rotate(-90)" font-size="11.2" fill="#1a1a1a" text-anchor="middle">Intensity (arb. units)</text>
<text x="190.3" y="593.6" font-size="11.2" fill="#1a1a1a" text-anchor="middle" font-weight="normal" >292</text>
<text x="213.1" y="593.6" font-size="11.2" fill="#1a1a1a" text-anchor="middle" font-weight="normal" >290</text>
<text x="235.9" y="593.6" font-size="11.2" fill="#1a1a1a" text-anchor="middle" font-weight="normal" >288</text>
<text x="258.6" y="593.6" font-size="11.2" fill="#1a1a1a" text-anchor="middle" font-weight="normal" >286</text>
<text x="281.4" y="593.6" font-size="11.2" fill="#1a1a1a" text-anchor="middle" font-weight="normal" >284</text>
<text x="304.2" y="593.6" font-size="11.2" fill="#1a1a1a" text-anchor="middle" font-weight="normal" >282</text>
<text x="327" y="593.6" font-size="11.2" fill="#1a1a1a" text-anchor="middle" font-weight="normal" >280</text>
<text x="259.1" y="606.1" font-size="11.2" fill="#1a1a1a" text-anchor="middle" font-weight="normal" >Binding energy(eV)</text>
<text x="201" y="563.6" font-size="11.2" fill="#f6b266" text-anchor="start" font-weight="normal" >CF<tspan font-size="8" dy="3">x</tspan></text>
<text x="219.3" y="555.2" font-size="11.2" fill="#f2a085" text-anchor="start" font-weight="normal" >C=O</text>
<text x="234.9" y="528.6" font-size="11.2" fill="#e48a98" text-anchor="start" font-weight="normal" >C-S</text>
<text x="243.9" y="484.4" font-size="11.2" fill="#d674ac" text-anchor="start" font-weight="normal" >C-O</text>
<text x="278.1" y="502.7" font-size="11.2" fill="#dd44e4" text-anchor="start" font-weight="normal" >C-C</text>
<text x="288.7" y="545.4" font-size="11.2" fill="#b01cff" text-anchor="start" font-weight="normal" >LiC<tspan font-size="8" dy="3">x</tspan></text>
<text x="294.5" y="562.9" font-size="11.2" fill="#4a00a0" text-anchor="start" font-weight="normal" >Conta.</text>
<clipPath id="cp4095"><rect x="374.4" y="351.7" width="136.9" height="111.6"/></clipPath>
<g clip-path="url(#cp4095)">
<path d="M371.9,456.6 L378.1,456.7 L384.3,456.8 L390.5,456.9 L396.6,457 L402.8,457.1 L409,457.2 L415.2,457.3 L421.3,457.4 L427.5,457.5 L433.7,457.6 L439.9,457.7 L446,457.8 L452.2,457.9 L458.4,458 L464.6,458.1 L470.7,458.2 L476.9,458.3 L483.1,458.4 L489.3,458.5 L495.4,458.6 L501.6,458.7 L507.8,458.8" fill="none" stroke="#8a8a8a" stroke-width="1.1" stroke-dasharray="1.6 1.2"/>
<path d="M371.9,454.9 L373.2,455 L374.4,455 L375.6,455 L376.9,455 L378.1,455 L379.3,455.1 L380.6,455.1 L381.8,455.1 L383,455.1 L384.3,455.1 L385.5,455.1 L386.8,455.1 L388,455.1 L389.2,455.1 L390.5,455.1 L391.7,455 L392.9,455 L394.2,454.9 L395.4,454.8 L396.6,454.7 L397.9,454.6 L399.1,454.4 L400.3,454.3 L401.6,454.2 L402.8,454.1 L404,454 L405.3,454 L406.5,454 L407.7,454.1 L409,454.3 L410.2,454.4 L411.5,454.6 L412.7,454.8 L413.9,455 L415.2,455.1 L416.4,455.3 L417.6,455.4 L418.9,455.5 L420.1,455.6 L421.3,455.6 L422.6,455.7 L423.8,455.7 L425,455.8 L426.3,455.8 L427.5,455.8 L428.7,455.9 L430,455.9 L431.2,455.9 L432.4,455.9 L433.7,455.9 L434.9,456 L436.2,456 L437.4,456 L438.6,456 L439.9,456 L441.1,456.1 L442.3,456.1 L442.3,456.1 L371.9,455 Z" fill="#f6b266" fill-opacity="0.7"/>
<path d="M389.2,455.1 L390.5,455.1 L391.7,455.1 L392.9,455.2 L394.2,455.2 L395.4,455.2 L396.6,455.2 L397.9,455.2 L399.1,455.2 L400.3,455.2 L401.6,455.1 L402.8,455.1 L404,455 L405.3,454.9 L406.5,454.8 L407.7,454.5 L409,454.1 L410.2,453.5 L411.5,452.7 L412.7,451.7 L413.9,450.4 L415.2,448.8 L416.4,446.9 L417.6,445 L418.9,443 L420.1,441.1 L421.3,439.6 L422.6,438.6 L423.8,438.3 L425,438.7 L426.3,439.7 L427.5,441.3 L428.7,443.1 L430,445.2 L431.2,447.2 L432.4,449 L433.7,450.7 L434.9,452 L436.2,453.1 L437.4,454 L438.6,454.6 L439.9,455 L441.1,455.3 L442.3,455.5 L443.6,455.7 L444.8,455.8 L446,455.9 L447.3,455.9 L448.5,456 L449.7,456 L451,456.1 L452.2,456.1 L453.4,456.1 L454.7,456.2 L455.9,456.2 L457.1,456.2 L458.4,456.2 L458.4,456.4 L389.2,455.2 Z" fill="#e48a98" fill-opacity="0.7"/>
<path d="M405.3,455.4 L406.5,455.4 L407.7,455.4 L409,455.4 L410.2,455.4 L411.5,455.4 L412.7,455.4 L413.9,455.4 L415.2,455.4 L416.4,455.4 L417.6,455.4 L418.9,455.4 L420.1,455.3 L421.3,455.2 L422.6,455.1 L423.8,454.9 L425,454.5 L426.3,454 L427.5,453.3 L428.7,452.4 L430,451.3 L431.2,449.8 L432.4,448.1 L433.7,446.2 L434.9,444.2 L436.2,442.2 L437.4,440.4 L438.6,438.9 L439.9,437.9 L441.1,437.6 L442.3,437.9 L443.6,439 L444.8,440.5 L446,442.4 L447.3,444.4 L448.5,446.5 L449.7,448.4 L451,450.1 L452.2,451.6 L453.4,452.8 L454.7,453.8 L455.9,454.5 L457.1,455 L458.4,455.4 L459.6,455.7 L460.9,455.9 L462.1,456 L463.3,456.1 L464.6,456.2 L465.8,456.2 L467,456.3 L468.3,456.3 L469.5,456.3 L470.7,456.4 L472,456.4 L473.2,456.4 L474.4,456.5 L475.7,456.5 L476.9,456.5 L476.9,456.7 L405.3,455.5 Z" fill="#dd44e4" fill-opacity="0.7"/>
<path d="M422.6,455.2 L423.8,455.2 L425,455.2 L426.3,455.2 L427.5,455.2 L428.7,455.1 L430,455.1 L431.2,455.1 L432.4,455 L433.7,455 L434.9,454.9 L436.2,454.9 L437.4,454.8 L438.6,454.7 L439.9,454.5 L441.1,454.3 L442.3,454 L443.6,453.6 L444.8,453.1 L446,452.4 L447.3,451.4 L448.5,450 L449.7,448.3 L451,446.1 L452.2,443.3 L453.4,439.9 L454.7,435.8 L455.9,431 L457.1,425.4 L458.4,419.3 L459.6,412.7 L460.9,405.7 L462.1,398.7 L463.3,391.9 L464.6,385.6 L465.8,380.2 L467,376 L468.3,373.4 L469.5,372.5 L470.7,373.5 L472,376.1 L473.2,380.3 L474.4,385.8 L475.7,392.1 L476.9,398.9 L478.1,406 L479.4,413 L480.6,419.7 L481.8,425.8 L483.1,431.4 L484.3,436.3 L485.6,440.4 L486.8,443.9 L488,446.7 L489.3,448.9 L490.5,450.7 L491.7,452.1 L493,453.1 L494.2,453.9 L495.4,454.5 L496.7,454.9 L497.9,455.2 L499.1,455.5 L500.4,455.7 L501.6,455.8 L502.8,456 L504.1,456.1 L505.3,456.2 L506.5,456.2 L507.8,456.3 L509,456.4 L510.3,456.5 L511.5,456.5 L512.7,456.6 L512.7,457.2 L422.6,455.8 Z" fill="#4a00a0" fill-opacity="0.7"/>
<path d="M371.9,455.3 L376.9,455.3 L381.8,455.4 L386.8,455.5 L391.7,455.6 L396.6,455.7 L401.6,455.7 L406.5,455.8 L411.5,455.9 L416.4,456 L421.3,456.1 L426.3,456.1 L431.2,456.2 L436.2,456.3 L441.1,456.4 L446,456.5 L451,456.5 L455.9,456.6 L460.9,456.7 L465.8,456.8 L470.7,456.9 L475.7,456.9 L480.6,457 L485.6,457.1 L490.5,457.2 L495.4,457.3 L500.4,457.3 L505.3,457.4 L510.3,457.5" fill="none" stroke="#e8803a" stroke-width="1.0"/>
<path d="M371.9,454.5 L376.9,454.5 L381.8,454.6 L386.8,454.7 L391.7,454.8 L396.6,454.9 L401.6,454.9 L406.5,455 L411.5,455.1 L416.4,455.2 L421.3,455.3 L426.3,455.3 L431.2,455.4 L436.2,455.5 L441.1,455.6 L446,455.7 L451,455.7 L455.9,455.8 L460.9,455.9 L465.8,456 L470.7,456.1 L475.7,456.1 L480.6,456.2 L485.6,456.3 L490.5,456.4 L495.4,456.5 L500.4,456.5 L505.3,456.6 L510.3,456.7" fill="none" stroke="#8a2cc0" stroke-width="1.0"/>
<path d="M373.8,452.6 L375,453 L376.3,452.9 L377.5,452.6 L378.7,452.8 L380,452.9 L381.2,453.1 L382.4,452.8 L383.7,452.7 L384.9,453.1 L386.1,453.1 L387.4,452.9 L388.6,452.6 L389.8,452.5 L391.1,452.5 L392.3,452.2 L393.5,452.1 L394.8,452.2 L396,451.9 L397.2,451.7 L398.5,451.3 L399.7,450.8 L401,450.8 L402.2,450.4 L403.4,449.9 L404.7,449.5 L405.9,449.2 L407.1,448.9 L408.4,448.3 L409.6,447.7 L410.8,446.9 L412.1,446.2 L413.3,445.5 L414.5,445 L415.8,443.8 L417,442.8 L418.2,441.7 L419.5,440.4 L420.7,439.8 L421.9,438.1 L423.2,437.3 L424.4,436.5 L425.7,435.1 L426.9,434.5 L428.1,433.7 L429.4,433.1 L430.6,432.7 L431.8,432.5 L433.1,433 L434.3,433.2 L435.5,433.8 L436.8,433.9 L438,435 L439.2,435.6 L440.5,436.6 L441.7,437.5 L442.9,438.2 L444.2,439.3 L445.4,439.2 L446.6,440 L447.9,440 L449.1,439.3 L450.4,438.4 L451.6,437.1 L452.8,434.4 L454.1,431.6 L455.3,427.9 L456.5,423.1 L457.8,417.9 L459,411.8 L460.2,405.4 L461.5,398.8 L462.7,392.1 L463.9,385.5 L465.2,380 L466.4,375.3 L467.6,371.8 L468.9,370.4 L470.1,370.3 L471.3,372.5 L472.6,375.8 L473.8,380.8 L475.1,386.7 L476.3,393.3 L477.5,400.2 L478.8,407.2 L480,414.6 L481.2,420.8 L482.5,426.7 L483.7,431.9 L484.9,436.6 L486.2,440.1 L487.4,443.2 L488.6,446.1 L489.9,447.9 L491.1,449.5 L492.3,450.9 L493.6,451.8 L494.8,452.5 L496,452.5 L497.3,453.1 L498.5,453.6 L499.8,453.8 L501,453.6 L502.2,453.8 L503.5,453.9 L504.7,454 L505.9,454.2 L507.2,454.6 L508.4,454.5 L509.6,454.5 L510.9,454.3 L512.1,454.6" fill="none" stroke="#777" stroke-width="0.5"/>
<g fill="#fff" stroke="#6e6e6e" stroke-width="0.5">
<circle cx="373.8" cy="452.6" r="1.75"/>
<circle cx="375" cy="453" r="1.75"/>
<circle cx="376.3" cy="452.9" r="1.75"/>
<circle cx="377.5" cy="452.6" r="1.75"/>
<circle cx="378.7" cy="452.8" r="1.75"/>
<circle cx="380" cy="452.9" r="1.75"/>
<circle cx="381.2" cy="453.1" r="1.75"/>
<circle cx="382.4" cy="452.8" r="1.75"/>
<circle cx="383.7" cy="452.7" r="1.75"/>
<circle cx="384.9" cy="453.1" r="1.75"/>
<circle cx="386.1" cy="453.1" r="1.75"/>
<circle cx="387.4" cy="452.9" r="1.75"/>
<circle cx="388.6" cy="452.6" r="1.75"/>
<circle cx="389.8" cy="452.5" r="1.75"/>
<circle cx="391.1" cy="452.5" r="1.75"/>
<circle cx="392.3" cy="452.2" r="1.75"/>
<circle cx="393.5" cy="452.1" r="1.75"/>
<circle cx="394.8" cy="452.2" r="1.75"/>
<circle cx="396" cy="451.9" r="1.75"/>
<circle cx="397.2" cy="451.7" r="1.75"/>
<circle cx="398.5" cy="451.3" r="1.75"/>
<circle cx="399.7" cy="450.8" r="1.75"/>
<circle cx="401" cy="450.8" r="1.75"/>
<circle cx="402.2" cy="450.4" r="1.75"/>
<circle cx="403.4" cy="449.9" r="1.75"/>
<circle cx="404.7" cy="449.5" r="1.75"/>
<circle cx="405.9" cy="449.2" r="1.75"/>
<circle cx="407.1" cy="448.9" r="1.75"/>
<circle cx="408.4" cy="448.3" r="1.75"/>
<circle cx="409.6" cy="447.7" r="1.75"/>
<circle cx="410.8" cy="446.9" r="1.75"/>
<circle cx="412.1" cy="446.2" r="1.75"/>
<circle cx="413.3" cy="445.5" r="1.75"/>
<circle cx="414.5" cy="445" r="1.75"/>
<circle cx="415.8" cy="443.8" r="1.75"/>
<circle cx="417" cy="442.8" r="1.75"/>
<circle cx="418.2" cy="441.7" r="1.75"/>
<circle cx="419.5" cy="440.4" r="1.75"/>
<circle cx="420.7" cy="439.8" r="1.75"/>
<circle cx="421.9" cy="438.1" r="1.75"/>
<circle cx="423.2" cy="437.3" r="1.75"/>
<circle cx="424.4" cy="436.5" r="1.75"/>
<circle cx="425.7" cy="435.1" r="1.75"/>
<circle cx="426.9" cy="434.5" r="1.75"/>
<circle cx="428.1" cy="433.7" r="1.75"/>
<circle cx="429.4" cy="433.1" r="1.75"/>
<circle cx="430.6" cy="432.7" r="1.75"/>
<circle cx="431.8" cy="432.5" r="1.75"/>
<circle cx="433.1" cy="433" r="1.75"/>
<circle cx="434.3" cy="433.2" r="1.75"/>
<circle cx="435.5" cy="433.8" r="1.75"/>
<circle cx="436.8" cy="433.9" r="1.75"/>
<circle cx="438" cy="435" r="1.75"/>
<circle cx="439.2" cy="435.6" r="1.75"/>
<circle cx="440.5" cy="436.6" r="1.75"/>
<circle cx="441.7" cy="437.5" r="1.75"/>
<circle cx="442.9" cy="438.2" r="1.75"/>
<circle cx="444.2" cy="439.3" r="1.75"/>
<circle cx="445.4" cy="439.2" r="1.75"/>
<circle cx="446.6" cy="440" r="1.75"/>
<circle cx="447.9" cy="440" r="1.75"/>
<circle cx="449.1" cy="439.3" r="1.75"/>
<circle cx="450.4" cy="438.4" r="1.75"/>
<circle cx="451.6" cy="437.1" r="1.75"/>
<circle cx="452.8" cy="434.4" r="1.75"/>
<circle cx="454.1" cy="431.6" r="1.75"/>
<circle cx="455.3" cy="427.9" r="1.75"/>
<circle cx="456.5" cy="423.1" r="1.75"/>
<circle cx="457.8" cy="417.9" r="1.75"/>
<circle cx="459" cy="411.8" r="1.75"/>
<circle cx="460.2" cy="405.4" r="1.75"/>
<circle cx="461.5" cy="398.8" r="1.75"/>
<circle cx="462.7" cy="392.1" r="1.75"/>
<circle cx="463.9" cy="385.5" r="1.75"/>
<circle cx="465.2" cy="380" r="1.75"/>
<circle cx="466.4" cy="375.3" r="1.75"/>
<circle cx="467.6" cy="371.8" r="1.75"/>
<circle cx="468.9" cy="370.4" r="1.75"/>
<circle cx="470.1" cy="370.3" r="1.75"/>
<circle cx="471.3" cy="372.5" r="1.75"/>
<circle cx="472.6" cy="375.8" r="1.75"/>
<circle cx="473.8" cy="380.8" r="1.75"/>
<circle cx="475.1" cy="386.7" r="1.75"/>
<circle cx="476.3" cy="393.3" r="1.75"/>
<circle cx="477.5" cy="400.2" r="1.75"/>
<circle cx="478.8" cy="407.2" r="1.75"/>
<circle cx="480" cy="414.6" r="1.75"/>
<circle cx="481.2" cy="420.8" r="1.75"/>
<circle cx="482.5" cy="426.7" r="1.75"/>
<circle cx="483.7" cy="431.9" r="1.75"/>
<circle cx="484.9" cy="436.6" r="1.75"/>
<circle cx="486.2" cy="440.1" r="1.75"/>
<circle cx="487.4" cy="443.2" r="1.75"/>
<circle cx="488.6" cy="446.1" r="1.75"/>
<circle cx="489.9" cy="447.9" r="1.75"/>
<circle cx="491.1" cy="449.5" r="1.75"/>
<circle cx="492.3" cy="450.9" r="1.75"/>
<circle cx="493.6" cy="451.8" r="1.75"/>
<circle cx="494.8" cy="452.5" r="1.75"/>
<circle cx="496" cy="452.5" r="1.75"/>
<circle cx="497.3" cy="453.1" r="1.75"/>
<circle cx="498.5" cy="453.6" r="1.75"/>
<circle cx="499.8" cy="453.8" r="1.75"/>
<circle cx="501" cy="453.6" r="1.75"/>
<circle cx="502.2" cy="453.8" r="1.75"/>
<circle cx="503.5" cy="453.9" r="1.75"/>
<circle cx="504.7" cy="454" r="1.75"/>
<circle cx="505.9" cy="454.2" r="1.75"/>
<circle cx="507.2" cy="454.6" r="1.75"/>
<circle cx="508.4" cy="454.5" r="1.75"/>
<circle cx="509.6" cy="454.5" r="1.75"/>
<circle cx="510.9" cy="454.3" r="1.75"/>
<circle cx="512.1" cy="454.6" r="1.75"/>
</g>
</g>
<rect x="374.4" y="351.7" width="136.9" height="111.6" fill="none" stroke="#a3a3a3" stroke-width="1"/>
<line x1="374.4" y1="463.3" x2="374.4" y2="465.3" stroke="#a3a3a3" stroke-width="0.9"/>
<line x1="386.7" y1="463.3" x2="386.7" y2="465.3" stroke="#a3a3a3" stroke-width="0.9"/>
<line x1="399.1" y1="463.3" x2="399.1" y2="465.3" stroke="#a3a3a3" stroke-width="0.9"/>
<line x1="411.4" y1="463.3" x2="411.4" y2="465.3" stroke="#a3a3a3" stroke-width="0.9"/>
<line x1="423.8" y1="463.3" x2="423.8" y2="465.3" stroke="#a3a3a3" stroke-width="0.9"/>
<line x1="436.1" y1="463.3" x2="436.1" y2="465.3" stroke="#a3a3a3" stroke-width="0.9"/>
<line x1="448.5" y1="463.3" x2="448.5" y2="465.3" stroke="#a3a3a3" stroke-width="0.9"/>
<line x1="460.8" y1="463.3" x2="460.8" y2="465.3" stroke="#a3a3a3" stroke-width="0.9"/>
<line x1="473.2" y1="463.3" x2="473.2" y2="465.3" stroke="#a3a3a3" stroke-width="0.9"/>
<line x1="485.5" y1="463.3" x2="485.5" y2="465.3" stroke="#a3a3a3" stroke-width="0.9"/>
<line x1="497.9" y1="463.3" x2="497.9" y2="465.3" stroke="#a3a3a3" stroke-width="0.9"/>
<line x1="510.2" y1="463.3" x2="510.2" y2="465.3" stroke="#a3a3a3" stroke-width="0.9"/>
<clipPath id="cp4214"><rect x="374.4" y="470.5" width="136.9" height="110.9"/></clipPath>
<g clip-path="url(#cp4214)">
<path d="M371.9,578.6 L378.1,578.7 L384.3,578.8 L390.5,578.8 L396.6,578.9 L402.8,579 L409,579.1 L415.2,579.2 L421.3,579.3 L427.5,579.4 L433.7,579.5 L439.9,579.6 L446,579.7 L452.2,579.8 L458.4,579.9 L464.6,580 L470.7,580.1 L476.9,580.2 L483.1,580.3 L489.3,580.4 L495.4,580.5 L501.6,580.6 L507.8,580.7" fill="none" stroke="#8a8a8a" stroke-width="1.1" stroke-dasharray="1.6 1.2"/>
<path d="M371.9,576.9 L373.2,577 L374.4,577 L375.6,577 L376.9,577 L378.1,577 L379.3,577 L380.6,577 L381.8,577.1 L383,577.1 L384.3,577.1 L385.5,577.1 L386.8,577 L388,577 L389.2,576.9 L390.5,576.9 L391.7,576.8 L392.9,576.6 L394.2,576.5 L395.4,576.3 L396.6,576.1 L397.9,575.9 L399.1,575.6 L400.3,575.4 L401.6,575.2 L402.8,575.1 L404,575 L405.3,575 L406.5,575 L407.7,575.2 L409,575.3 L410.2,575.6 L411.5,575.8 L412.7,576.1 L413.9,576.4 L415.2,576.6 L416.4,576.8 L417.6,577 L418.9,577.2 L420.1,577.3 L421.3,577.4 L422.6,577.5 L423.8,577.6 L425,577.7 L426.3,577.7 L427.5,577.7 L428.7,577.8 L430,577.8 L431.2,577.8 L432.4,577.9 L433.7,577.9 L434.9,577.9 L436.2,577.9 L437.4,577.9 L438.6,578 L439.9,578 L441.1,578 L442.3,578 L443.6,578 L444.8,578.1 L444.8,578.1 L371.9,577 Z" fill="#f6b266" fill-opacity="0.7"/>
<path d="M386.8,577.1 L388,577.2 L389.2,577.2 L390.5,577.2 L391.7,577.2 L392.9,577.2 L394.2,577.2 L395.4,577.2 L396.6,577.2 L397.9,577.2 L399.1,577.3 L400.3,577.2 L401.6,577.2 L402.8,577.2 L404,577.2 L405.3,577.1 L406.5,576.9 L407.7,576.8 L409,576.5 L410.2,576.2 L411.5,575.7 L412.7,575.2 L413.9,574.5 L415.2,573.8 L416.4,573 L417.6,572.2 L418.9,571.4 L420.1,570.8 L421.3,570.3 L422.6,570.1 L423.8,570.1 L425,570.4 L426.3,570.9 L427.5,571.6 L428.7,572.4 L430,573.2 L431.2,574 L432.4,574.8 L433.7,575.5 L434.9,576.1 L436.2,576.6 L437.4,576.9 L438.6,577.2 L439.9,577.5 L441.1,577.6 L442.3,577.7 L443.6,577.8 L444.8,577.9 L446,578 L447.3,578 L448.5,578 L449.7,578.1 L451,578.1 L452.2,578.1 L453.4,578.1 L454.7,578.2 L455.9,578.2 L457.1,578.2 L458.4,578.2 L459.6,578.3 L459.6,578.3 L386.8,577.2 Z" fill="#e48a98" fill-opacity="0.7"/>
<path d="M397.9,577.3 L399.1,577.3 L400.3,577.3 L401.6,577.3 L402.8,577.3 L404,577.4 L405.3,577.4 L406.5,577.4 L407.7,577.4 L409,577.4 L410.2,577.4 L411.5,577.4 L412.7,577.4 L413.9,577.4 L415.2,577.4 L416.4,577.3 L417.6,577.3 L418.9,577.2 L420.1,577.1 L421.3,576.9 L422.6,576.6 L423.8,576.3 L425,575.9 L426.3,575.4 L427.5,574.7 L428.7,574 L430,573.1 L431.2,572.1 L432.4,571.1 L433.7,570.1 L434.9,569 L436.2,568.1 L437.4,567.4 L438.6,566.8 L439.9,566.5 L441.1,566.6 L442.3,566.9 L443.6,567.5 L444.8,568.3 L446,569.2 L447.3,570.3 L448.5,571.3 L449.7,572.4 L451,573.4 L452.2,574.3 L453.4,575.1 L454.7,575.8 L455.9,576.4 L457.1,576.8 L458.4,577.2 L459.6,577.5 L460.9,577.7 L462.1,577.9 L463.3,578 L464.6,578.1 L465.8,578.1 L467,578.2 L468.3,578.3 L469.5,578.3 L470.7,578.3 L472,578.4 L473.2,578.4 L474.4,578.4 L475.7,578.4 L476.9,578.5 L478.1,578.5 L479.4,578.5 L480.6,578.5 L481.8,578.6 L483.1,578.6 L483.1,578.7 L397.9,577.4 Z" fill="#dd44e4" fill-opacity="0.7"/>
<path d="M412.7,577.4 L413.9,577.4 L415.2,577.4 L416.4,577.5 L417.6,577.5 L418.9,577.5 L420.1,577.5 L421.3,577.5 L422.6,577.5 L423.8,577.5 L425,577.5 L426.3,577.5 L427.5,577.5 L428.7,577.5 L430,577.5 L431.2,577.5 L432.4,577.4 L433.7,577.4 L434.9,577.3 L436.2,577.2 L437.4,577.1 L438.6,576.9 L439.9,576.7 L441.1,576.4 L442.3,576 L443.6,575.5 L444.8,574.9 L446,574.2 L447.3,573.3 L448.5,572.3 L449.7,571 L451,569.7 L452.2,568.1 L453.4,566.5 L454.7,564.8 L455.9,563 L457.1,561.2 L458.4,559.4 L459.6,557.8 L460.9,556.4 L462.1,555.3 L463.3,554.5 L464.6,554.1 L465.8,554.2 L467,554.6 L468.3,555.4 L469.5,556.6 L470.7,558 L472,559.6 L473.2,561.4 L474.4,563.2 L475.7,565.1 L476.9,566.9 L478.1,568.5 L479.4,570.1 L480.6,571.5 L481.8,572.8 L483.1,573.9 L484.3,574.8 L485.6,575.6 L486.8,576.2 L488,576.7 L489.3,577.1 L490.5,577.5 L491.7,577.7 L493,578 L494.2,578.1 L495.4,578.2 L496.7,578.4 L497.9,578.4 L499.1,578.5 L500.4,578.6 L501.6,578.6 L502.8,578.7 L504.1,578.7 L505.3,578.7 L506.5,578.8 L507.8,578.8 L509,578.8 L510.3,578.9 L511.5,578.9 L512.7,578.9 L512.7,579.1 L412.7,577.6 Z" fill="#4a00a0" fill-opacity="0.7"/>
<path d="M371.9,577.3 L376.9,577.3 L381.8,577.4 L386.8,577.5 L391.7,577.6 L396.6,577.6 L401.6,577.7 L406.5,577.8 L411.5,577.9 L416.4,577.9 L421.3,578 L426.3,578.1 L431.2,578.2 L436.2,578.3 L441.1,578.3 L446,578.4 L451,578.5 L455.9,578.6 L460.9,578.6 L465.8,578.7 L470.7,578.8 L475.7,578.9 L480.6,578.9 L485.6,579 L490.5,579.1 L495.4,579.2 L500.4,579.2 L505.3,579.3 L510.3,579.4" fill="none" stroke="#e8803a" stroke-width="1.0"/>
<path d="M371.9,576.5 L376.9,576.5 L381.8,576.6 L386.8,576.7 L391.7,576.8 L396.6,576.8 L401.6,576.9 L406.5,577 L411.5,577.1 L416.4,577.1 L421.3,577.2 L426.3,577.3 L431.2,577.4 L436.2,577.5 L441.1,577.5 L446,577.6 L451,577.7 L455.9,577.8 L460.9,577.8 L465.8,577.9 L470.7,578 L475.7,578.1 L480.6,578.1 L485.6,578.2 L490.5,578.3 L495.4,578.4 L500.4,578.4 L505.3,578.5 L510.3,578.6" fill="none" stroke="#8a2cc0" stroke-width="1.0"/>
<path d="M373.8,575.7 L375,575.5 L376.3,575.4 L377.5,575.4 L378.7,575.6 L380,575.6 L381.2,575.2 L382.4,575.5 L383.7,575.3 L384.9,575.4 L386.1,575.1 L387.4,575.1 L388.6,575 L389.8,574.9 L391.1,574.6 L392.3,574.5 L393.5,574.5 L394.8,574 L396,573.8 L397.2,573.8 L398.5,573.3 L399.7,573.1 L401,572.8 L402.2,572.9 L403.4,572.2 L404.7,572.3 L405.9,572.2 L407.1,571.7 L408.4,571.6 L409.6,571.5 L410.8,571.1 L412.1,570.6 L413.3,569.9 L414.5,569.6 L415.8,568.9 L417,568.5 L418.2,567.5 L419.5,567 L420.7,566.5 L421.9,566.1 L423.2,565.5 L424.4,565.3 L425.7,565.2 L426.9,565.3 L428.1,564.7 L429.4,565 L430.6,564.6 L431.8,564.1 L433.1,563.9 L434.3,563.3 L435.5,562.8 L436.8,562.8 L438,562.4 L439.2,562.3 L440.5,562.3 L441.7,562.7 L442.9,562.8 L444.2,562.6 L445.4,563.2 L446.6,563.3 L447.9,563.3 L449.1,563.4 L450.4,562.8 L451.6,562.3 L452.8,561.7 L454.1,560.5 L455.3,559.4 L456.5,558.1 L457.8,557 L459,555.7 L460.2,554.5 L461.5,553.3 L462.7,552.4 L463.9,552.3 L465.2,552.2 L466.4,552.5 L467.6,553.2 L468.9,553.7 L470.1,555 L471.3,556.4 L472.6,558.4 L473.8,559.7 L475.1,561.5 L476.3,563.6 L477.5,565.2 L478.8,566.6 L480,568.4 L481.2,569.8 L482.5,570.9 L483.7,571.8 L484.9,573.1 L486.2,573.7 L487.4,574.5 L488.6,575.3 L489.9,575.6 L491.1,576 L492.3,575.9 L493.6,576.3 L494.8,576.6 L496,576.4 L497.3,577.1 L498.5,576.8 L499.8,576.9 L501,577 L502.2,577 L503.5,577.4 L504.7,577.3 L505.9,577.3 L507.2,577.3 L508.4,577.1 L509.6,577.3 L510.9,577.6 L512.1,577.6" fill="none" stroke="#777" stroke-width="0.5"/>
<g fill="#fff" stroke="#6e6e6e" stroke-width="0.5">
<circle cx="373.8" cy="575.7" r="1.75"/>
<circle cx="375" cy="575.5" r="1.75"/>
<circle cx="376.3" cy="575.4" r="1.75"/>
<circle cx="377.5" cy="575.4" r="1.75"/>
<circle cx="378.7" cy="575.6" r="1.75"/>
<circle cx="380" cy="575.6" r="1.75"/>
<circle cx="381.2" cy="575.2" r="1.75"/>
<circle cx="382.4" cy="575.5" r="1.75"/>
<circle cx="383.7" cy="575.3" r="1.75"/>
<circle cx="384.9" cy="575.4" r="1.75"/>
<circle cx="386.1" cy="575.1" r="1.75"/>
<circle cx="387.4" cy="575.1" r="1.75"/>
<circle cx="388.6" cy="575" r="1.75"/>
<circle cx="389.8" cy="574.9" r="1.75"/>
<circle cx="391.1" cy="574.6" r="1.75"/>
<circle cx="392.3" cy="574.5" r="1.75"/>
<circle cx="393.5" cy="574.5" r="1.75"/>
<circle cx="394.8" cy="574" r="1.75"/>
<circle cx="396" cy="573.8" r="1.75"/>
<circle cx="397.2" cy="573.8" r="1.75"/>
<circle cx="398.5" cy="573.3" r="1.75"/>
<circle cx="399.7" cy="573.1" r="1.75"/>
<circle cx="401" cy="572.8" r="1.75"/>
<circle cx="402.2" cy="572.9" r="1.75"/>
<circle cx="403.4" cy="572.2" r="1.75"/>
<circle cx="404.7" cy="572.3" r="1.75"/>
<circle cx="405.9" cy="572.2" r="1.75"/>
<circle cx="407.1" cy="571.7" r="1.75"/>
<circle cx="408.4" cy="571.6" r="1.75"/>
<circle cx="409.6" cy="571.5" r="1.75"/>
<circle cx="410.8" cy="571.1" r="1.75"/>
<circle cx="412.1" cy="570.6" r="1.75"/>
<circle cx="413.3" cy="569.9" r="1.75"/>
<circle cx="414.5" cy="569.6" r="1.75"/>
<circle cx="415.8" cy="568.9" r="1.75"/>
<circle cx="417" cy="568.5" r="1.75"/>
<circle cx="418.2" cy="567.5" r="1.75"/>
<circle cx="419.5" cy="567" r="1.75"/>
<circle cx="420.7" cy="566.5" r="1.75"/>
<circle cx="421.9" cy="566.1" r="1.75"/>
<circle cx="423.2" cy="565.5" r="1.75"/>
<circle cx="424.4" cy="565.3" r="1.75"/>
<circle cx="425.7" cy="565.2" r="1.75"/>
<circle cx="426.9" cy="565.3" r="1.75"/>
<circle cx="428.1" cy="564.7" r="1.75"/>
<circle cx="429.4" cy="565" r="1.75"/>
<circle cx="430.6" cy="564.6" r="1.75"/>
<circle cx="431.8" cy="564.1" r="1.75"/>
<circle cx="433.1" cy="563.9" r="1.75"/>
<circle cx="434.3" cy="563.3" r="1.75"/>
<circle cx="435.5" cy="562.8" r="1.75"/>
<circle cx="436.8" cy="562.8" r="1.75"/>
<circle cx="438" cy="562.4" r="1.75"/>
<circle cx="439.2" cy="562.3" r="1.75"/>
<circle cx="440.5" cy="562.3" r="1.75"/>
<circle cx="441.7" cy="562.7" r="1.75"/>
<circle cx="442.9" cy="562.8" r="1.75"/>
<circle cx="444.2" cy="562.6" r="1.75"/>
<circle cx="445.4" cy="563.2" r="1.75"/>
<circle cx="446.6" cy="563.3" r="1.75"/>
<circle cx="447.9" cy="563.3" r="1.75"/>
<circle cx="449.1" cy="563.4" r="1.75"/>
<circle cx="450.4" cy="562.8" r="1.75"/>
<circle cx="451.6" cy="562.3" r="1.75"/>
<circle cx="452.8" cy="561.7" r="1.75"/>
<circle cx="454.1" cy="560.5" r="1.75"/>
<circle cx="455.3" cy="559.4" r="1.75"/>
<circle cx="456.5" cy="558.1" r="1.75"/>
<circle cx="457.8" cy="557" r="1.75"/>
<circle cx="459" cy="555.7" r="1.75"/>
<circle cx="460.2" cy="554.5" r="1.75"/>
<circle cx="461.5" cy="553.3" r="1.75"/>
<circle cx="462.7" cy="552.4" r="1.75"/>
<circle cx="463.9" cy="552.3" r="1.75"/>
<circle cx="465.2" cy="552.2" r="1.75"/>
<circle cx="466.4" cy="552.5" r="1.75"/>
<circle cx="467.6" cy="553.2" r="1.75"/>
<circle cx="468.9" cy="553.7" r="1.75"/>
<circle cx="470.1" cy="555" r="1.75"/>
<circle cx="471.3" cy="556.4" r="1.75"/>
<circle cx="472.6" cy="558.4" r="1.75"/>
<circle cx="473.8" cy="559.7" r="1.75"/>
<circle cx="475.1" cy="561.5" r="1.75"/>
<circle cx="476.3" cy="563.6" r="1.75"/>
<circle cx="477.5" cy="565.2" r="1.75"/>
<circle cx="478.8" cy="566.6" r="1.75"/>
<circle cx="480" cy="568.4" r="1.75"/>
<circle cx="481.2" cy="569.8" r="1.75"/>
<circle cx="482.5" cy="570.9" r="1.75"/>
<circle cx="483.7" cy="571.8" r="1.75"/>
<circle cx="484.9" cy="573.1" r="1.75"/>
<circle cx="486.2" cy="573.7" r="1.75"/>
<circle cx="487.4" cy="574.5" r="1.75"/>
<circle cx="488.6" cy="575.3" r="1.75"/>
<circle cx="489.9" cy="575.6" r="1.75"/>
<circle cx="491.1" cy="576" r="1.75"/>
<circle cx="492.3" cy="575.9" r="1.75"/>
<circle cx="493.6" cy="576.3" r="1.75"/>
<circle cx="494.8" cy="576.6" r="1.75"/>
<circle cx="496" cy="576.4" r="1.75"/>
<circle cx="497.3" cy="577.1" r="1.75"/>
<circle cx="498.5" cy="576.8" r="1.75"/>
<circle cx="499.8" cy="576.9" r="1.75"/>
<circle cx="501" cy="577" r="1.75"/>
<circle cx="502.2" cy="577" r="1.75"/>
<circle cx="503.5" cy="577.4" r="1.75"/>
<circle cx="504.7" cy="577.3" r="1.75"/>
<circle cx="505.9" cy="577.3" r="1.75"/>
<circle cx="507.2" cy="577.3" r="1.75"/>
<circle cx="508.4" cy="577.1" r="1.75"/>
<circle cx="509.6" cy="577.3" r="1.75"/>
<circle cx="510.9" cy="577.6" r="1.75"/>
<circle cx="512.1" cy="577.6" r="1.75"/>
</g>
</g>
<rect x="374.4" y="470.5" width="136.9" height="110.9" fill="none" stroke="#a3a3a3" stroke-width="1"/>
<line x1="374.4" y1="581.4" x2="374.4" y2="583.4" stroke="#a3a3a3" stroke-width="0.9"/>
<line x1="386.7" y1="581.4" x2="386.7" y2="583.4" stroke="#a3a3a3" stroke-width="0.9"/>
<line x1="399.1" y1="581.4" x2="399.1" y2="583.4" stroke="#a3a3a3" stroke-width="0.9"/>
<line x1="411.4" y1="581.4" x2="411.4" y2="583.4" stroke="#a3a3a3" stroke-width="0.9"/>
<line x1="423.8" y1="581.4" x2="423.8" y2="583.4" stroke="#a3a3a3" stroke-width="0.9"/>
<line x1="436.1" y1="581.4" x2="436.1" y2="583.4" stroke="#a3a3a3" stroke-width="0.9"/>
<line x1="448.5" y1="581.4" x2="448.5" y2="583.4" stroke="#a3a3a3" stroke-width="0.9"/>
<line x1="460.8" y1="581.4" x2="460.8" y2="583.4" stroke="#a3a3a3" stroke-width="0.9"/>
<line x1="473.2" y1="581.4" x2="473.2" y2="583.4" stroke="#a3a3a3" stroke-width="0.9"/>
<line x1="485.5" y1="581.4" x2="485.5" y2="583.4" stroke="#a3a3a3" stroke-width="0.9"/>
<line x1="497.9" y1="581.4" x2="497.9" y2="583.4" stroke="#a3a3a3" stroke-width="0.9"/>
<line x1="510.2" y1="581.4" x2="510.2" y2="583.4" stroke="#a3a3a3" stroke-width="0.9"/>
<text x="360.8" y="346.8" font-size="15" fill="#000" text-anchor="start" font-weight="bold" >i</text>
<text x="378.6" y="363.9" font-size="11.2" fill="#1a1a1a" text-anchor="start" font-weight="normal" >10 min</text>
<text x="378.6" y="483.2" font-size="11.2" fill="#1a1a1a" text-anchor="start" font-weight="normal" >0 min</text>
<text transform="translate(369.6,407.5) rotate(-90)" font-size="11.2" fill="#1a1a1a" text-anchor="middle">Intensity (arb. units)</text>
<text transform="translate(369.6,526) rotate(-90)" font-size="11.2" fill="#1a1a1a" text-anchor="middle">Intensity (arb. units)</text>
<text x="374.4" y="593.6" font-size="11.2" fill="#1a1a1a" text-anchor="middle" font-weight="normal" >536</text>
<text x="399.1" y="593.6" font-size="11.2" fill="#1a1a1a" text-anchor="middle" font-weight="normal" >534</text>
<text x="423.8" y="593.6" font-size="11.2" fill="#1a1a1a" text-anchor="middle" font-weight="normal" >532</text>
<text x="448.5" y="593.6" font-size="11.2" fill="#1a1a1a" text-anchor="middle" font-weight="normal" >530</text>
<text x="473.2" y="593.6" font-size="11.2" fill="#1a1a1a" text-anchor="middle" font-weight="normal" >528</text>
<text x="497.9" y="593.6" font-size="11.2" fill="#1a1a1a" text-anchor="middle" font-weight="normal" >526</text>
<text x="437.9" y="605.2" font-size="11.2" fill="#1a1a1a" text-anchor="middle" font-weight="normal" >Binding energy (eV)</text>
<text x="385.6" y="565.6" font-size="11.2" fill="#f6b266" text-anchor="start" font-weight="normal" >C-O</text>
<text x="406.5" y="554.6" font-size="11.2" fill="#e48a98" text-anchor="start" font-weight="normal" >S=O</text>
<text x="429" y="543.1" font-size="11.2" fill="#dd44e4" text-anchor="start" font-weight="normal" >C=O</text>
<text x="457.1" y="534.2" font-size="11.2" fill="#4a00a0" text-anchor="start" font-weight="normal" >Li<tspan font-size="8" dy="3">2</tspan><tspan dy="-3">O</tspan></text>
<clipPath id="cp5808"><rect x="545.7" y="351.7" width="136.9" height="111.6"/></clipPath>
<g clip-path="url(#cp5808)">
<path d="M543.2,457.3 L549.4,457.5 L555.6,457.6 L561.8,457.8 L567.9,457.9 L574.1,458 L580.3,458.2 L586.5,458.3 L592.6,458.5 L598.8,458.6 L605,458.7 L611.2,458.9 L617.3,459 L623.5,459.2 L629.7,459.3 L635.9,459.4 L642,459.6 L648.2,459.7 L654.4,459.9 L660.6,460 L666.7,460.1 L672.9,460.3 L679.1,460.4" fill="none" stroke="#8a8a8a" stroke-width="1.1" stroke-dasharray="1.6 1.2"/>
<path d="M543.2,455.7 L544.5,455.8 L545.7,455.8 L546.9,455.8 L548.2,455.8 L549.4,455.9 L550.6,455.9 L551.9,455.9 L553.1,455.9 L554.3,456 L555.6,456 L556.8,456 L558.1,456 L559.3,456 L560.5,456 L561.8,456 L563,456 L564.2,455.9 L565.5,455.8 L566.7,455.7 L567.9,455.6 L569.2,455.5 L570.4,455.4 L571.6,455.2 L572.9,455.1 L574.1,455 L575.3,455 L576.6,455 L577.8,455.1 L579,455.2 L580.3,455.3 L581.5,455.5 L582.8,455.7 L584,455.8 L585.2,456 L586.5,456.2 L587.7,456.3 L588.9,456.5 L590.2,456.6 L591.4,456.7 L592.6,456.7 L593.9,456.8 L595.1,456.9 L596.3,456.9 L597.6,456.9 L598.8,457 L600,457 L601.3,457 L602.5,457.1 L603.7,457.1 L605,457.1 L606.2,457.2 L607.5,457.2 L608.7,457.2 L609.9,457.2 L611.2,457.3 L612.4,457.3 L613.6,457.3 L613.6,457.3 L543.2,455.7 Z" fill="#f6b266" fill-opacity="0.7"/>
<path d="M554.3,455.8 L555.6,455.9 L556.8,455.9 L558.1,455.9 L559.3,455.9 L560.5,455.9 L561.8,455.9 L563,455.9 L564.2,455.9 L565.5,455.9 L566.7,455.9 L567.9,455.9 L569.2,455.9 L570.4,455.8 L571.6,455.8 L572.9,455.6 L574.1,455.5 L575.3,455.2 L576.6,454.8 L577.8,454.3 L579,453.6 L580.3,452.7 L581.5,451.5 L582.8,450.1 L584,448.4 L585.2,446.5 L586.5,444.4 L587.7,442.2 L588.9,440 L590.2,437.9 L591.4,436.1 L592.6,434.6 L593.9,433.7 L595.1,433.4 L596.3,433.8 L597.6,434.8 L598.8,436.3 L600,438.2 L601.3,440.3 L602.5,442.6 L603.7,444.8 L605,447 L606.2,448.9 L607.5,450.6 L608.7,452.1 L609.9,453.3 L611.2,454.3 L612.4,455.1 L613.6,455.6 L614.9,456.1 L616.1,456.4 L617.3,456.7 L618.6,456.8 L619.8,457 L621,457.1 L622.3,457.2 L623.5,457.2 L624.7,457.3 L626,457.3 L627.2,457.4 L628.4,457.4 L629.7,457.5 L630.9,457.5 L632.2,457.6 L633.4,457.6 L634.6,457.6 L635.9,457.7 L635.9,457.8 L554.3,456 Z" fill="#e48a98" fill-opacity="0.7"/>
<path d="M564.2,455.9 L565.5,455.9 L566.7,455.9 L567.9,456 L569.2,456 L570.4,456 L571.6,456 L572.9,456 L574.1,456 L575.3,456 L576.6,455.9 L577.8,455.9 L579,455.9 L580.3,455.8 L581.5,455.7 L582.8,455.6 L584,455.4 L585.2,455.2 L586.5,454.8 L587.7,454.3 L588.9,453.6 L590.2,452.6 L591.4,451.4 L592.6,449.8 L593.9,447.9 L595.1,445.5 L596.3,442.7 L597.6,439.5 L598.8,435.9 L600,432.2 L601.3,428.2 L602.5,424.4 L603.7,420.8 L605,417.7 L606.2,415.3 L607.5,413.7 L608.7,413.2 L609.9,413.8 L611.2,415.4 L612.4,417.9 L613.6,421 L614.9,424.7 L616.1,428.6 L617.3,432.5 L618.6,436.4 L619.8,440 L621,443.2 L622.3,446.1 L623.5,448.5 L624.7,450.5 L626,452.2 L627.2,453.5 L628.4,454.5 L629.7,455.2 L630.9,455.8 L632.2,456.2 L633.4,456.6 L634.6,456.8 L635.9,457 L637.1,457.1 L638.3,457.2 L639.6,457.3 L640.8,457.4 L642,457.5 L643.3,457.5 L644.5,457.6 L645.7,457.7 L647,457.7 L648.2,457.8 L649.4,457.8 L650.7,457.9 L651.9,457.9 L653.1,457.9 L653.1,458.2 L564.2,456.2 Z" fill="#dd44e4" fill-opacity="0.7"/>
<path d="M590.2,456.2 L591.4,456.2 L592.6,456.2 L593.9,456.2 L595.1,456.2 L596.3,456.2 L597.6,456.2 L598.8,456.1 L600,456.1 L601.3,456.1 L602.5,456 L603.7,456 L605,455.9 L606.2,455.8 L607.5,455.7 L608.7,455.6 L609.9,455.4 L611.2,455.1 L612.4,454.7 L613.6,454.2 L614.9,453.6 L616.1,452.7 L617.3,451.5 L618.6,449.9 L619.8,448 L621,445.5 L622.3,442.4 L623.5,438.8 L624.7,434.4 L626,429.4 L627.2,423.7 L628.4,417.5 L629.7,410.7 L630.9,403.7 L632.2,396.5 L633.4,389.6 L634.6,383 L635.9,377.3 L637.1,372.6 L638.3,369.3 L639.6,367.6 L640.8,367.7 L642,369.4 L643.3,372.8 L644.5,377.5 L645.7,383.3 L647,389.9 L648.2,396.9 L649.4,404.1 L650.7,411.2 L651.9,418 L653.1,424.3 L654.4,430.1 L655.6,435.1 L656.9,439.5 L658.1,443.3 L659.3,446.4 L660.6,448.9 L661.8,450.9 L663,452.5 L664.3,453.8 L665.5,454.7 L666.7,455.4 L668,456 L669.2,456.4 L670.4,456.8 L671.7,457 L672.9,457.2 L674.1,457.4 L675.4,457.5 L676.6,457.6 L677.8,457.7 L679.1,457.8 L680.3,457.9 L681.6,458 L682.8,458.1 L684,458.2 L684,458.9 L590.2,456.8 Z" fill="#4a00a0" fill-opacity="0.7"/>
<path d="M543.2,456 L548.2,456.2 L553.1,456.3 L558.1,456.4 L563,456.5 L567.9,456.6 L572.9,456.7 L577.8,456.8 L582.8,456.9 L587.7,457.1 L592.6,457.2 L597.6,457.3 L602.5,457.4 L607.5,457.5 L612.4,457.6 L617.3,457.7 L622.3,457.8 L627.2,457.9 L632.2,458.1 L637.1,458.2 L642,458.3 L647,458.4 L651.9,458.5 L656.9,458.6 L661.8,458.7 L666.7,458.8 L671.7,459 L676.6,459.1 L681.6,459.2" fill="none" stroke="#e8803a" stroke-width="1.0"/>
<path d="M543.2,455.2 L548.2,455.4 L553.1,455.5 L558.1,455.6 L563,455.7 L567.9,455.8 L572.9,455.9 L577.8,456 L582.8,456.1 L587.7,456.3 L592.6,456.4 L597.6,456.5 L602.5,456.6 L607.5,456.7 L612.4,456.8 L617.3,456.9 L622.3,457 L627.2,457.1 L632.2,457.3 L637.1,457.4 L642,457.5 L647,457.6 L651.9,457.7 L656.9,457.8 L661.8,457.9 L666.7,458 L671.7,458.2 L676.6,458.3 L681.6,458.4" fill="none" stroke="#8a2cc0" stroke-width="1.0"/>
<path d="M545.1,454.1 L546.3,453.7 L547.6,453.7 L548.8,453.6 L550,453.9 L551.3,453.8 L552.5,453.9 L553.7,453.8 L555,453.9 L556.2,453.7 L557.4,453.9 L558.7,453.5 L559.9,453.8 L561.1,453.5 L562.4,453 L563.6,453 L564.8,452.9 L566.1,452.5 L567.3,452.3 L568.5,451.8 L569.8,451.4 L571,451.3 L572.3,450.6 L573.5,450.4 L574.7,450 L576,449.3 L577.2,448.6 L578.4,448.2 L579.7,447 L580.9,446.2 L582.1,444.4 L583.4,443.1 L584.6,441.3 L585.8,438.8 L587.1,436.8 L588.3,433.6 L589.5,431 L590.8,427.8 L592,425.2 L593.2,421.9 L594.5,419.2 L595.7,416.4 L597,414 L598.2,411.8 L599.4,409.5 L600.7,407.6 L601.9,406.4 L603.1,404.7 L604.4,404.2 L605.6,403.4 L606.8,403.4 L608.1,404.1 L609.3,405.8 L610.5,407.7 L611.8,409.7 L613,412.5 L614.2,415 L615.5,418.2 L616.7,420.7 L617.9,422.5 L619.2,424.1 L620.4,425.5 L621.7,425.2 L622.9,424.8 L624.1,422.7 L625.4,419.9 L626.6,416.4 L627.8,411.6 L629.1,406.4 L630.3,400.2 L631.5,394.4 L632.8,387.7 L634,381.9 L635.2,375.8 L636.5,371.4 L637.7,367.9 L638.9,365.3 L640.2,364.4 L641.4,365.5 L642.6,368.2 L643.9,371.9 L645.1,377.2 L646.4,382.9 L647.6,389.8 L648.8,397 L650.1,403.9 L651.3,410.9 L652.5,417.2 L653.8,423.7 L655,428.8 L656.2,434.1 L657.5,438.4 L658.7,442 L659.9,444.7 L661.2,447.1 L662.4,449.1 L663.6,450.9 L664.9,452 L666.1,453.2 L667.3,453.5 L668.6,454.3 L669.8,454.9 L671.1,455.1 L672.3,455.4 L673.5,455.3 L674.8,455.5 L676,455.8 L677.2,456.3 L678.5,456.3 L679.7,456.1 L680.9,456.6 L682.2,456.1 L683.4,456.6" fill="none" stroke="#777" stroke-width="0.5"/>
<g fill="#fff" stroke="#6e6e6e" stroke-width="0.5">
<circle cx="545.1" cy="454.1" r="1.75"/>
<circle cx="546.3" cy="453.7" r="1.75"/>
<circle cx="547.6" cy="453.7" r="1.75"/>
<circle cx="548.8" cy="453.6" r="1.75"/>
<circle cx="550" cy="453.9" r="1.75"/>
<circle cx="551.3" cy="453.8" r="1.75"/>
<circle cx="552.5" cy="453.9" r="1.75"/>
<circle cx="553.7" cy="453.8" r="1.75"/>
<circle cx="555" cy="453.9" r="1.75"/>
<circle cx="556.2" cy="453.7" r="1.75"/>
<circle cx="557.4" cy="453.9" r="1.75"/>
<circle cx="558.7" cy="453.5" r="1.75"/>
<circle cx="559.9" cy="453.8" r="1.75"/>
<circle cx="561.1" cy="453.5" r="1.75"/>
<circle cx="562.4" cy="453" r="1.75"/>
<circle cx="563.6" cy="453" r="1.75"/>
<circle cx="564.8" cy="452.9" r="1.75"/>
<circle cx="566.1" cy="452.5" r="1.75"/>
<circle cx="567.3" cy="452.3" r="1.75"/>
<circle cx="568.5" cy="451.8" r="1.75"/>
<circle cx="569.8" cy="451.4" r="1.75"/>
<circle cx="571" cy="451.3" r="1.75"/>
<circle cx="572.3" cy="450.6" r="1.75"/>
<circle cx="573.5" cy="450.4" r="1.75"/>
<circle cx="574.7" cy="450" r="1.75"/>
<circle cx="576" cy="449.3" r="1.75"/>
<circle cx="577.2" cy="448.6" r="1.75"/>
<circle cx="578.4" cy="448.2" r="1.75"/>
<circle cx="579.7" cy="447" r="1.75"/>
<circle cx="580.9" cy="446.2" r="1.75"/>
<circle cx="582.1" cy="444.4" r="1.75"/>
<circle cx="583.4" cy="443.1" r="1.75"/>
<circle cx="584.6" cy="441.3" r="1.75"/>
<circle cx="585.8" cy="438.8" r="1.75"/>
<circle cx="587.1" cy="436.8" r="1.75"/>
<circle cx="588.3" cy="433.6" r="1.75"/>
<circle cx="589.5" cy="431" r="1.75"/>
<circle cx="590.8" cy="427.8" r="1.75"/>
<circle cx="592" cy="425.2" r="1.75"/>
<circle cx="593.2" cy="421.9" r="1.75"/>
<circle cx="594.5" cy="419.2" r="1.75"/>
<circle cx="595.7" cy="416.4" r="1.75"/>
<circle cx="597" cy="414" r="1.75"/>
<circle cx="598.2" cy="411.8" r="1.75"/>
<circle cx="599.4" cy="409.5" r="1.75"/>
<circle cx="600.7" cy="407.6" r="1.75"/>
<circle cx="601.9" cy="406.4" r="1.75"/>
<circle cx="603.1" cy="404.7" r="1.75"/>
<circle cx="604.4" cy="404.2" r="1.75"/>
<circle cx="605.6" cy="403.4" r="1.75"/>
<circle cx="606.8" cy="403.4" r="1.75"/>
<circle cx="608.1" cy="404.1" r="1.75"/>
<circle cx="609.3" cy="405.8" r="1.75"/>
<circle cx="610.5" cy="407.7" r="1.75"/>
<circle cx="611.8" cy="409.7" r="1.75"/>
<circle cx="613" cy="412.5" r="1.75"/>
<circle cx="614.2" cy="415" r="1.75"/>
<circle cx="615.5" cy="418.2" r="1.75"/>
<circle cx="616.7" cy="420.7" r="1.75"/>
<circle cx="617.9" cy="422.5" r="1.75"/>
<circle cx="619.2" cy="424.1" r="1.75"/>
<circle cx="620.4" cy="425.5" r="1.75"/>
<circle cx="621.7" cy="425.2" r="1.75"/>
<circle cx="622.9" cy="424.8" r="1.75"/>
<circle cx="624.1" cy="422.7" r="1.75"/>
<circle cx="625.4" cy="419.9" r="1.75"/>
<circle cx="626.6" cy="416.4" r="1.75"/>
<circle cx="627.8" cy="411.6" r="1.75"/>
<circle cx="629.1" cy="406.4" r="1.75"/>
<circle cx="630.3" cy="400.2" r="1.75"/>
<circle cx="631.5" cy="394.4" r="1.75"/>
<circle cx="632.8" cy="387.7" r="1.75"/>
<circle cx="634" cy="381.9" r="1.75"/>
<circle cx="635.2" cy="375.8" r="1.75"/>
<circle cx="636.5" cy="371.4" r="1.75"/>
<circle cx="637.7" cy="367.9" r="1.75"/>
<circle cx="638.9" cy="365.3" r="1.75"/>
<circle cx="640.2" cy="364.4" r="1.75"/>
<circle cx="641.4" cy="365.5" r="1.75"/>
<circle cx="642.6" cy="368.2" r="1.75"/>
<circle cx="643.9" cy="371.9" r="1.75"/>
<circle cx="645.1" cy="377.2" r="1.75"/>
<circle cx="646.4" cy="382.9" r="1.75"/>
<circle cx="647.6" cy="389.8" r="1.75"/>
<circle cx="648.8" cy="397" r="1.75"/>
<circle cx="650.1" cy="403.9" r="1.75"/>
<circle cx="651.3" cy="410.9" r="1.75"/>
<circle cx="652.5" cy="417.2" r="1.75"/>
<circle cx="653.8" cy="423.7" r="1.75"/>
<circle cx="655" cy="428.8" r="1.75"/>
<circle cx="656.2" cy="434.1" r="1.75"/>
<circle cx="657.5" cy="438.4" r="1.75"/>
<circle cx="658.7" cy="442" r="1.75"/>
<circle cx="659.9" cy="444.7" r="1.75"/>
<circle cx="661.2" cy="447.1" r="1.75"/>
<circle cx="662.4" cy="449.1" r="1.75"/>
<circle cx="663.6" cy="450.9" r="1.75"/>
<circle cx="664.9" cy="452" r="1.75"/>
<circle cx="666.1" cy="453.2" r="1.75"/>
<circle cx="667.3" cy="453.5" r="1.75"/>
<circle cx="668.6" cy="454.3" r="1.75"/>
<circle cx="669.8" cy="454.9" r="1.75"/>
<circle cx="671.1" cy="455.1" r="1.75"/>
<circle cx="672.3" cy="455.4" r="1.75"/>
<circle cx="673.5" cy="455.3" r="1.75"/>
<circle cx="674.8" cy="455.5" r="1.75"/>
<circle cx="676" cy="455.8" r="1.75"/>
<circle cx="677.2" cy="456.3" r="1.75"/>
<circle cx="678.5" cy="456.3" r="1.75"/>
<circle cx="679.7" cy="456.1" r="1.75"/>
<circle cx="680.9" cy="456.6" r="1.75"/>
<circle cx="682.2" cy="456.1" r="1.75"/>
<circle cx="683.4" cy="456.6" r="1.75"/>
</g>
</g>
<rect x="545.7" y="351.7" width="136.9" height="111.6" fill="none" stroke="#a3a3a3" stroke-width="1"/>
<line x1="545.7" y1="463.3" x2="545.7" y2="465.3" stroke="#a3a3a3" stroke-width="0.9"/>
<line x1="558.1" y1="463.3" x2="558.1" y2="465.3" stroke="#a3a3a3" stroke-width="0.9"/>
<line x1="570.4" y1="463.3" x2="570.4" y2="465.3" stroke="#a3a3a3" stroke-width="0.9"/>
<line x1="582.8" y1="463.3" x2="582.8" y2="465.3" stroke="#a3a3a3" stroke-width="0.9"/>
<line x1="595.1" y1="463.3" x2="595.1" y2="465.3" stroke="#a3a3a3" stroke-width="0.9"/>
<line x1="607.4" y1="463.3" x2="607.4" y2="465.3" stroke="#a3a3a3" stroke-width="0.9"/>
<line x1="619.8" y1="463.3" x2="619.8" y2="465.3" stroke="#a3a3a3" stroke-width="0.9"/>
<line x1="632.1" y1="463.3" x2="632.1" y2="465.3" stroke="#a3a3a3" stroke-width="0.9"/>
<line x1="644.5" y1="463.3" x2="644.5" y2="465.3" stroke="#a3a3a3" stroke-width="0.9"/>
<line x1="656.8" y1="463.3" x2="656.8" y2="465.3" stroke="#a3a3a3" stroke-width="0.9"/>
<line x1="669.2" y1="463.3" x2="669.2" y2="465.3" stroke="#a3a3a3" stroke-width="0.9"/>
<line x1="681.5" y1="463.3" x2="681.5" y2="465.3" stroke="#a3a3a3" stroke-width="0.9"/>
<clipPath id="cp5927"><rect x="545.7" y="470.5" width="136.9" height="110.9"/></clipPath>
<g clip-path="url(#cp5927)">
<path d="M543.2,575.4 L549.4,575.6 L555.6,575.7 L561.8,575.9 L567.9,576 L574.1,576.1 L580.3,576.3 L586.5,576.4 L592.6,576.6 L598.8,576.7 L605,576.8 L611.2,577 L617.3,577.1 L623.5,577.3 L629.7,577.4 L635.9,577.5 L642,577.7 L648.2,577.8 L654.4,578 L660.6,578.1 L666.7,578.2 L672.9,578.4 L679.1,578.5" fill="none" stroke="#8a8a8a" stroke-width="1.1" stroke-dasharray="1.6 1.2"/>
<path d="M543.2,573.8 L544.5,573.8 L545.7,573.8 L546.9,573.8 L548.2,573.8 L549.4,573.8 L550.6,573.8 L551.9,573.8 L553.1,573.8 L554.3,573.8 L555.6,573.7 L556.8,573.6 L558.1,573.5 L559.3,573.3 L560.5,573.1 L561.8,572.8 L563,572.5 L564.2,572.1 L565.5,571.6 L566.7,571.1 L567.9,570.6 L569.2,570.1 L570.4,569.5 L571.6,569.1 L572.9,568.6 L574.1,568.3 L575.3,568.1 L576.6,568.1 L577.8,568.2 L579,568.4 L580.3,568.8 L581.5,569.3 L582.8,569.8 L584,570.4 L585.2,571 L586.5,571.6 L587.7,572.1 L588.9,572.6 L590.2,573.1 L591.4,573.5 L592.6,573.8 L593.9,574.1 L595.1,574.3 L596.3,574.5 L597.6,574.7 L598.8,574.8 L600,574.9 L601.3,575 L602.5,575 L603.7,575.1 L605,575.1 L606.2,575.2 L607.5,575.2 L608.7,575.2 L609.9,575.3 L611.2,575.3 L612.4,575.3 L613.6,575.4 L614.9,575.4 L616.1,575.4 L617.3,575.5 L618.6,575.5 L619.8,575.5 L621,575.6 L622.3,575.6 L622.3,575.6 L543.2,573.8 Z" fill="#f6b266" fill-opacity="0.7"/>
<path d="M553.1,573.9 L554.3,573.9 L555.6,573.9 L556.8,573.9 L558.1,574 L559.3,574 L560.5,574 L561.8,574 L563,574 L564.2,574 L565.5,574 L566.7,574 L567.9,574 L569.2,573.9 L570.4,573.9 L571.6,573.8 L572.9,573.6 L574.1,573.4 L575.3,573.1 L576.6,572.7 L577.8,572.1 L579,571.3 L580.3,570.3 L581.5,569.1 L582.8,567.6 L584,565.8 L585.2,563.8 L586.5,561.6 L587.7,559.2 L588.9,556.8 L590.2,554.4 L591.4,552.3 L592.6,550.5 L593.9,549.3 L595.1,548.6 L596.3,548.6 L597.6,549.3 L598.8,550.7 L600,552.5 L601.3,554.7 L602.5,557.1 L603.7,559.6 L605,562 L606.2,564.3 L607.5,566.4 L608.7,568.2 L609.9,569.8 L611.2,571 L612.4,572.1 L613.6,572.9 L614.9,573.5 L616.1,574 L617.3,574.4 L618.6,574.7 L619.8,574.9 L621,575 L622.3,575.1 L623.5,575.2 L624.7,575.3 L626,575.4 L627.2,575.4 L628.4,575.5 L629.7,575.5 L630.9,575.6 L632.2,575.6 L633.4,575.7 L634.6,575.7 L635.9,575.7 L637.1,575.8 L638.3,575.8 L638.3,576 L553.1,574.1 Z" fill="#e48a98" fill-opacity="0.7"/>
<path d="M566.7,574 L567.9,574 L569.2,574 L570.4,574 L571.6,574 L572.9,574 L574.1,574 L575.3,574 L576.6,574 L577.8,574 L579,573.9 L580.3,573.9 L581.5,573.8 L582.8,573.7 L584,573.6 L585.2,573.4 L586.5,573 L587.7,572.6 L588.9,571.9 L590.2,571.1 L591.4,569.9 L592.6,568.3 L593.9,566.3 L595.1,563.8 L596.3,560.8 L597.6,557.2 L598.8,553.1 L600,548.6 L601.3,543.9 L602.5,539 L603.7,534.3 L605,530 L606.2,526.4 L607.5,523.8 L608.7,522.5 L609.9,522.5 L611.2,523.9 L612.4,526.5 L613.6,530.2 L614.9,534.5 L616.1,539.3 L617.3,544.2 L618.6,549.1 L619.8,553.6 L621,557.7 L622.3,561.4 L623.5,564.5 L624.7,567 L626,569.1 L627.2,570.7 L628.4,571.9 L629.7,572.9 L630.9,573.6 L632.2,574.1 L633.4,574.4 L634.6,574.7 L635.9,574.9 L637.1,575.1 L638.3,575.2 L639.6,575.3 L640.8,575.4 L642,575.5 L643.3,575.6 L644.5,575.6 L645.7,575.7 L647,575.7 L648.2,575.8 L649.4,575.8 L650.7,575.9 L651.9,575.9 L651.9,576.3 L566.7,574.4 Z" fill="#dd44e4" fill-opacity="0.7"/>
<path d="M585.2,574.5 L586.5,574.5 L587.7,574.5 L588.9,574.5 L590.2,574.5 L591.4,574.6 L592.6,574.6 L593.9,574.6 L595.1,574.6 L596.3,574.6 L597.6,574.6 L598.8,574.6 L600,574.5 L601.3,574.5 L602.5,574.5 L603.7,574.4 L605,574.4 L606.2,574.3 L607.5,574.1 L608.7,574 L609.9,573.7 L611.2,573.4 L612.4,572.9 L613.6,572.3 L614.9,571.5 L616.1,570.5 L617.3,569.3 L618.6,567.8 L619.8,566 L621,563.8 L622.3,561.4 L623.5,558.6 L624.7,555.6 L626,552.3 L627.2,548.9 L628.4,545.4 L629.7,542 L630.9,538.8 L632.2,535.9 L633.4,533.5 L634.6,531.7 L635.9,530.7 L637.1,530.5 L638.3,531.1 L639.6,532.5 L640.8,534.6 L642,537.2 L643.3,540.3 L644.5,543.7 L645.7,547.2 L647,550.7 L648.2,554.1 L649.4,557.4 L650.7,560.4 L651.9,563.1 L653.1,565.5 L654.4,567.5 L655.6,569.3 L656.9,570.7 L658.1,571.9 L659.3,572.9 L660.6,573.6 L661.8,574.2 L663,574.7 L664.3,575.1 L665.5,575.3 L666.7,575.6 L668,575.7 L669.2,575.9 L670.4,576 L671.7,576.1 L672.9,576.2 L674.1,576.2 L675.4,576.3 L676.6,576.4 L677.8,576.4 L679.1,576.5 L680.3,576.5 L681.6,576.6 L682.8,576.6 L684,576.7 L684,577 L585.2,574.8 Z" fill="#4a00a0" fill-opacity="0.7"/>
<path d="M543.2,574.1 L548.2,574.3 L553.1,574.4 L558.1,574.5 L563,574.6 L567.9,574.7 L572.9,574.8 L577.8,574.9 L582.8,575 L587.7,575.2 L592.6,575.3 L597.6,575.4 L602.5,575.5 L607.5,575.6 L612.4,575.7 L617.3,575.8 L622.3,575.9 L627.2,576 L632.2,576.2 L637.1,576.3 L642,576.4 L647,576.5 L651.9,576.6 L656.9,576.7 L661.8,576.8 L666.7,576.9 L671.7,577.1 L676.6,577.2 L681.6,577.3" fill="none" stroke="#e8803a" stroke-width="1.0"/>
<path d="M543.2,573.3 L548.2,573.5 L553.1,573.6 L558.1,573.7 L563,573.8 L567.9,573.9 L572.9,574 L577.8,574.1 L582.8,574.2 L587.7,574.4 L592.6,574.5 L597.6,574.6 L602.5,574.7 L607.5,574.8 L612.4,574.9 L617.3,575 L622.3,575.1 L627.2,575.2 L632.2,575.4 L637.1,575.5 L642,575.6 L647,575.7 L651.9,575.8 L656.9,575.9 L661.8,576 L666.7,576.1 L671.7,576.3 L676.6,576.4 L681.6,576.5" fill="none" stroke="#8a2cc0" stroke-width="1.0"/>
<path d="M545.1,572.2 L546.3,571.8 L547.6,572.2 L548.8,572 L550,571.6 L551.3,571.7 L552.5,571.7 L553.7,571.6 L555,571.8 L556.2,571.3 L557.4,571.5 L558.7,571 L559.9,570.6 L561.1,570.6 L562.4,570 L563.6,569.8 L564.8,569.4 L566.1,568.8 L567.3,568 L568.5,567.1 L569.8,566.7 L571,565.7 L572.3,565.2 L573.5,564.1 L574.7,563.6 L576,562.6 L577.2,561.7 L578.4,561 L579.7,559.7 L580.9,558.5 L582.1,557.6 L583.4,555.7 L584.6,554.1 L585.8,551.9 L587.1,549.1 L588.3,546.1 L589.5,543.1 L590.8,540.3 L592,536.5 L593.2,533.4 L594.5,530.2 L595.7,526.9 L597,524.3 L598.2,521.5 L599.4,519.3 L600.7,517.2 L601.9,515.2 L603.1,513.6 L604.4,512.6 L605.6,511.8 L606.8,511.6 L608.1,512.2 L609.3,513.7 L610.5,515.3 L611.8,517.8 L613,520 L614.2,523.6 L615.5,526.4 L616.7,529.7 L617.9,532.3 L619.2,534.9 L620.4,536.5 L621.7,538.2 L622.9,538.7 L624.1,538.9 L625.4,538.3 L626.6,537.6 L627.8,536.3 L629.1,534.5 L630.3,533 L631.5,530.8 L632.8,529.5 L634,528 L635.2,527.4 L636.5,527.4 L637.7,527.8 L638.9,528.5 L640.2,530.4 L641.4,532.9 L642.6,535.9 L643.9,538.4 L645.1,542 L646.4,545.4 L647.6,548.9 L648.8,551.9 L650.1,555.3 L651.3,558 L652.5,560.9 L653.8,562.7 L655,565.3 L656.2,566.8 L657.5,568.3 L658.7,569.3 L659.9,570.4 L661.2,571.6 L662.4,572.2 L663.6,572.4 L664.9,573 L666.1,573.2 L667.3,573.5 L668.6,573.7 L669.8,574 L671.1,574.5 L672.3,574.6 L673.5,574.6 L674.8,574.5 L676,574.6 L677.2,574.8 L678.5,575 L679.7,575 L680.9,575 L682.2,574.8 L683.4,575.1" fill="none" stroke="#777" stroke-width="0.5"/>
<g fill="#fff" stroke="#6e6e6e" stroke-width="0.5">
<circle cx="545.1" cy="572.2" r="1.75"/>
<circle cx="546.3" cy="571.8" r="1.75"/>
<circle cx="547.6" cy="572.2" r="1.75"/>
<circle cx="548.8" cy="572" r="1.75"/>
<circle cx="550" cy="571.6" r="1.75"/>
<circle cx="551.3" cy="571.7" r="1.75"/>
<circle cx="552.5" cy="571.7" r="1.75"/>
<circle cx="553.7" cy="571.6" r="1.75"/>
<circle cx="555" cy="571.8" r="1.75"/>
<circle cx="556.2" cy="571.3" r="1.75"/>
<circle cx="557.4" cy="571.5" r="1.75"/>
<circle cx="558.7" cy="571" r="1.75"/>
<circle cx="559.9" cy="570.6" r="1.75"/>
<circle cx="561.1" cy="570.6" r="1.75"/>
<circle cx="562.4" cy="570" r="1.75"/>
<circle cx="563.6" cy="569.8" r="1.75"/>
<circle cx="564.8" cy="569.4" r="1.75"/>
<circle cx="566.1" cy="568.8" r="1.75"/>
<circle cx="567.3" cy="568" r="1.75"/>
<circle cx="568.5" cy="567.1" r="1.75"/>
<circle cx="569.8" cy="566.7" r="1.75"/>
<circle cx="571" cy="565.7" r="1.75"/>
<circle cx="572.3" cy="565.2" r="1.75"/>
<circle cx="573.5" cy="564.1" r="1.75"/>
<circle cx="574.7" cy="563.6" r="1.75"/>
<circle cx="576" cy="562.6" r="1.75"/>
<circle cx="577.2" cy="561.7" r="1.75"/>
<circle cx="578.4" cy="561" r="1.75"/>
<circle cx="579.7" cy="559.7" r="1.75"/>
<circle cx="580.9" cy="558.5" r="1.75"/>
<circle cx="582.1" cy="557.6" r="1.75"/>
<circle cx="583.4" cy="555.7" r="1.75"/>
<circle cx="584.6" cy="554.1" r="1.75"/>
<circle cx="585.8" cy="551.9" r="1.75"/>
<circle cx="587.1" cy="549.1" r="1.75"/>
<circle cx="588.3" cy="546.1" r="1.75"/>
<circle cx="589.5" cy="543.1" r="1.75"/>
<circle cx="590.8" cy="540.3" r="1.75"/>
<circle cx="592" cy="536.5" r="1.75"/>
<circle cx="593.2" cy="533.4" r="1.75"/>
<circle cx="594.5" cy="530.2" r="1.75"/>
<circle cx="595.7" cy="526.9" r="1.75"/>
<circle cx="597" cy="524.3" r="1.75"/>
<circle cx="598.2" cy="521.5" r="1.75"/>
<circle cx="599.4" cy="519.3" r="1.75"/>
<circle cx="600.7" cy="517.2" r="1.75"/>
<circle cx="601.9" cy="515.2" r="1.75"/>
<circle cx="603.1" cy="513.6" r="1.75"/>
<circle cx="604.4" cy="512.6" r="1.75"/>
<circle cx="605.6" cy="511.8" r="1.75"/>
<circle cx="606.8" cy="511.6" r="1.75"/>
<circle cx="608.1" cy="512.2" r="1.75"/>
<circle cx="609.3" cy="513.7" r="1.75"/>
<circle cx="610.5" cy="515.3" r="1.75"/>
<circle cx="611.8" cy="517.8" r="1.75"/>
<circle cx="613" cy="520" r="1.75"/>
<circle cx="614.2" cy="523.6" r="1.75"/>
<circle cx="615.5" cy="526.4" r="1.75"/>
<circle cx="616.7" cy="529.7" r="1.75"/>
<circle cx="617.9" cy="532.3" r="1.75"/>
<circle cx="619.2" cy="534.9" r="1.75"/>
<circle cx="620.4" cy="536.5" r="1.75"/>
<circle cx="621.7" cy="538.2" r="1.75"/>
<circle cx="622.9" cy="538.7" r="1.75"/>
<circle cx="624.1" cy="538.9" r="1.75"/>
<circle cx="625.4" cy="538.3" r="1.75"/>
<circle cx="626.6" cy="537.6" r="1.75"/>
<circle cx="627.8" cy="536.3" r="1.75"/>
<circle cx="629.1" cy="534.5" r="1.75"/>
<circle cx="630.3" cy="533" r="1.75"/>
<circle cx="631.5" cy="530.8" r="1.75"/>
<circle cx="632.8" cy="529.5" r="1.75"/>
<circle cx="634" cy="528" r="1.75"/>
<circle cx="635.2" cy="527.4" r="1.75"/>
<circle cx="636.5" cy="527.4" r="1.75"/>
<circle cx="637.7" cy="527.8" r="1.75"/>
<circle cx="638.9" cy="528.5" r="1.75"/>
<circle cx="640.2" cy="530.4" r="1.75"/>
<circle cx="641.4" cy="532.9" r="1.75"/>
<circle cx="642.6" cy="535.9" r="1.75"/>
<circle cx="643.9" cy="538.4" r="1.75"/>
<circle cx="645.1" cy="542" r="1.75"/>
<circle cx="646.4" cy="545.4" r="1.75"/>
<circle cx="647.6" cy="548.9" r="1.75"/>
<circle cx="648.8" cy="551.9" r="1.75"/>
<circle cx="650.1" cy="555.3" r="1.75"/>
<circle cx="651.3" cy="558" r="1.75"/>
<circle cx="652.5" cy="560.9" r="1.75"/>
<circle cx="653.8" cy="562.7" r="1.75"/>
<circle cx="655" cy="565.3" r="1.75"/>
<circle cx="656.2" cy="566.8" r="1.75"/>
<circle cx="657.5" cy="568.3" r="1.75"/>
<circle cx="658.7" cy="569.3" r="1.75"/>
<circle cx="659.9" cy="570.4" r="1.75"/>
<circle cx="661.2" cy="571.6" r="1.75"/>
<circle cx="662.4" cy="572.2" r="1.75"/>
<circle cx="663.6" cy="572.4" r="1.75"/>
<circle cx="664.9" cy="573" r="1.75"/>
<circle cx="666.1" cy="573.2" r="1.75"/>
<circle cx="667.3" cy="573.5" r="1.75"/>
<circle cx="668.6" cy="573.7" r="1.75"/>
<circle cx="669.8" cy="574" r="1.75"/>
<circle cx="671.1" cy="574.5" r="1.75"/>
<circle cx="672.3" cy="574.6" r="1.75"/>
<circle cx="673.5" cy="574.6" r="1.75"/>
<circle cx="674.8" cy="574.5" r="1.75"/>
<circle cx="676" cy="574.6" r="1.75"/>
<circle cx="677.2" cy="574.8" r="1.75"/>
<circle cx="678.5" cy="575" r="1.75"/>
<circle cx="679.7" cy="575" r="1.75"/>
<circle cx="680.9" cy="575" r="1.75"/>
<circle cx="682.2" cy="574.8" r="1.75"/>
<circle cx="683.4" cy="575.1" r="1.75"/>
</g>
</g>
<rect x="545.7" y="470.5" width="136.9" height="110.9" fill="none" stroke="#a3a3a3" stroke-width="1"/>
<line x1="545.7" y1="581.4" x2="545.7" y2="583.4" stroke="#a3a3a3" stroke-width="0.9"/>
<line x1="558.1" y1="581.4" x2="558.1" y2="583.4" stroke="#a3a3a3" stroke-width="0.9"/>
<line x1="570.4" y1="581.4" x2="570.4" y2="583.4" stroke="#a3a3a3" stroke-width="0.9"/>
<line x1="582.8" y1="581.4" x2="582.8" y2="583.4" stroke="#a3a3a3" stroke-width="0.9"/>
<line x1="595.1" y1="581.4" x2="595.1" y2="583.4" stroke="#a3a3a3" stroke-width="0.9"/>
<line x1="607.4" y1="581.4" x2="607.4" y2="583.4" stroke="#a3a3a3" stroke-width="0.9"/>
<line x1="619.8" y1="581.4" x2="619.8" y2="583.4" stroke="#a3a3a3" stroke-width="0.9"/>
<line x1="632.1" y1="581.4" x2="632.1" y2="583.4" stroke="#a3a3a3" stroke-width="0.9"/>
<line x1="644.5" y1="581.4" x2="644.5" y2="583.4" stroke="#a3a3a3" stroke-width="0.9"/>
<line x1="656.8" y1="581.4" x2="656.8" y2="583.4" stroke="#a3a3a3" stroke-width="0.9"/>
<line x1="669.2" y1="581.4" x2="669.2" y2="583.4" stroke="#a3a3a3" stroke-width="0.9"/>
<line x1="681.5" y1="581.4" x2="681.5" y2="583.4" stroke="#a3a3a3" stroke-width="0.9"/>
<text x="535.6" y="346.8" font-size="15" fill="#000" text-anchor="start" font-weight="bold" >j</text>
<text x="550.5" y="363.9" font-size="11.2" fill="#1a1a1a" text-anchor="start" font-weight="normal" >10 min</text>
<text x="550.5" y="483.2" font-size="11.2" fill="#1a1a1a" text-anchor="start" font-weight="normal" >0 min</text>
<text transform="translate(540.2,407.5) rotate(-90)" font-size="11.2" fill="#1a1a1a" text-anchor="middle">Intensity (arb. units)</text>
<text transform="translate(540.2,526) rotate(-90)" font-size="11.2" fill="#1a1a1a" text-anchor="middle">Intensity (arb. units)</text>
<text x="545.7" y="593.6" font-size="11.2" fill="#1a1a1a" text-anchor="middle" font-weight="normal" >536</text>
<text x="570.4" y="593.6" font-size="11.2" fill="#1a1a1a" text-anchor="middle" font-weight="normal" >534</text>
<text x="595.1" y="593.6" font-size="11.2" fill="#1a1a1a" text-anchor="middle" font-weight="normal" >532</text>
<text x="619.8" y="593.6" font-size="11.2" fill="#1a1a1a" text-anchor="middle" font-weight="normal" >530</text>
<text x="644.5" y="593.6" font-size="11.2" fill="#1a1a1a" text-anchor="middle" font-weight="normal" >528</text>
<text x="669.2" y="593.6" font-size="11.2" fill="#1a1a1a" text-anchor="middle" font-weight="normal" >526</text>
<text x="609.3" y="604.7" font-size="11.2" fill="#1a1a1a" text-anchor="middle" font-weight="normal" >Binding energy (eV)</text>
<text x="556.6" y="560.2" font-size="11.2" fill="#f6b266" text-anchor="start" font-weight="normal" >C-O</text>
<text x="570.8" y="522.5" font-size="11.2" fill="#e48a98" text-anchor="start" font-weight="normal" >S=O</text>
<text x="597.7" y="504.7" font-size="11.2" fill="#dd44e4" text-anchor="start" font-weight="normal" >C=O</text>
<text x="629" y="515.7" font-size="11.2" fill="#4a00a0" text-anchor="start" font-weight="normal" >Li<tspan font-size="8" dy="3">2</tspan><tspan dy="-3">O</tspan></text>
</svg>
</body></html>
